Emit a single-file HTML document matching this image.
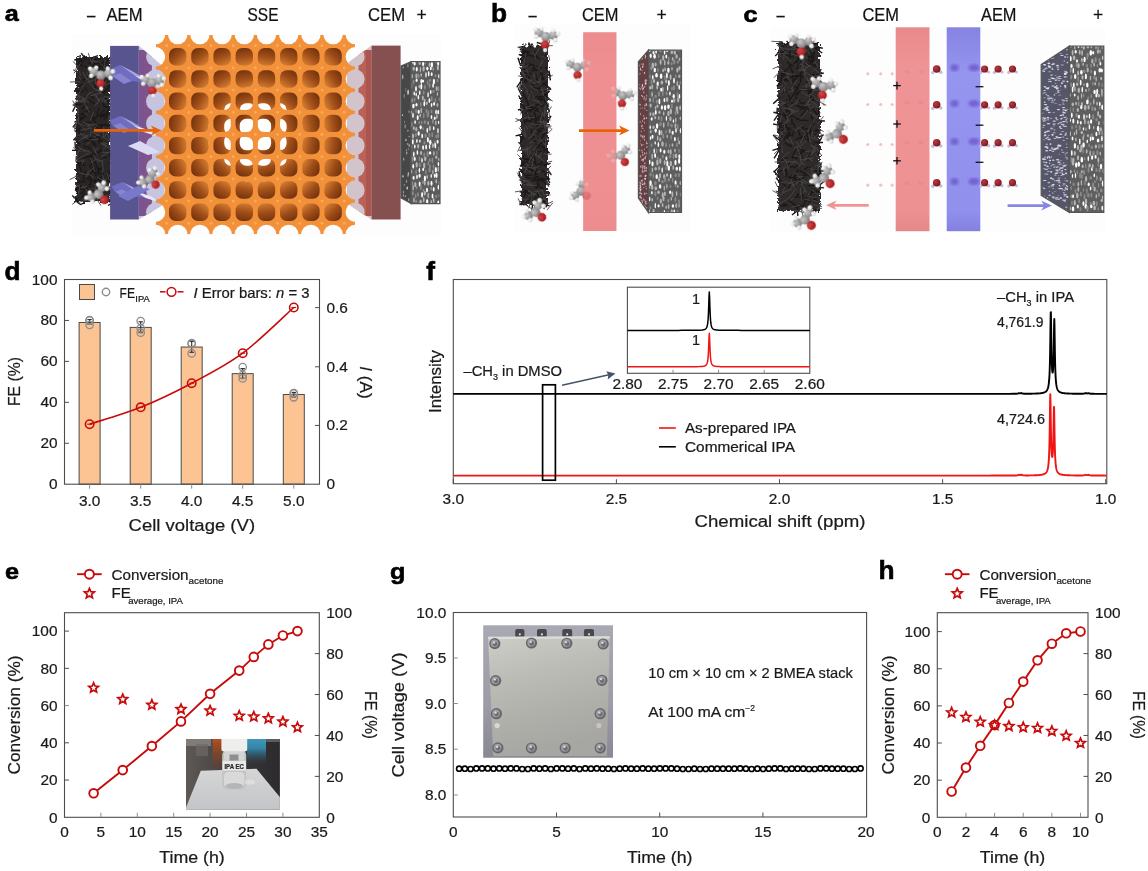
<!DOCTYPE html>
<html><head><meta charset="utf-8"><title>Figure</title>
<style>
html,body{margin:0;padding:0;background:#fff;}
body{width:1148px;height:871px;overflow:hidden;font-family:"Liberation Sans", sans-serif;}
svg{display:block;font-family:"Liberation Sans", sans-serif;will-change:transform;}
text:not(.pl){stroke:#1a1a1a;stroke-width:0.22px;}
</style></head><body>
<svg width="1148" height="871" viewBox="0 0 1148 871">
<rect width="1148" height="871" fill="#ffffff"/>
<g id="pd">
<text transform="translate(4.5,279.5) scale(1.03,1)" font-size="25.5" font-weight="bold" class="pl" fill="#000" stroke="#000" stroke-width="0.6">d</text>
<rect x="79.10" y="322.49" width="21" height="161.71" fill="#fcc493" stroke="#4a4a4a" stroke-width="1"/>
<rect x="130.20" y="327.40" width="21" height="156.80" fill="#fcc493" stroke="#4a4a4a" stroke-width="1"/>
<rect x="181.20" y="347.05" width="21" height="137.15" fill="#fcc493" stroke="#4a4a4a" stroke-width="1"/>
<rect x="232.20" y="373.66" width="21" height="110.54" fill="#fcc493" stroke="#4a4a4a" stroke-width="1"/>
<rect x="283.30" y="394.54" width="21" height="89.66" fill="#fcc493" stroke="#4a4a4a" stroke-width="1"/>
<rect x="64.5" y="279.5" width="255.0" height="204.7" fill="none" stroke="#4d4d4d" stroke-width="1.1"/>
<text x="57.5" y="489.2" font-size="15.4" text-anchor="end" fill="#1a1a1a" font-weight="normal" >0</text>
<line x1="64.5" y1="443.26" x2="69.0" y2="443.26" stroke="#4d4d4d" stroke-width="1" />
<text x="57.5" y="448.26" font-size="15.4" text-anchor="end" fill="#1a1a1a" font-weight="normal" >20</text>
<line x1="64.5" y1="402.32" x2="69.0" y2="402.32" stroke="#4d4d4d" stroke-width="1" />
<text x="57.5" y="407.32" font-size="15.4" text-anchor="end" fill="#1a1a1a" font-weight="normal" >40</text>
<line x1="64.5" y1="361.38" x2="69.0" y2="361.38" stroke="#4d4d4d" stroke-width="1" />
<text x="57.5" y="366.38" font-size="15.4" text-anchor="end" fill="#1a1a1a" font-weight="normal" >60</text>
<line x1="64.5" y1="320.44" x2="69.0" y2="320.44" stroke="#4d4d4d" stroke-width="1" />
<text x="57.5" y="325.44" font-size="15.4" text-anchor="end" fill="#1a1a1a" font-weight="normal" >80</text>
<text x="57.5" y="284.5" font-size="15.4" text-anchor="end" fill="#1a1a1a" font-weight="normal" >100</text>
<text x="326.5" y="489.2" font-size="15.4" text-anchor="start" fill="#1a1a1a" font-weight="normal" >0</text>
<line x1="315.0" y1="425.4" x2="319.5" y2="425.4" stroke="#4d4d4d" stroke-width="1" />
<text x="326.5" y="430.4" font-size="15.4" text-anchor="start" fill="#1a1a1a" font-weight="normal" >0.2</text>
<line x1="315.0" y1="366.8" x2="319.5" y2="366.8" stroke="#4d4d4d" stroke-width="1" />
<text x="326.5" y="371.8" font-size="15.4" text-anchor="start" fill="#1a1a1a" font-weight="normal" >0.4</text>
<line x1="315.0" y1="307.6" x2="319.5" y2="307.6" stroke="#4d4d4d" stroke-width="1" />
<text x="326.5" y="312.6" font-size="15.4" text-anchor="start" fill="#1a1a1a" font-weight="normal" >0.6</text>
<line x1="89.6" y1="484.2" x2="89.6" y2="488.7" stroke="#8c8c8c" stroke-width="1" />
<text x="89.6" y="505.5" font-size="15.4" text-anchor="middle" fill="#1a1a1a" font-weight="normal" >3.0</text>
<line x1="140.7" y1="484.2" x2="140.7" y2="488.7" stroke="#8c8c8c" stroke-width="1" />
<text x="140.7" y="505.5" font-size="15.4" text-anchor="middle" fill="#1a1a1a" font-weight="normal" >3.5</text>
<line x1="191.7" y1="484.2" x2="191.7" y2="488.7" stroke="#8c8c8c" stroke-width="1" />
<text x="191.7" y="505.5" font-size="15.4" text-anchor="middle" fill="#1a1a1a" font-weight="normal" >4.0</text>
<line x1="242.7" y1="484.2" x2="242.7" y2="488.7" stroke="#8c8c8c" stroke-width="1" />
<text x="242.7" y="505.5" font-size="15.4" text-anchor="middle" fill="#1a1a1a" font-weight="normal" >4.5</text>
<line x1="293.8" y1="484.2" x2="293.8" y2="488.7" stroke="#8c8c8c" stroke-width="1" />
<text x="293.8" y="505.5" font-size="15.4" text-anchor="middle" fill="#1a1a1a" font-weight="normal" >5.0</text>
<text x="191.8" y="530.5" font-size="17.1" text-anchor="middle" fill="#1a1a1a" font-weight="normal" textLength="126.5" lengthAdjust="spacingAndGlyphs" >Cell voltage (V)</text>
<text transform="translate(19.5,381.5) rotate(-90)" font-size="17.1" text-anchor="middle" fill="#1a1a1a" textLength="49" lengthAdjust="spacingAndGlyphs">FE (%)</text>
<text transform="translate(360,382.5) rotate(90)" font-size="17.1" text-anchor="middle" fill="#1a1a1a"><tspan font-style="italic">I</tspan> (A)</text>
<line x1="89.6" y1="319.6" x2="89.6" y2="324.4" stroke="#2a2a2a" stroke-width="1.1" />
<line x1="87.39999999999999" y1="319.6" x2="91.8" y2="319.6" stroke="#2a2a2a" stroke-width="1.1" />
<line x1="87.39999999999999" y1="324.4" x2="91.8" y2="324.4" stroke="#2a2a2a" stroke-width="1.1" />
<circle cx="89.6" cy="320.00" r="3.7" fill="none" stroke="#8c8c8c" stroke-width="1.3"/>
<circle cx="89.6" cy="320.60" r="3.7" fill="none" stroke="#8c8c8c" stroke-width="1.3"/>
<circle cx="89.6" cy="325.00" r="3.7" fill="none" stroke="#8c8c8c" stroke-width="1.3"/>
<line x1="140.7" y1="321.8" x2="140.7" y2="332.7" stroke="#2a2a2a" stroke-width="1.1" />
<line x1="138.5" y1="321.8" x2="142.89999999999998" y2="321.8" stroke="#2a2a2a" stroke-width="1.1" />
<line x1="138.5" y1="332.7" x2="142.89999999999998" y2="332.7" stroke="#2a2a2a" stroke-width="1.1" />
<circle cx="140.7" cy="321.10" r="3.7" fill="none" stroke="#8c8c8c" stroke-width="1.3"/>
<circle cx="140.7" cy="328.30" r="3.7" fill="none" stroke="#8c8c8c" stroke-width="1.3"/>
<circle cx="140.7" cy="332.70" r="3.7" fill="none" stroke="#8c8c8c" stroke-width="1.3"/>
<line x1="191.7" y1="341.4" x2="191.7" y2="352.3" stroke="#2a2a2a" stroke-width="1.1" />
<line x1="189.5" y1="341.4" x2="193.89999999999998" y2="341.4" stroke="#2a2a2a" stroke-width="1.1" />
<line x1="189.5" y1="352.3" x2="193.89999999999998" y2="352.3" stroke="#2a2a2a" stroke-width="1.1" />
<circle cx="191.7" cy="343.10" r="3.7" fill="none" stroke="#8c8c8c" stroke-width="1.3"/>
<circle cx="191.7" cy="343.80" r="3.7" fill="none" stroke="#8c8c8c" stroke-width="1.3"/>
<circle cx="191.7" cy="353.40" r="3.7" fill="none" stroke="#8c8c8c" stroke-width="1.3"/>
<line x1="242.7" y1="368.6" x2="242.7" y2="378.4" stroke="#2a2a2a" stroke-width="1.1" />
<line x1="240.5" y1="368.6" x2="244.89999999999998" y2="368.6" stroke="#2a2a2a" stroke-width="1.1" />
<line x1="240.5" y1="378.4" x2="244.89999999999998" y2="378.4" stroke="#2a2a2a" stroke-width="1.1" />
<circle cx="242.7" cy="367.10" r="3.7" fill="none" stroke="#8c8c8c" stroke-width="1.3"/>
<circle cx="242.7" cy="375.10" r="3.7" fill="none" stroke="#8c8c8c" stroke-width="1.3"/>
<circle cx="242.7" cy="378.40" r="3.7" fill="none" stroke="#8c8c8c" stroke-width="1.3"/>
<line x1="293.8" y1="392.4" x2="293.8" y2="397.2" stroke="#2a2a2a" stroke-width="1.1" />
<line x1="291.6" y1="392.4" x2="296.0" y2="392.4" stroke="#2a2a2a" stroke-width="1.1" />
<line x1="291.6" y1="397.2" x2="296.0" y2="397.2" stroke="#2a2a2a" stroke-width="1.1" />
<circle cx="293.8" cy="393.00" r="3.7" fill="none" stroke="#8c8c8c" stroke-width="1.3"/>
<circle cx="293.8" cy="393.60" r="3.7" fill="none" stroke="#8c8c8c" stroke-width="1.3"/>
<circle cx="293.8" cy="397.30" r="3.7" fill="none" stroke="#8c8c8c" stroke-width="1.3"/>
<path d="M89.60,424.20 C98.12,421.38 123.68,414.13 140.70,407.30 C157.72,400.47 174.70,392.22 191.70,383.20 C208.70,374.18 225.68,365.82 242.70,353.20 C259.72,340.58 285.28,315.12 293.80,307.50" fill="none" stroke="#c70a0a" stroke-width="1.6"/>
<circle cx="89.6" cy="424.2" r="4.2" fill="none" stroke="#c70a0a" stroke-width="1.6"/>
<line x1="87.19999999999999" y1="424.2" x2="92.0" y2="424.2" stroke="#c70a0a" stroke-width="1.1" />
<circle cx="140.7" cy="407.3" r="4.2" fill="none" stroke="#c70a0a" stroke-width="1.6"/>
<line x1="138.29999999999998" y1="407.3" x2="143.1" y2="407.3" stroke="#c70a0a" stroke-width="1.1" />
<circle cx="191.7" cy="383.2" r="4.2" fill="none" stroke="#c70a0a" stroke-width="1.6"/>
<line x1="189.29999999999998" y1="383.2" x2="194.1" y2="383.2" stroke="#c70a0a" stroke-width="1.1" />
<circle cx="242.7" cy="353.2" r="4.2" fill="none" stroke="#c70a0a" stroke-width="1.6"/>
<line x1="240.29999999999998" y1="353.2" x2="245.1" y2="353.2" stroke="#c70a0a" stroke-width="1.1" />
<circle cx="293.8" cy="307.5" r="4.2" fill="none" stroke="#c70a0a" stroke-width="1.6"/>
<line x1="291.40000000000003" y1="307.5" x2="296.2" y2="307.5" stroke="#c70a0a" stroke-width="1.1" />
<rect x="79.5" y="284.5" width="15" height="15" fill="#fcc493" stroke="#4a4a4a" stroke-width="1"/>
<circle cx="106" cy="292" r="3.7" fill="none" stroke="#8c8c8c" stroke-width="1.4"/>
<text x="119.5" y="297.5" font-size="15" fill="#1a1a1a"><tspan textLength="15.5" lengthAdjust="spacingAndGlyphs">FE</tspan><tspan font-size="9.4" dy="4.2" dx="0.3">IPA</tspan></text>
<line x1="160" y1="291.8" x2="165.5" y2="291.8" stroke="#c70a0a" stroke-width="1.5" />
<line x1="177.5" y1="291.8" x2="183.5" y2="291.8" stroke="#c70a0a" stroke-width="1.5" />
<circle cx="171.5" cy="291.8" r="4.4" fill="none" stroke="#c70a0a" stroke-width="1.5"/>
<text x="193.5" y="297.5" font-size="15" fill="#1a1a1a" textLength="116" lengthAdjust="spacingAndGlyphs"><tspan font-style="italic">I</tspan> Error bars: <tspan font-style="italic">n</tspan> = 3</text>
</g>
<g id="pf">
<text transform="translate(426.3,279.5) scale(1.03,1)" font-size="25.5" font-weight="bold" class="pl" fill="#000" stroke="#000" stroke-width="0.6">f</text>
<rect x="453.3" y="279.5" width="653.5" height="204.2" fill="none" stroke="#4d4d4d" stroke-width="1.1"/>
<line x1="453.3" y1="479.2" x2="453.3" y2="483.7" stroke="#4d4d4d" stroke-width="1" />
<text x="453.3" y="503.5" font-size="15.4" text-anchor="middle" fill="#1a1a1a" font-weight="normal" >3.0</text>
<line x1="616.4" y1="479.2" x2="616.4" y2="483.7" stroke="#4d4d4d" stroke-width="1" />
<text x="616.4" y="503.5" font-size="15.4" text-anchor="middle" fill="#1a1a1a" font-weight="normal" >2.5</text>
<line x1="779.5" y1="479.2" x2="779.5" y2="483.7" stroke="#4d4d4d" stroke-width="1" />
<text x="779.5" y="503.5" font-size="15.4" text-anchor="middle" fill="#1a1a1a" font-weight="normal" >2.0</text>
<line x1="942.6" y1="479.2" x2="942.6" y2="483.7" stroke="#4d4d4d" stroke-width="1" />
<text x="942.6" y="503.5" font-size="15.4" text-anchor="middle" fill="#1a1a1a" font-weight="normal" >1.5</text>
<line x1="1105.7" y1="479.2" x2="1105.7" y2="483.7" stroke="#4d4d4d" stroke-width="1" />
<text x="1105.7" y="503.5" font-size="15.4" text-anchor="middle" fill="#1a1a1a" font-weight="normal" >1.0</text>
<text x="780" y="526.5" font-size="17.1" text-anchor="middle" fill="#1a1a1a" font-weight="normal" textLength="171" lengthAdjust="spacingAndGlyphs" >Chemical shift (ppm)</text>
<text transform="translate(441,381.5) rotate(-90)" font-size="17.1" text-anchor="middle" fill="#1a1a1a" textLength="63" lengthAdjust="spacingAndGlyphs">Intensity</text>
<polyline points="453.30,393.90 457.30,393.90 461.30,393.90 465.30,393.90 469.30,393.90 473.30,393.90 477.30,393.90 481.30,393.90 485.30,393.90 489.30,393.90 493.30,393.90 497.30,393.90 501.30,393.90 505.30,393.90 509.30,393.90 513.30,393.90 517.30,393.90 521.30,393.90 525.30,393.90 529.30,393.90 533.30,393.90 537.30,393.90 541.30,393.90 545.30,393.90 549.30,393.90 553.30,393.90 557.30,393.90 561.30,393.90 565.30,393.90 569.30,393.90 573.30,393.90 577.30,393.90 581.30,393.90 585.30,393.90 589.30,393.90 593.30,393.90 597.30,393.90 601.30,393.90 605.30,393.90 609.30,393.90 613.30,393.90 617.30,393.90 621.30,393.90 625.30,393.90 629.30,393.90 633.30,393.90 637.30,393.90 641.30,393.90 645.30,393.90 649.30,393.90 653.30,393.90 657.30,393.90 661.30,393.90 665.30,393.90 669.30,393.90 673.30,393.90 677.30,393.90 681.30,393.90 685.30,393.90 689.30,393.90 693.30,393.90 697.30,393.90 701.30,393.90 705.30,393.90 709.30,393.90 713.30,393.90 717.30,393.90 721.30,393.90 725.30,393.90 729.30,393.90 733.30,393.90 737.30,393.90 741.30,393.90 745.30,393.90 749.30,393.90 753.30,393.90 757.30,393.90 761.30,393.90 765.30,393.90 769.30,393.90 773.30,393.90 777.30,393.90 781.30,393.90 785.30,393.90 789.30,393.90 793.30,393.90 797.30,393.90 801.30,393.90 805.30,393.90 809.30,393.90 813.30,393.90 817.30,393.90 821.30,393.90 825.30,393.90 829.30,393.90 833.30,393.90 837.30,393.90 841.30,393.90 845.30,393.90 849.30,393.90 853.30,393.90 857.30,393.90 861.30,393.90 865.30,393.90 869.30,393.90 873.30,393.90 877.30,393.90 881.30,393.90 885.30,393.90 889.30,393.90 893.30,393.90 897.30,393.90 901.30,393.90 905.30,393.90 909.30,393.90 913.30,393.90 917.30,393.90 921.30,393.89 925.30,393.89 929.30,393.89 933.30,393.89 937.30,393.89 941.30,393.89 945.30,393.89 949.30,393.89 953.30,393.89 957.30,393.89 961.30,393.89 965.30,393.89 969.30,393.89 973.30,393.89 977.30,393.88 981.30,393.88 985.30,393.88 989.30,393.88 993.30,393.87 997.30,393.87 1001.30,393.86 1005.30,393.86 1009.30,393.84 1013.30,393.82 1013.80,393.81 1014.30,393.80 1014.80,393.79 1015.30,393.78 1015.80,393.77 1016.30,393.74 1016.80,393.71 1017.30,393.64 1017.80,393.54 1018.30,393.34 1018.80,393.09 1019.30,393.09 1019.80,393.27 1020.30,393.34 1020.80,393.24 1021.30,393.05 1021.80,393.11 1022.30,393.36 1022.80,393.54 1023.30,393.63 1023.80,393.68 1024.30,393.70 1024.80,393.72 1025.30,393.73 1025.80,393.73 1026.30,393.74 1026.80,393.74 1027.30,393.74 1027.80,393.73 1028.30,393.73 1028.80,393.73 1029.30,393.72 1029.80,393.71 1030.30,393.71 1030.80,393.70 1031.30,393.69 1031.80,393.68 1032.30,393.67 1032.80,393.66 1033.30,393.65 1033.80,393.64 1034.30,393.62 1034.80,393.61 1035.30,393.59 1035.80,393.57 1036.30,393.55 1036.80,393.53 1037.30,393.50 1037.80,393.48 1038.30,393.44 1038.80,393.41 1039.30,393.37 1039.80,393.33 1040.30,393.28 1040.50,393.25 1040.70,393.23 1040.90,393.21 1041.10,393.18 1041.30,393.15 1041.50,393.13 1041.70,393.09 1041.90,393.06 1042.10,393.03 1042.30,392.99 1042.50,392.95 1042.70,392.91 1042.90,392.86 1043.10,392.82 1043.30,392.76 1043.50,392.71 1043.70,392.65 1043.90,392.58 1044.10,392.51 1044.30,392.44 1044.50,392.36 1044.70,392.27 1044.90,392.17 1045.10,392.06 1045.30,391.94 1045.50,391.81 1045.70,391.67 1045.90,391.51 1046.10,391.34 1046.30,391.14 1046.50,390.92 1046.70,390.67 1046.90,390.38 1047.10,390.06 1047.30,389.68 1047.50,389.25 1047.70,388.75 1047.90,388.16 1048.10,387.45 1048.30,386.61 1048.50,385.58 1048.70,384.32 1048.90,382.73 1049.10,380.71 1049.30,378.07 1049.50,374.55 1049.70,369.72 1049.90,362.96 1050.10,353.40 1050.30,340.34 1050.50,324.77 1050.70,312.49 1050.90,312.17 1051.10,323.81 1051.30,338.71 1051.50,351.04 1051.70,359.79 1051.90,365.63 1052.10,369.37 1052.30,371.59 1052.50,372.61 1052.70,372.58 1052.90,371.47 1053.10,369.11 1053.30,365.12 1053.50,358.89 1053.70,349.67 1053.90,337.35 1054.10,324.65 1054.30,318.96 1054.50,325.37 1054.70,338.80 1054.90,351.91 1055.10,361.98 1055.30,369.18 1055.50,374.29 1055.70,377.98 1055.90,380.72 1056.10,382.79 1056.30,384.40 1056.50,385.68 1056.70,386.71 1056.90,387.56 1057.10,388.26 1057.30,388.84 1057.50,389.34 1057.70,389.77 1057.90,390.13 1058.10,390.45 1058.30,390.73 1058.50,390.98 1058.70,391.20 1058.90,391.39 1059.10,391.56 1059.30,391.72 1059.50,391.86 1059.70,391.98 1059.90,392.10 1060.10,392.20 1060.30,392.30 1060.50,392.39 1060.70,392.47 1060.90,392.54 1061.10,392.61 1061.30,392.67 1061.50,392.73 1061.70,392.78 1061.90,392.84 1062.10,392.88 1062.30,392.93 1062.50,392.97 1062.70,393.01 1062.90,393.04 1063.10,393.08 1063.30,393.11 1063.50,393.14 1063.70,393.17 1063.90,393.19 1064.10,393.22 1064.30,393.24 1064.50,393.27 1064.70,393.29 1064.90,393.31 1065.10,393.33 1065.30,393.34 1065.50,393.36 1065.70,393.38 1065.90,393.39 1066.10,393.41 1066.60,393.44 1067.10,393.48 1067.60,393.50 1068.10,393.53 1068.60,393.55 1069.10,393.57 1069.60,393.59 1070.10,393.61 1070.60,393.62 1071.10,393.64 1071.60,393.65 1072.10,393.66 1072.60,393.68 1073.10,393.69 1073.60,393.70 1074.10,393.70 1074.60,393.71 1075.10,393.72 1075.60,393.73 1076.10,393.73 1076.60,393.74 1077.10,393.74 1077.60,393.75 1078.10,393.75 1078.60,393.75 1079.10,393.76 1079.60,393.76 1080.10,393.76 1080.60,393.76 1081.10,393.75 1081.60,393.75 1082.10,393.74 1082.60,393.73 1083.10,393.70 1083.60,393.66 1084.10,393.58 1084.60,393.43 1085.10,393.19 1085.60,393.07 1086.10,393.25 1086.60,393.42 1087.10,393.45 1087.60,393.37 1088.10,393.17 1088.60,393.09 1089.10,393.31 1089.60,393.52 1090.10,393.64 1090.60,393.71 1091.10,393.75 1091.60,393.77 1092.10,393.79 1092.60,393.80 1093.10,393.81 1093.60,393.82 1094.10,393.82 1094.60,393.83 1095.10,393.83 1099.10,393.85 1103.10,393.86 1106.8,393.9" fill="none" stroke="#000" stroke-width="1.9" stroke-linejoin="round"/>
<polyline points="453.30,475.60 457.30,475.60 461.30,475.60 465.30,475.60 469.30,475.60 473.30,475.60 477.30,475.60 481.30,475.60 485.30,475.60 489.30,475.60 493.30,475.60 497.30,475.60 501.30,475.60 505.30,475.60 509.30,475.60 513.30,475.60 517.30,475.60 521.30,475.60 525.30,475.60 529.30,475.60 533.30,475.60 537.30,475.60 541.30,475.60 545.30,475.60 549.30,475.60 553.30,475.60 557.30,475.60 561.30,475.60 565.30,475.60 569.30,475.60 573.30,475.60 577.30,475.60 581.30,475.60 585.30,475.60 589.30,475.60 593.30,475.60 597.30,475.60 601.30,475.60 605.30,475.60 609.30,475.60 613.30,475.60 617.30,475.60 621.30,475.60 625.30,475.60 629.30,475.60 633.30,475.60 637.30,475.60 641.30,475.60 645.30,475.60 649.30,475.60 653.30,475.60 657.30,475.60 661.30,475.60 665.30,475.60 669.30,475.60 673.30,475.60 677.30,475.60 681.30,475.60 685.30,475.60 689.30,475.60 693.30,475.60 697.30,475.60 701.30,475.60 705.30,475.60 709.30,475.60 713.30,475.60 717.30,475.60 721.30,475.60 725.30,475.60 729.30,475.60 733.30,475.60 737.30,475.60 741.30,475.60 745.30,475.60 749.30,475.60 753.30,475.60 757.30,475.60 761.30,475.60 765.30,475.60 769.30,475.60 773.30,475.60 777.30,475.60 781.30,475.60 785.30,475.60 789.30,475.60 793.30,475.60 797.30,475.60 801.30,475.60 805.30,475.60 809.30,475.60 813.30,475.60 817.30,475.60 821.30,475.60 825.30,475.60 829.30,475.60 833.30,475.60 837.30,475.60 841.30,475.60 845.30,475.60 849.30,475.60 853.30,475.60 857.30,475.60 861.30,475.60 865.30,475.60 869.30,475.60 873.30,475.60 877.30,475.60 881.30,475.60 885.30,475.60 889.30,475.60 893.30,475.60 897.30,475.60 901.30,475.60 905.30,475.60 909.30,475.60 913.30,475.60 917.30,475.60 921.30,475.59 925.30,475.59 929.30,475.59 933.30,475.59 937.30,475.59 941.30,475.59 945.30,475.59 949.30,475.59 953.30,475.59 957.30,475.59 961.30,475.59 965.30,475.59 969.30,475.59 973.30,475.59 977.30,475.58 981.30,475.58 985.30,475.58 989.30,475.58 993.30,475.57 997.30,475.57 1001.30,475.56 1005.30,475.56 1009.30,475.54 1013.30,475.52 1013.80,475.51 1014.30,475.51 1014.80,475.50 1015.30,475.48 1015.80,475.47 1016.30,475.44 1016.80,475.41 1017.30,475.35 1017.80,475.24 1018.30,475.04 1018.80,474.79 1019.30,474.79 1019.80,474.97 1020.30,475.04 1020.80,474.94 1021.30,474.75 1021.80,474.81 1022.30,475.06 1022.80,475.24 1023.30,475.33 1023.80,475.38 1024.30,475.40 1024.80,475.42 1025.30,475.43 1025.80,475.43 1026.30,475.44 1026.80,475.44 1027.30,475.44 1027.80,475.43 1028.30,475.43 1028.80,475.43 1029.30,475.42 1029.80,475.41 1030.30,475.41 1030.80,475.40 1031.30,475.39 1031.80,475.38 1032.30,475.37 1032.80,475.36 1033.30,475.35 1033.80,475.33 1034.30,475.32 1034.80,475.30 1035.30,475.29 1035.80,475.27 1036.30,475.24 1036.80,475.22 1037.30,475.19 1037.80,475.16 1038.30,475.13 1038.80,475.09 1039.30,475.05 1039.80,475.00 1040.30,474.95 1040.50,474.92 1040.70,474.90 1040.90,474.87 1041.10,474.84 1041.30,474.81 1041.50,474.78 1041.70,474.75 1041.90,474.71 1042.10,474.67 1042.30,474.63 1042.50,474.58 1042.70,474.54 1042.90,474.48 1043.10,474.43 1043.30,474.37 1043.50,474.30 1043.70,474.23 1043.90,474.16 1044.10,474.08 1044.30,473.99 1044.50,473.89 1044.70,473.78 1044.90,473.66 1045.10,473.53 1045.30,473.38 1045.50,473.22 1045.70,473.04 1045.90,472.84 1046.10,472.61 1046.30,472.35 1046.50,472.06 1046.70,471.72 1046.90,471.34 1047.10,470.88 1047.30,470.36 1047.50,469.73 1047.70,468.98 1047.90,468.08 1048.10,466.97 1048.30,465.60 1048.50,463.86 1048.70,461.61 1048.90,458.64 1049.10,454.63 1049.30,449.05 1049.50,441.18 1049.70,430.15 1049.90,415.79 1050.10,401.09 1050.30,394.14 1050.50,400.57 1050.70,414.75 1050.90,428.55 1051.10,438.98 1051.30,446.17 1051.50,450.97 1051.70,454.08 1051.90,455.96 1052.10,456.87 1052.30,456.92 1052.50,456.12 1052.70,454.32 1052.90,451.24 1053.10,446.42 1053.30,439.17 1053.50,428.91 1053.70,416.51 1053.90,406.83 1054.10,407.13 1054.30,417.42 1054.50,430.45 1054.70,441.39 1054.90,449.40 1055.10,455.07 1055.30,459.12 1055.50,462.09 1055.70,464.31 1055.90,466.01 1056.10,467.35 1056.30,468.42 1056.50,469.29 1056.70,470.01 1056.90,470.61 1057.10,471.11 1057.30,471.54 1057.50,471.91 1057.70,472.23 1057.90,472.51 1058.10,472.75 1058.30,472.97 1058.50,473.16 1058.70,473.33 1058.90,473.48 1059.10,473.62 1059.30,473.74 1059.50,473.86 1059.70,473.96 1059.90,474.05 1060.10,474.14 1060.30,474.22 1060.50,474.29 1060.70,474.35 1060.90,474.42 1061.10,474.47 1061.30,474.53 1061.50,474.57 1061.70,474.62 1061.90,474.66 1062.10,474.70 1062.30,474.74 1062.50,474.77 1062.70,474.81 1062.90,474.84 1063.10,474.87 1063.30,474.89 1063.50,474.92 1063.70,474.94 1063.90,474.97 1064.10,474.99 1064.30,475.01 1064.50,475.03 1064.70,475.05 1064.90,475.07 1065.10,475.08 1065.30,475.10 1065.50,475.11 1065.70,475.13 1065.90,475.14 1066.10,475.16 1066.60,475.19 1067.10,475.22 1067.60,475.24 1068.10,475.26 1068.60,475.28 1069.10,475.30 1069.60,475.32 1070.10,475.33 1070.60,475.35 1071.10,475.36 1071.60,475.37 1072.10,475.38 1072.60,475.39 1073.10,475.40 1073.60,475.41 1074.10,475.42 1074.60,475.43 1075.10,475.43 1075.60,475.44 1076.10,475.44 1076.60,475.45 1077.10,475.45 1077.60,475.46 1078.10,475.46 1078.60,475.46 1079.10,475.46 1079.60,475.47 1080.10,475.47 1080.60,475.46 1081.10,475.46 1081.60,475.46 1082.10,475.45 1082.60,475.43 1083.10,475.41 1083.60,475.36 1084.10,475.29 1084.60,475.13 1085.10,474.89 1085.60,474.77 1086.10,474.96 1086.60,475.12 1087.10,475.16 1087.60,475.07 1088.10,474.88 1088.60,474.79 1089.10,475.01 1089.60,475.23 1090.10,475.35 1090.60,475.41 1091.10,475.45 1091.60,475.48 1092.10,475.49 1092.60,475.51 1093.10,475.51 1093.60,475.52 1094.10,475.53 1094.60,475.53 1095.10,475.54 1099.10,475.55 1103.10,475.56 1106.8,475.6" fill="none" stroke="#f01414" stroke-width="1.9" stroke-linejoin="round"/>
<rect x="542.6" y="384.8" width="12.8" height="95.4" fill="none" stroke="#000" stroke-width="1.7"/>
<line x1="562" y1="385.2" x2="609" y2="374.7" stroke="#44546a" stroke-width="1.4"/>
<path d="M615.4,373.5 L606.3,371.2 L608.3,375 L607.7,379.4 Z" fill="#44546a"/>
<text x="463.5" y="376" font-size="14" fill="#1a1a1a" textLength="98.5" lengthAdjust="spacingAndGlyphs">–CH<tspan font-size="8.5" dy="4">3</tspan><tspan dy="-4"> in DMSO</tspan></text>
<rect x="627.4" y="287.2" width="182.39999999999998" height="86.10000000000002" fill="#fff" stroke="#4d4d4d" stroke-width="1.1"/>
<polyline points="627.4,330.40 630.4,330.40 633.4,330.40 636.4,330.40 639.4,330.40 642.4,330.40 645.4,330.39 648.4,330.39 651.4,330.39 654.4,330.39 657.4,330.39 660.4,330.39 663.4,330.39 666.4,330.39 669.4,330.39 672.4,330.38 675.4,330.38 678.4,330.38 681.4,330.37 684.4,330.37 687.4,330.35 690.4,330.34 693.4,330.31 696.4,330.27 699.4,330.18 702.4,329.95 702.7,329.91 703.0,329.86 703.3,329.81 703.6,329.74 703.9,329.67 704.2,329.59 704.5,329.48 704.8,329.36 705.1,329.21 705.4,329.03 705.7,328.80 706.0,328.51 706.3,328.14 706.6,327.64 706.9,326.97 707.2,326.04 707.5,324.70 707.8,322.70 708.1,319.59 708.4,314.62 708.7,306.92 709.0,297.21 709.3,291.90 709.6,297.21 709.9,306.92 710.2,314.62 710.5,319.59 710.8,322.70 711.1,324.70 711.4,326.04 711.7,326.97 712.0,327.64 712.3,328.14 712.6,328.51 712.9,328.80 713.2,329.03 713.5,329.21 713.8,329.36 714.1,329.48 714.4,329.59 714.7,329.67 715.0,329.74 715.3,329.81 715.6,329.86 715.9,329.91 716.2,329.95 716.5,329.99 716.8,330.02 717.1,330.05 717.4,330.07 717.7,330.10 718.0,330.12 718.3,330.13 718.6,330.15 718.9,330.17 719.2,330.18 719.5,330.19 719.8,330.20 720.1,330.22 723.1,330.29 726.1,330.32 729.1,330.34 732.1,330.36 735.1,330.37 738.1,330.37 741.1,330.38 744.1,330.38 747.1,330.38 750.1,330.39 753.1,330.39 756.1,330.39 759.1,330.39 762.1,330.39 765.1,330.39 768.1,330.39 771.1,330.39 774.1,330.39 777.1,330.40 780.1,330.40 783.1,330.40 786.1,330.40 789.1,330.40 792.1,330.40 795.1,330.40 798.1,330.40 801.1,330.40 804.1,330.40 807.1,330.40 809.8,330.4" fill="none" stroke="#000" stroke-width="1.5" stroke-linejoin="round"/>
<polyline points="627.4,366.80 630.4,366.80 633.4,366.80 636.4,366.80 639.4,366.80 642.4,366.80 645.4,366.80 648.4,366.79 651.4,366.79 654.4,366.79 657.4,366.79 660.4,366.79 663.4,366.79 666.4,366.79 669.4,366.79 672.4,366.79 675.4,366.78 678.4,366.78 681.4,366.78 684.4,366.77 687.4,366.76 690.4,366.75 693.4,366.73 696.4,366.69 699.4,366.61 702.4,366.41 702.7,366.37 703.0,366.33 703.3,366.28 703.6,366.23 703.9,366.17 704.2,366.09 704.5,366.00 704.8,365.89 705.1,365.76 705.4,365.61 705.7,365.41 706.0,365.15 706.3,364.83 706.6,364.40 706.9,363.82 707.2,363.01 707.5,361.84 707.8,360.10 708.1,357.39 708.4,353.07 708.7,346.37 709.0,337.92 709.3,333.30 709.6,337.92 709.9,346.37 710.2,353.07 710.5,357.39 710.8,360.10 711.1,361.84 711.4,363.01 711.7,363.82 712.0,364.40 712.3,364.83 712.6,365.15 712.9,365.41 713.2,365.61 713.5,365.76 713.8,365.89 714.1,366.00 714.4,366.09 714.7,366.17 715.0,366.23 715.3,366.28 715.6,366.33 715.9,366.37 716.2,366.41 716.5,366.44 716.8,366.47 717.1,366.49 717.4,366.52 717.7,366.54 718.0,366.55 718.3,366.57 718.6,366.58 718.9,366.60 719.2,366.61 719.5,366.62 719.8,366.63 720.1,366.64 723.1,366.70 726.1,366.73 729.1,366.75 732.1,366.76 735.1,366.77 738.1,366.78 741.1,366.78 744.1,366.78 747.1,366.79 750.1,366.79 753.1,366.79 756.1,366.79 759.1,366.79 762.1,366.79 765.1,366.79 768.1,366.79 771.1,366.80 774.1,366.80 777.1,366.80 780.1,366.80 783.1,366.80 786.1,366.80 789.1,366.80 792.1,366.80 795.1,366.80 798.1,366.80 801.1,366.80 804.1,366.80 807.1,366.80 809.8,366.8" fill="none" stroke="#f01414" stroke-width="1.5" stroke-linejoin="round"/>
<text x="700" y="303.8" font-size="14.5" text-anchor="end" fill="#1a1a1a" font-weight="normal" >1</text>
<text x="700" y="345.0" font-size="14.5" text-anchor="end" fill="#1a1a1a" font-weight="normal" >1</text>
<text x="627.4" y="388.8" font-size="15.4" text-anchor="middle" fill="#1a1a1a" font-weight="normal" >2.80</text>
<line x1="673" y1="369.8" x2="673" y2="373.3" stroke="#8c8c8c" stroke-width="1" />
<text x="673" y="388.8" font-size="15.4" text-anchor="middle" fill="#1a1a1a" font-weight="normal" >2.75</text>
<line x1="718.6" y1="369.8" x2="718.6" y2="373.3" stroke="#8c8c8c" stroke-width="1" />
<text x="718.6" y="388.8" font-size="15.4" text-anchor="middle" fill="#1a1a1a" font-weight="normal" >2.70</text>
<line x1="764.2" y1="369.8" x2="764.2" y2="373.3" stroke="#8c8c8c" stroke-width="1" />
<text x="764.2" y="388.8" font-size="15.4" text-anchor="middle" fill="#1a1a1a" font-weight="normal" >2.65</text>
<text x="809.8" y="388.8" font-size="15.4" text-anchor="middle" fill="#1a1a1a" font-weight="normal" >2.60</text>
<text x="997" y="301.5" font-size="14" fill="#1a1a1a" textLength="77" lengthAdjust="spacingAndGlyphs">–CH<tspan font-size="8.5" dy="4">3</tspan><tspan dy="-4"> in IPA</tspan></text>
<text x="997" y="327" font-size="14" text-anchor="start" fill="#1a1a1a" font-weight="normal" textLength="46.5" lengthAdjust="spacingAndGlyphs" >4,761.9</text>
<text x="997" y="424" font-size="14" text-anchor="start" fill="#1a1a1a" font-weight="normal" textLength="48" lengthAdjust="spacingAndGlyphs" >4,724.6</text>
<line x1="659" y1="428" x2="675.8" y2="428" stroke="#f01414" stroke-width="1.6" />
<line x1="659" y1="446.8" x2="675.8" y2="446.8" stroke="#000" stroke-width="1.6" />
<text x="685" y="433" font-size="14" text-anchor="start" fill="#1a1a1a" font-weight="normal" textLength="111" lengthAdjust="spacingAndGlyphs" >As-prepared IPA</text>
<text x="685" y="451.8" font-size="14" text-anchor="start" fill="#1a1a1a" font-weight="normal" textLength="110" lengthAdjust="spacingAndGlyphs" >Commerical IPA</text>
</g>
<g id="pe">
<text transform="translate(5.0,579) scale(1.12,1)" font-size="22.5" font-weight="bold" class="pl" fill="#000" stroke="#000" stroke-width="0.6">e</text>
<rect x="64.5" y="612.7" width="254.8" height="204.5999999999999" fill="none" stroke="#4d4d4d" stroke-width="1.1"/>
<text x="57.5" y="822.5" font-size="15.4" text-anchor="end" fill="#1a1a1a" font-weight="normal" >0</text>
<line x1="64.5" y1="780.06" x2="69.0" y2="780.06" stroke="#4d4d4d" stroke-width="1" />
<text x="57.5" y="785.26" font-size="15.4" text-anchor="end" fill="#1a1a1a" font-weight="normal" >20</text>
<line x1="64.5" y1="742.8199999999999" x2="69.0" y2="742.8199999999999" stroke="#4d4d4d" stroke-width="1" />
<text x="57.5" y="748.02" font-size="15.4" text-anchor="end" fill="#1a1a1a" font-weight="normal" >40</text>
<line x1="64.5" y1="705.58" x2="69.0" y2="705.58" stroke="#8c8c8c" stroke-width="1" />
<text x="57.5" y="710.7800000000001" font-size="15.4" text-anchor="end" fill="#1a1a1a" font-weight="normal" >60</text>
<line x1="64.5" y1="668.34" x2="69.0" y2="668.34" stroke="#4d4d4d" stroke-width="1" />
<text x="57.5" y="673.5400000000001" font-size="15.4" text-anchor="end" fill="#1a1a1a" font-weight="normal" >80</text>
<line x1="64.5" y1="631.1" x2="69.0" y2="631.1" stroke="#4d4d4d" stroke-width="1" />
<text x="57.5" y="636.3000000000001" font-size="15.4" text-anchor="end" fill="#1a1a1a" font-weight="normal" >100</text>
<text x="326.3" y="822.5" font-size="15.4" text-anchor="start" fill="#1a1a1a" font-weight="normal" >0</text>
<line x1="314.8" y1="776.38" x2="319.3" y2="776.38" stroke="#4d4d4d" stroke-width="1" />
<text x="326.3" y="781.58" font-size="15.4" text-anchor="start" fill="#1a1a1a" font-weight="normal" >20</text>
<line x1="314.8" y1="735.46" x2="319.3" y2="735.46" stroke="#4d4d4d" stroke-width="1" />
<text x="326.3" y="740.6600000000001" font-size="15.4" text-anchor="start" fill="#1a1a1a" font-weight="normal" >40</text>
<line x1="314.8" y1="694.54" x2="319.3" y2="694.54" stroke="#4d4d4d" stroke-width="1" />
<text x="326.3" y="699.74" font-size="15.4" text-anchor="start" fill="#1a1a1a" font-weight="normal" >60</text>
<line x1="314.8" y1="653.62" x2="319.3" y2="653.62" stroke="#4d4d4d" stroke-width="1" />
<text x="326.3" y="658.82" font-size="15.4" text-anchor="start" fill="#1a1a1a" font-weight="normal" >80</text>
<text x="326.3" y="617.9000000000001" font-size="15.4" text-anchor="start" fill="#1a1a1a" font-weight="normal" >100</text>
<text x="64.5" y="836.5" font-size="15.4" text-anchor="middle" fill="#1a1a1a" font-weight="normal" >0</text>
<line x1="100.9" y1="812.8" x2="100.9" y2="817.3" stroke="#8c8c8c" stroke-width="1" />
<text x="100.9" y="836.5" font-size="15.4" text-anchor="middle" fill="#1a1a1a" font-weight="normal" >5</text>
<line x1="137.3" y1="812.8" x2="137.3" y2="817.3" stroke="#8c8c8c" stroke-width="1" />
<text x="137.3" y="836.5" font-size="15.4" text-anchor="middle" fill="#1a1a1a" font-weight="normal" >10</text>
<line x1="173.7" y1="812.8" x2="173.7" y2="817.3" stroke="#8c8c8c" stroke-width="1" />
<text x="173.7" y="836.5" font-size="15.4" text-anchor="middle" fill="#1a1a1a" font-weight="normal" >15</text>
<line x1="210.1" y1="812.8" x2="210.1" y2="817.3" stroke="#8c8c8c" stroke-width="1" />
<text x="210.1" y="836.5" font-size="15.4" text-anchor="middle" fill="#1a1a1a" font-weight="normal" >20</text>
<line x1="246.5" y1="812.8" x2="246.5" y2="817.3" stroke="#8c8c8c" stroke-width="1" />
<text x="246.5" y="836.5" font-size="15.4" text-anchor="middle" fill="#1a1a1a" font-weight="normal" >25</text>
<line x1="282.9" y1="812.8" x2="282.9" y2="817.3" stroke="#8c8c8c" stroke-width="1" />
<text x="282.9" y="836.5" font-size="15.4" text-anchor="middle" fill="#1a1a1a" font-weight="normal" >30</text>
<text x="319.3" y="836.5" font-size="15.4" text-anchor="middle" fill="#1a1a1a" font-weight="normal" >35</text>
<text x="192" y="863.3" font-size="17.1" text-anchor="middle" fill="#1a1a1a" font-weight="normal" textLength="65.5" lengthAdjust="spacingAndGlyphs" >Time (h)</text>
<text transform="translate(19.5,715) rotate(-90)" font-size="17.1" text-anchor="middle" fill="#1a1a1a" textLength="119" lengthAdjust="spacingAndGlyphs">Conversion (%)</text>
<text transform="translate(364.5,715) rotate(90)" font-size="17.1" text-anchor="middle" fill="#1a1a1a" textLength="48" lengthAdjust="spacingAndGlyphs">FE (%)</text>
<polyline points="93.62,793.30 122.74,770.10 151.86,746.10 180.98,721.40 210.10,693.80 239.22,670.60 253.78,656.90 268.34,644.40 282.90,635.50 297.46,631.10" fill="none" stroke="#c70a0a" stroke-width="1.9"/>
<circle cx="93.62" cy="793.30" r="4.35" fill="#fff" stroke="#c70a0a" stroke-width="1.9"/>
<circle cx="122.74" cy="770.10" r="4.35" fill="#fff" stroke="#c70a0a" stroke-width="1.9"/>
<circle cx="151.86" cy="746.10" r="4.35" fill="#fff" stroke="#c70a0a" stroke-width="1.9"/>
<circle cx="180.98" cy="721.40" r="4.35" fill="#fff" stroke="#c70a0a" stroke-width="1.9"/>
<circle cx="210.10" cy="693.80" r="4.35" fill="#fff" stroke="#c70a0a" stroke-width="1.9"/>
<circle cx="239.22" cy="670.60" r="4.35" fill="#fff" stroke="#c70a0a" stroke-width="1.9"/>
<circle cx="253.78" cy="656.90" r="4.35" fill="#fff" stroke="#c70a0a" stroke-width="1.9"/>
<circle cx="268.34" cy="644.40" r="4.35" fill="#fff" stroke="#c70a0a" stroke-width="1.9"/>
<circle cx="282.90" cy="635.50" r="4.35" fill="#fff" stroke="#c70a0a" stroke-width="1.9"/>
<circle cx="297.46" cy="631.10" r="4.35" fill="#fff" stroke="#c70a0a" stroke-width="1.9"/>
<polygon points="93.62,682.80 94.97,686.04 98.47,686.32 95.81,688.61 96.62,692.03 93.62,690.20 90.62,692.03 91.43,688.61 88.77,686.32 92.27,686.04" fill="#fff" stroke="#c70a0a" stroke-width="1.7" stroke-linejoin="miter"/>
<polygon points="122.74,694.20 124.09,697.44 127.59,697.72 124.93,700.01 125.74,703.43 122.74,701.60 119.74,703.43 120.55,700.01 117.89,697.72 121.39,697.44" fill="#fff" stroke="#c70a0a" stroke-width="1.7" stroke-linejoin="miter"/>
<polygon points="151.86,699.80 153.21,703.04 156.71,703.32 154.05,705.61 154.86,709.03 151.86,707.20 148.86,709.03 149.67,705.61 147.01,703.32 150.51,703.04" fill="#fff" stroke="#c70a0a" stroke-width="1.7" stroke-linejoin="miter"/>
<polygon points="180.98,704.20 182.33,707.44 185.83,707.72 183.17,710.01 183.98,713.43 180.98,711.60 177.98,713.43 178.79,710.01 176.13,707.72 179.63,707.44" fill="#fff" stroke="#c70a0a" stroke-width="1.7" stroke-linejoin="miter"/>
<polygon points="210.10,705.70 211.45,708.94 214.95,709.22 212.29,711.51 213.10,714.93 210.10,713.10 207.10,714.93 207.91,711.51 205.25,709.22 208.75,708.94" fill="#fff" stroke="#c70a0a" stroke-width="1.7" stroke-linejoin="miter"/>
<polygon points="239.22,710.80 240.57,714.04 244.07,714.32 241.41,716.61 242.22,720.03 239.22,718.20 236.22,720.03 237.03,716.61 234.37,714.32 237.87,714.04" fill="#fff" stroke="#c70a0a" stroke-width="1.7" stroke-linejoin="miter"/>
<polygon points="253.78,711.60 255.13,714.84 258.63,715.12 255.97,717.41 256.78,720.83 253.78,719.00 250.78,720.83 251.59,717.41 248.93,715.12 252.43,714.84" fill="#fff" stroke="#c70a0a" stroke-width="1.7" stroke-linejoin="miter"/>
<polygon points="268.34,713.40 269.69,716.64 273.19,716.92 270.53,719.21 271.34,722.63 268.34,720.80 265.34,722.63 266.15,719.21 263.49,716.92 266.99,716.64" fill="#fff" stroke="#c70a0a" stroke-width="1.7" stroke-linejoin="miter"/>
<polygon points="282.90,716.70 284.25,719.94 287.75,720.22 285.09,722.51 285.90,725.93 282.90,724.10 279.90,725.93 280.71,722.51 278.05,720.22 281.55,719.94" fill="#fff" stroke="#c70a0a" stroke-width="1.7" stroke-linejoin="miter"/>
<polygon points="297.46,722.30 298.81,725.54 302.31,725.82 299.65,728.11 300.46,731.53 297.46,729.70 294.46,731.53 295.27,728.11 292.61,725.82 296.11,725.54" fill="#fff" stroke="#c70a0a" stroke-width="1.7" stroke-linejoin="miter"/>
<line x1="77.10000000000001" y1="574.2" x2="101.7" y2="574.2" stroke="#c70a0a" stroke-width="1.9" />
<circle cx="89.40" cy="574.20" r="4.5" fill="#fff" stroke="#c70a0a" stroke-width="1.9"/>
<polygon points="89.40,588.40 90.78,591.70 94.35,591.99 91.63,594.33 92.46,597.81 89.40,595.95 86.34,597.81 87.17,594.33 84.45,591.99 88.02,591.70" fill="#fff" stroke="#c70a0a" stroke-width="1.7" stroke-linejoin="miter"/>
<text x="111.60000000000001" y="580" font-size="15" fill="#1a1a1a"><tspan textLength="77" lengthAdjust="spacingAndGlyphs">Conversion</tspan><tspan font-size="9.8" dy="4.2">acetone</tspan></text>
<text x="111.60000000000001" y="597.8" font-size="15" fill="#1a1a1a">FE<tspan font-size="9.6" dy="6.2" dx="-2.6">average, IPA</tspan></text>
</g>
<g id="ph">
<text transform="translate(878.5,579) scale(1.03,1)" font-size="25.5" font-weight="bold" class="pl" fill="#000" stroke="#000" stroke-width="0.6">h</text>
<rect x="937.3" y="612.7" width="150.70000000000005" height="204.5999999999999" fill="none" stroke="#4d4d4d" stroke-width="1.1"/>
<text x="930.3" y="822.5" font-size="15.4" text-anchor="end" fill="#1a1a1a" font-weight="normal" >0</text>
<line x1="937.3" y1="780.16" x2="941.8" y2="780.16" stroke="#4d4d4d" stroke-width="1" />
<text x="930.3" y="785.36" font-size="15.4" text-anchor="end" fill="#1a1a1a" font-weight="normal" >20</text>
<line x1="937.3" y1="743.02" x2="941.8" y2="743.02" stroke="#4d4d4d" stroke-width="1" />
<text x="930.3" y="748.22" font-size="15.4" text-anchor="end" fill="#1a1a1a" font-weight="normal" >40</text>
<line x1="937.3" y1="705.88" x2="941.8" y2="705.88" stroke="#4d4d4d" stroke-width="1" />
<text x="930.3" y="711.08" font-size="15.4" text-anchor="end" fill="#1a1a1a" font-weight="normal" >60</text>
<line x1="937.3" y1="668.74" x2="941.8" y2="668.74" stroke="#4d4d4d" stroke-width="1" />
<text x="930.3" y="673.94" font-size="15.4" text-anchor="end" fill="#1a1a1a" font-weight="normal" >80</text>
<line x1="937.3" y1="631.6" x2="941.8" y2="631.6" stroke="#4d4d4d" stroke-width="1" />
<text x="930.3" y="636.8000000000001" font-size="15.4" text-anchor="end" fill="#1a1a1a" font-weight="normal" >100</text>
<text x="1095" y="822.5" font-size="15.4" text-anchor="start" fill="#1a1a1a" font-weight="normal" >0</text>
<line x1="1083.5" y1="776.38" x2="1088" y2="776.38" stroke="#4d4d4d" stroke-width="1" />
<text x="1095" y="781.58" font-size="15.4" text-anchor="start" fill="#1a1a1a" font-weight="normal" >20</text>
<line x1="1083.5" y1="735.46" x2="1088" y2="735.46" stroke="#4d4d4d" stroke-width="1" />
<text x="1095" y="740.6600000000001" font-size="15.4" text-anchor="start" fill="#1a1a1a" font-weight="normal" >40</text>
<line x1="1083.5" y1="694.54" x2="1088" y2="694.54" stroke="#4d4d4d" stroke-width="1" />
<text x="1095" y="699.74" font-size="15.4" text-anchor="start" fill="#1a1a1a" font-weight="normal" >60</text>
<line x1="1083.5" y1="653.62" x2="1088" y2="653.62" stroke="#4d4d4d" stroke-width="1" />
<text x="1095" y="658.82" font-size="15.4" text-anchor="start" fill="#1a1a1a" font-weight="normal" >80</text>
<text x="1095" y="617.9000000000001" font-size="15.4" text-anchor="start" fill="#1a1a1a" font-weight="normal" >100</text>
<text x="937.3" y="836.5" font-size="15.4" text-anchor="middle" fill="#1a1a1a" font-weight="normal" >0</text>
<line x1="965.9399999999999" y1="812.8" x2="965.9399999999999" y2="817.3" stroke="#8c8c8c" stroke-width="1" />
<text x="965.9399999999999" y="836.5" font-size="15.4" text-anchor="middle" fill="#1a1a1a" font-weight="normal" >2</text>
<line x1="994.5799999999999" y1="812.8" x2="994.5799999999999" y2="817.3" stroke="#8c8c8c" stroke-width="1" />
<text x="994.5799999999999" y="836.5" font-size="15.4" text-anchor="middle" fill="#1a1a1a" font-weight="normal" >4</text>
<line x1="1023.2199999999999" y1="812.8" x2="1023.2199999999999" y2="817.3" stroke="#8c8c8c" stroke-width="1" />
<text x="1023.2199999999999" y="836.5" font-size="15.4" text-anchor="middle" fill="#1a1a1a" font-weight="normal" >6</text>
<line x1="1051.86" y1="812.8" x2="1051.86" y2="817.3" stroke="#8c8c8c" stroke-width="1" />
<text x="1051.86" y="836.5" font-size="15.4" text-anchor="middle" fill="#1a1a1a" font-weight="normal" >8</text>
<line x1="1080.5" y1="812.8" x2="1080.5" y2="817.3" stroke="#8c8c8c" stroke-width="1" />
<text x="1080.5" y="836.5" font-size="15.4" text-anchor="middle" fill="#1a1a1a" font-weight="normal" >10</text>
<text x="1012.5" y="863.3" font-size="17.1" text-anchor="middle" fill="#1a1a1a" font-weight="normal" textLength="65.5" lengthAdjust="spacingAndGlyphs" >Time (h)</text>
<text transform="translate(894,715) rotate(-90)" font-size="17.1" text-anchor="middle" fill="#1a1a1a" textLength="119" lengthAdjust="spacingAndGlyphs">Conversion (%)</text>
<text transform="translate(1133,715) rotate(90)" font-size="17.1" text-anchor="middle" fill="#1a1a1a" textLength="48" lengthAdjust="spacingAndGlyphs">FE (%)</text>
<polyline points="951.62,791.50 965.94,767.60 980.26,745.80 994.58,725.10 1008.90,703.00 1023.22,681.60 1037.54,660.30 1051.86,643.70 1066.18,633.30 1080.50,631.50" fill="none" stroke="#c70a0a" stroke-width="1.9"/>
<circle cx="951.62" cy="791.50" r="4.35" fill="#fff" stroke="#c70a0a" stroke-width="1.9"/>
<circle cx="965.94" cy="767.60" r="4.35" fill="#fff" stroke="#c70a0a" stroke-width="1.9"/>
<circle cx="980.26" cy="745.80" r="4.35" fill="#fff" stroke="#c70a0a" stroke-width="1.9"/>
<circle cx="994.58" cy="725.10" r="4.35" fill="#fff" stroke="#c70a0a" stroke-width="1.9"/>
<circle cx="1008.90" cy="703.00" r="4.35" fill="#fff" stroke="#c70a0a" stroke-width="1.9"/>
<circle cx="1023.22" cy="681.60" r="4.35" fill="#fff" stroke="#c70a0a" stroke-width="1.9"/>
<circle cx="1037.54" cy="660.30" r="4.35" fill="#fff" stroke="#c70a0a" stroke-width="1.9"/>
<circle cx="1051.86" cy="643.70" r="4.35" fill="#fff" stroke="#c70a0a" stroke-width="1.9"/>
<circle cx="1066.18" cy="633.30" r="4.35" fill="#fff" stroke="#c70a0a" stroke-width="1.9"/>
<circle cx="1080.50" cy="631.50" r="4.35" fill="#fff" stroke="#c70a0a" stroke-width="1.9"/>
<polygon points="951.62,707.50 952.97,710.74 956.47,711.02 953.81,713.31 954.62,716.73 951.62,714.90 948.62,716.73 949.43,713.31 946.77,711.02 950.27,710.74" fill="#fff" stroke="#c70a0a" stroke-width="1.7" stroke-linejoin="miter"/>
<polygon points="965.94,712.00 967.29,715.24 970.79,715.52 968.13,717.81 968.94,721.23 965.94,719.40 962.94,721.23 963.75,717.81 961.09,715.52 964.59,715.24" fill="#fff" stroke="#c70a0a" stroke-width="1.7" stroke-linejoin="miter"/>
<polygon points="980.26,716.80 981.61,720.04 985.11,720.32 982.45,722.61 983.26,726.03 980.26,724.20 977.26,726.03 978.07,722.61 975.41,720.32 978.91,720.04" fill="#fff" stroke="#c70a0a" stroke-width="1.7" stroke-linejoin="miter"/>
<polygon points="994.58,720.10 995.93,723.34 999.43,723.62 996.77,725.91 997.58,729.33 994.58,727.50 991.58,729.33 992.39,725.91 989.73,723.62 993.23,723.34" fill="#fff" stroke="#c70a0a" stroke-width="1.7" stroke-linejoin="miter"/>
<polygon points="1008.90,721.20 1010.25,724.44 1013.75,724.72 1011.09,727.01 1011.90,730.43 1008.90,728.60 1005.90,730.43 1006.71,727.01 1004.05,724.72 1007.55,724.44" fill="#fff" stroke="#c70a0a" stroke-width="1.7" stroke-linejoin="miter"/>
<polygon points="1023.22,722.30 1024.57,725.54 1028.07,725.82 1025.41,728.11 1026.22,731.53 1023.22,729.70 1020.22,731.53 1021.03,728.11 1018.37,725.82 1021.87,725.54" fill="#fff" stroke="#c70a0a" stroke-width="1.7" stroke-linejoin="miter"/>
<polygon points="1037.54,723.00 1038.89,726.24 1042.39,726.52 1039.73,728.81 1040.54,732.23 1037.54,730.40 1034.54,732.23 1035.35,728.81 1032.69,726.52 1036.19,726.24" fill="#fff" stroke="#c70a0a" stroke-width="1.7" stroke-linejoin="miter"/>
<polygon points="1051.86,726.00 1053.21,729.24 1056.71,729.52 1054.05,731.81 1054.86,735.23 1051.86,733.40 1048.86,735.23 1049.67,731.81 1047.01,729.52 1050.51,729.24" fill="#fff" stroke="#c70a0a" stroke-width="1.7" stroke-linejoin="miter"/>
<polygon points="1066.18,730.80 1067.53,734.04 1071.03,734.32 1068.37,736.61 1069.18,740.03 1066.18,738.20 1063.18,740.03 1063.99,736.61 1061.33,734.32 1064.83,734.04" fill="#fff" stroke="#c70a0a" stroke-width="1.7" stroke-linejoin="miter"/>
<polygon points="1080.50,738.10 1081.85,741.34 1085.35,741.62 1082.69,743.91 1083.50,747.33 1080.50,745.50 1077.50,747.33 1078.31,743.91 1075.65,741.62 1079.15,741.34" fill="#fff" stroke="#c70a0a" stroke-width="1.7" stroke-linejoin="miter"/>
<line x1="944.9000000000001" y1="574.2" x2="969.5" y2="574.2" stroke="#c70a0a" stroke-width="1.9" />
<circle cx="957.20" cy="574.20" r="4.5" fill="#fff" stroke="#c70a0a" stroke-width="1.9"/>
<polygon points="957.20,588.40 958.58,591.70 962.15,591.99 959.43,594.33 960.26,597.81 957.20,595.95 954.14,597.81 954.97,594.33 952.25,591.99 955.82,591.70" fill="#fff" stroke="#c70a0a" stroke-width="1.7" stroke-linejoin="miter"/>
<text x="979.4000000000001" y="580" font-size="15" fill="#1a1a1a"><tspan textLength="77" lengthAdjust="spacingAndGlyphs">Conversion</tspan><tspan font-size="9.8" dy="4.2">acetone</tspan></text>
<text x="979.4000000000001" y="597.8" font-size="15" fill="#1a1a1a">FE<tspan font-size="9.6" dy="6.2" dx="-2.6">average, IPA</tspan></text>
</g>
<g id="pg">
<text transform="translate(390,579) scale(1.12,1)" font-size="22.5" font-weight="bold" class="pl" fill="#000" stroke="#000" stroke-width="0.6">g</text>
<rect x="453.3" y="612.5" width="413.3" height="204.5" fill="none" stroke="#4d4d4d" stroke-width="1.1"/>
<text x="446.3" y="617.7" font-size="15.4" text-anchor="end" fill="#1a1a1a" font-weight="normal" >10.0</text>
<line x1="453.3" y1="658.0" x2="457.8" y2="658.0" stroke="#8c8c8c" stroke-width="1" />
<text x="446.3" y="663.2" font-size="15.4" text-anchor="end" fill="#1a1a1a" font-weight="normal" >9.5</text>
<line x1="453.3" y1="703.5" x2="457.8" y2="703.5" stroke="#8c8c8c" stroke-width="1" />
<text x="446.3" y="708.7" font-size="15.4" text-anchor="end" fill="#1a1a1a" font-weight="normal" >9.0</text>
<line x1="453.3" y1="749.2" x2="457.8" y2="749.2" stroke="#8c8c8c" stroke-width="1" />
<text x="446.3" y="754.4000000000001" font-size="15.4" text-anchor="end" fill="#1a1a1a" font-weight="normal" >8.5</text>
<line x1="453.3" y1="795.0" x2="457.8" y2="795.0" stroke="#8c8c8c" stroke-width="1" />
<text x="446.3" y="800.2" font-size="15.4" text-anchor="end" fill="#1a1a1a" font-weight="normal" >8.0</text>
<text x="453.3" y="836.7" font-size="15.4" text-anchor="middle" fill="#1a1a1a" font-weight="normal" >0</text>
<line x1="556.5" y1="812.5" x2="556.5" y2="817.0" stroke="#4d4d4d" stroke-width="1" />
<text x="556.5" y="836.7" font-size="15.4" text-anchor="middle" fill="#1a1a1a" font-weight="normal" >5</text>
<line x1="659.7" y1="812.5" x2="659.7" y2="817.0" stroke="#4d4d4d" stroke-width="1" />
<text x="659.7" y="836.7" font-size="15.4" text-anchor="middle" fill="#1a1a1a" font-weight="normal" >10</text>
<line x1="762.9" y1="812.5" x2="762.9" y2="817.0" stroke="#4d4d4d" stroke-width="1" />
<text x="762.9" y="836.7" font-size="15.4" text-anchor="middle" fill="#1a1a1a" font-weight="normal" >15</text>
<text x="866.1" y="836.7" font-size="15.4" text-anchor="middle" fill="#1a1a1a" font-weight="normal" >20</text>
<text x="659.8" y="863.4" font-size="17.1" text-anchor="middle" fill="#1a1a1a" font-weight="normal" textLength="65.5" lengthAdjust="spacingAndGlyphs" >Time (h)</text>
<text transform="translate(403.6,715) rotate(-90)" font-size="17.1" text-anchor="middle" fill="#1a1a1a" textLength="125" lengthAdjust="spacingAndGlyphs">Cell voltage (V)</text>
<circle cx="459.10" cy="768.70" r="2.55" fill="#fff" stroke="#000" stroke-width="1.6"/>
<circle cx="464.84" cy="768.70" r="2.55" fill="#fff" stroke="#000" stroke-width="1.6"/>
<circle cx="470.57" cy="769.00" r="2.55" fill="#fff" stroke="#000" stroke-width="1.6"/>
<circle cx="476.31" cy="768.40" r="2.55" fill="#fff" stroke="#000" stroke-width="1.6"/>
<circle cx="482.04" cy="768.40" r="2.55" fill="#fff" stroke="#000" stroke-width="1.6"/>
<circle cx="487.78" cy="768.40" r="2.55" fill="#fff" stroke="#000" stroke-width="1.6"/>
<circle cx="493.51" cy="768.70" r="2.55" fill="#fff" stroke="#000" stroke-width="1.6"/>
<circle cx="499.25" cy="768.40" r="2.55" fill="#fff" stroke="#000" stroke-width="1.6"/>
<circle cx="504.99" cy="768.70" r="2.55" fill="#fff" stroke="#000" stroke-width="1.6"/>
<circle cx="510.72" cy="768.40" r="2.55" fill="#fff" stroke="#000" stroke-width="1.6"/>
<circle cx="516.46" cy="768.40" r="2.55" fill="#fff" stroke="#000" stroke-width="1.6"/>
<circle cx="522.19" cy="769.00" r="2.55" fill="#fff" stroke="#000" stroke-width="1.6"/>
<circle cx="527.93" cy="769.00" r="2.55" fill="#fff" stroke="#000" stroke-width="1.6"/>
<circle cx="533.66" cy="768.40" r="2.55" fill="#fff" stroke="#000" stroke-width="1.6"/>
<circle cx="539.40" cy="768.70" r="2.55" fill="#fff" stroke="#000" stroke-width="1.6"/>
<circle cx="545.14" cy="768.40" r="2.55" fill="#fff" stroke="#000" stroke-width="1.6"/>
<circle cx="550.87" cy="769.00" r="2.55" fill="#fff" stroke="#000" stroke-width="1.6"/>
<circle cx="556.61" cy="768.40" r="2.55" fill="#fff" stroke="#000" stroke-width="1.6"/>
<circle cx="562.34" cy="768.40" r="2.55" fill="#fff" stroke="#000" stroke-width="1.6"/>
<circle cx="568.08" cy="768.70" r="2.55" fill="#fff" stroke="#000" stroke-width="1.6"/>
<circle cx="573.81" cy="768.40" r="2.55" fill="#fff" stroke="#000" stroke-width="1.6"/>
<circle cx="579.55" cy="769.00" r="2.55" fill="#fff" stroke="#000" stroke-width="1.6"/>
<circle cx="585.29" cy="768.40" r="2.55" fill="#fff" stroke="#000" stroke-width="1.6"/>
<circle cx="591.02" cy="768.70" r="2.55" fill="#fff" stroke="#000" stroke-width="1.6"/>
<circle cx="596.76" cy="768.40" r="2.55" fill="#fff" stroke="#000" stroke-width="1.6"/>
<circle cx="602.49" cy="768.70" r="2.55" fill="#fff" stroke="#000" stroke-width="1.6"/>
<circle cx="608.23" cy="768.70" r="2.55" fill="#fff" stroke="#000" stroke-width="1.6"/>
<circle cx="613.96" cy="769.00" r="2.55" fill="#fff" stroke="#000" stroke-width="1.6"/>
<circle cx="619.70" cy="768.70" r="2.55" fill="#fff" stroke="#000" stroke-width="1.6"/>
<circle cx="625.44" cy="768.40" r="2.55" fill="#fff" stroke="#000" stroke-width="1.6"/>
<circle cx="631.17" cy="768.70" r="2.55" fill="#fff" stroke="#000" stroke-width="1.6"/>
<circle cx="636.91" cy="768.70" r="2.55" fill="#fff" stroke="#000" stroke-width="1.6"/>
<circle cx="642.64" cy="768.40" r="2.55" fill="#fff" stroke="#000" stroke-width="1.6"/>
<circle cx="648.38" cy="768.70" r="2.55" fill="#fff" stroke="#000" stroke-width="1.6"/>
<circle cx="654.11" cy="768.70" r="2.55" fill="#fff" stroke="#000" stroke-width="1.6"/>
<circle cx="659.85" cy="768.40" r="2.55" fill="#fff" stroke="#000" stroke-width="1.6"/>
<circle cx="665.59" cy="768.40" r="2.55" fill="#fff" stroke="#000" stroke-width="1.6"/>
<circle cx="671.32" cy="768.40" r="2.55" fill="#fff" stroke="#000" stroke-width="1.6"/>
<circle cx="677.06" cy="768.70" r="2.55" fill="#fff" stroke="#000" stroke-width="1.6"/>
<circle cx="682.79" cy="769.00" r="2.55" fill="#fff" stroke="#000" stroke-width="1.6"/>
<circle cx="688.53" cy="769.00" r="2.55" fill="#fff" stroke="#000" stroke-width="1.6"/>
<circle cx="694.26" cy="768.70" r="2.55" fill="#fff" stroke="#000" stroke-width="1.6"/>
<circle cx="700.00" cy="769.00" r="2.55" fill="#fff" stroke="#000" stroke-width="1.6"/>
<circle cx="705.74" cy="769.00" r="2.55" fill="#fff" stroke="#000" stroke-width="1.6"/>
<circle cx="711.47" cy="768.70" r="2.55" fill="#fff" stroke="#000" stroke-width="1.6"/>
<circle cx="717.21" cy="768.70" r="2.55" fill="#fff" stroke="#000" stroke-width="1.6"/>
<circle cx="722.94" cy="768.70" r="2.55" fill="#fff" stroke="#000" stroke-width="1.6"/>
<circle cx="728.68" cy="768.70" r="2.55" fill="#fff" stroke="#000" stroke-width="1.6"/>
<circle cx="734.41" cy="768.70" r="2.55" fill="#fff" stroke="#000" stroke-width="1.6"/>
<circle cx="740.15" cy="768.40" r="2.55" fill="#fff" stroke="#000" stroke-width="1.6"/>
<circle cx="745.89" cy="768.70" r="2.55" fill="#fff" stroke="#000" stroke-width="1.6"/>
<circle cx="751.62" cy="769.00" r="2.55" fill="#fff" stroke="#000" stroke-width="1.6"/>
<circle cx="757.36" cy="768.70" r="2.55" fill="#fff" stroke="#000" stroke-width="1.6"/>
<circle cx="763.09" cy="769.00" r="2.55" fill="#fff" stroke="#000" stroke-width="1.6"/>
<circle cx="768.83" cy="768.70" r="2.55" fill="#fff" stroke="#000" stroke-width="1.6"/>
<circle cx="774.56" cy="768.40" r="2.55" fill="#fff" stroke="#000" stroke-width="1.6"/>
<circle cx="780.30" cy="768.40" r="2.55" fill="#fff" stroke="#000" stroke-width="1.6"/>
<circle cx="786.04" cy="769.00" r="2.55" fill="#fff" stroke="#000" stroke-width="1.6"/>
<circle cx="791.77" cy="768.70" r="2.55" fill="#fff" stroke="#000" stroke-width="1.6"/>
<circle cx="797.51" cy="768.70" r="2.55" fill="#fff" stroke="#000" stroke-width="1.6"/>
<circle cx="803.24" cy="768.70" r="2.55" fill="#fff" stroke="#000" stroke-width="1.6"/>
<circle cx="808.98" cy="769.00" r="2.55" fill="#fff" stroke="#000" stroke-width="1.6"/>
<circle cx="814.71" cy="769.00" r="2.55" fill="#fff" stroke="#000" stroke-width="1.6"/>
<circle cx="820.45" cy="768.40" r="2.55" fill="#fff" stroke="#000" stroke-width="1.6"/>
<circle cx="826.19" cy="768.40" r="2.55" fill="#fff" stroke="#000" stroke-width="1.6"/>
<circle cx="831.92" cy="768.70" r="2.55" fill="#fff" stroke="#000" stroke-width="1.6"/>
<circle cx="837.66" cy="768.70" r="2.55" fill="#fff" stroke="#000" stroke-width="1.6"/>
<circle cx="843.39" cy="768.70" r="2.55" fill="#fff" stroke="#000" stroke-width="1.6"/>
<circle cx="849.13" cy="769.00" r="2.55" fill="#fff" stroke="#000" stroke-width="1.6"/>
<circle cx="854.86" cy="769.00" r="2.55" fill="#fff" stroke="#000" stroke-width="1.6"/>
<circle cx="860.60" cy="768.40" r="2.55" fill="#fff" stroke="#000" stroke-width="1.6"/>
<text x="648.3" y="677.8" font-size="15.4" text-anchor="start" fill="#1a1a1a" font-weight="normal" textLength="204.5" lengthAdjust="spacingAndGlyphs" >10 cm × 10 cm × 2 BMEA stack</text>
<text x="648.3" y="716.6" font-size="15.4" fill="#1a1a1a"><tspan textLength="97" lengthAdjust="spacingAndGlyphs">At 100 mA cm</tspan><tspan font-size="8.5" dy="-6">−2</tspan></text>
</g>
<defs>
<filter id="rough" x="-20%" y="-10%" width="140%" height="120%">
  <feTurbulence type="fractalNoise" baseFrequency="0.35" numOctaves="2" seed="3" result="n"/>
  <feDisplacementMap in="SourceGraphic" in2="n" scale="7" xChannelSelector="R" yChannelSelector="G"/>
</filter>
<filter id="blur1"><feGaussianBlur stdDeviation="0.75"/></filter>
<filter id="blur2"><feGaussianBlur stdDeviation="1.6"/></filter>
<filter id="soft"><feGaussianBlur stdDeviation="0.35"/></filter>
<radialGradient id="holeG" cx="50%" cy="50%" r="55%">
  <stop offset="0" stop-color="#9a4a14"/><stop offset="0.7" stop-color="#b55c1a"/><stop offset="1" stop-color="#d9782a"/>
</radialGradient>
<radialGradient id="gC" cx="35%" cy="35%" r="70%"><stop offset="0" stop-color="#c8c8c8"/><stop offset="1" stop-color="#7d7d7d"/></radialGradient>
<radialGradient id="gH" cx="35%" cy="35%" r="70%"><stop offset="0" stop-color="#ffffff"/><stop offset="1" stop-color="#d2d0d0"/></radialGradient>
<radialGradient id="gO" cx="35%" cy="35%" r="70%"><stop offset="0" stop-color="#d24646"/><stop offset="1" stop-color="#a4181c"/></radialGradient>
<radialGradient id="gW" cx="35%" cy="35%" r="70%"><stop offset="0" stop-color="#b83a40"/><stop offset="1" stop-color="#7a1820"/></radialGradient>
<linearGradient id="cemG" x1="0" y1="0" x2="0" y2="1"><stop offset="0" stop-color="#e8898b"/><stop offset="0.2" stop-color="#ef9496"/><stop offset="0.9" stop-color="#ee9193"/><stop offset="1" stop-color="#e6878a"/></linearGradient>
<linearGradient id="aemG" x1="0" y1="0" x2="0" y2="1"><stop offset="0" stop-color="#8683e2"/><stop offset="0.22" stop-color="#9594ef"/><stop offset="0.9" stop-color="#9190ed"/><stop offset="1" stop-color="#8480e0"/></linearGradient>
</defs>
<g id="pa">
<text transform="translate(4.8,21) scale(1.12,1)" font-size="22.5" font-weight="bold" class="pl" fill="#000" stroke="#000" stroke-width="0.6">a</text>
<text x="87" y="21" font-size="17.5" text-anchor="start" fill="#111" font-weight="normal" textLength="8.4" lengthAdjust="spacingAndGlyphs" >–</text>
<text x="106.5" y="21" font-size="17.5" text-anchor="start" fill="#111" font-weight="normal" textLength="36" lengthAdjust="spacingAndGlyphs" >AEM</text>
<text x="247.5" y="21" font-size="17.5" text-anchor="start" fill="#111" font-weight="normal" textLength="31" lengthAdjust="spacingAndGlyphs" >SSE</text>
<text x="368" y="21" font-size="17.5" text-anchor="start" fill="#111" font-weight="normal" textLength="37" lengthAdjust="spacingAndGlyphs" >CEM</text>
<text x="416.5" y="21" font-size="17.5" text-anchor="start" fill="#111" font-weight="normal" >+</text>
<rect x="72" y="34" width="369" height="202" fill="#fdfdfe"/>
<g filter="url(#soft)">
<rect x="76" y="57" width="34" height="145" fill="#2b2828" filter="url(#rough)"/>
<path d="M94.7,137.5L87.7,139.3M90.1,140.4L96.5,144.6M95.0,172.3L100.9,174.0M78.7,173.9L76.2,177.4M113.3,195.1L109.4,202.4M80.2,55.0L79.8,59.4M77.6,90.7L84.8,91.4M91.0,176.3L90.5,184.8M92.6,150.8L93.4,156.7M115.8,201.2L108.0,205.5M84.6,87.4L87.4,91.0M106.1,113.1L100.1,116.2M107.7,181.2L113.1,181.3M112.0,124.8L105.2,125.2M79.0,146.9L74.5,150.7M81.9,104.0L72.7,105.1M76.4,91.0L80.6,92.4M104.9,78.0L103.6,85.0M77.3,162.4L85.1,165.8M76.1,115.9L80.7,119.5M108.0,170.5L113.8,178.9M85.8,111.9L78.2,115.6M75.5,200.6L80.1,204.2M102.0,102.2L104.7,105.8M74.5,139.0L80.4,144.7M91.8,122.1L84.5,123.0M93.7,182.7L98.0,185.5M106.6,175.0L110.4,178.7M97.8,192.0L106.4,198.2M106.9,142.6L108.1,147.2M72.2,195.4L78.7,201.5M84.7,174.8L82.9,180.6M77.9,161.7L83.4,162.9M96.3,179.2L94.2,184.8M105.9,85.2L111.8,85.5M88.1,62.3L93.7,65.7M93.6,70.0L97.9,79.3M113.5,149.5L109.0,156.2M74.2,59.9L84.5,60.5M96.4,198.2L104.9,198.7M89.4,159.2L95.3,168.5M80.4,132.6L73.4,140.2M106.2,156.7L97.9,163.0M92.2,155.5L82.6,158.6M93.5,171.1L86.2,174.5M98.8,108.0L96.7,116.0M82.1,150.2L72.0,150.4M104.4,109.9L99.0,115.9M86.3,178.7L95.2,181.1M75.0,141.8L75.3,147.4M102.4,124.2L98.7,134.0M81.2,53.1L86.3,60.2M85.8,79.0L77.6,81.5M88.6,184.2L93.0,191.6M85.8,116.2L77.3,122.2M108.3,109.3L106.6,115.3M83.5,126.5L74.8,131.4M99.4,194.6L102.7,198.5M88.4,93.9L93.8,98.1M95.1,124.5L100.5,132.7M109.3,121.9L113.4,122.9M109.6,58.0L104.7,64.4M83.3,172.8L88.2,173.1M93.7,57.2L88.8,60.1M80.8,58.7L77.9,65.3M102.3,149.6L93.5,155.6M99.8,82.1L100.2,87.3M76.0,123.3L72.8,127.4M86.6,103.4L82.1,109.6M95.8,163.2L98.9,172.2M112.9,67.0L104.0,68.9M80.9,117.8L76.9,127.4M92.8,138.0L83.9,141.5M111.1,121.7L108.6,126.5M103.4,172.9L99.5,181.0M87.5,188.8L76.7,189.4M91.6,168.4L97.2,177.2M103.1,106.0L109.9,107.8M94.8,167.4L95.0,171.6M106.9,63.0L102.6,66.1M84.5,171.3L89.0,173.5M97.5,160.7L89.8,164.9M112.2,128.0L107.7,128.8M79.6,129.9L85.2,137.1M101.8,131.0L94.8,134.8M90.4,109.4L81.3,114.2M85.7,181.4L78.1,182.1M96.2,81.2L95.4,88.7M100.8,58.8L93.2,59.5M90.0,170.7L88.5,178.0M100.7,61.4L99.8,68.2M107.9,189.9L112.8,195.3M83.1,116.8L74.5,122.4M88.7,99.9L95.5,104.6M110.8,73.0L107.6,75.6M83.1,86.3L79.6,91.5M83.2,145.9L91.8,148.8M76.8,129.2L80.6,133.0M92.8,116.9L95.5,123.3M90.7,76.3L97.5,81.3M102.0,132.0L94.6,135.8M109.9,86.1L103.2,93.2M105.4,97.7L111.2,106.4M84.6,202.9L80.0,204.6M81.5,161.6L84.7,165.0M107.6,116.3L103.7,119.3M86.6,156.9L92.0,157.2M102.3,190.6L97.5,191.0M93.3,163.6L93.2,172.4M79.2,64.8L83.2,66.2M95.5,129.3L94.4,134.2M85.8,82.8L76.2,88.0M104.0,68.2L114.5,70.2M89.7,165.8L93.4,172.1M94.2,117.1L92.9,121.0M97.6,178.9L103.7,182.7M100.0,113.9L104.2,116.9M98.0,55.7L88.9,58.9M102.1,180.1L99.4,186.4M101.6,129.9L92.0,130.4M87.1,187.4L80.5,194.2M109.8,113.8L100.1,117.1M102.9,167.0L97.9,171.6M99.7,62.3L103.2,68.7M76.2,104.2L72.6,111.8M84.4,193.0L81.2,198.5M99.4,136.5L98.7,143.2M114.8,146.9L109.2,154.5M112.9,54.1L109.6,62.7M81.1,114.4L86.4,115.3M84.6,66.0L91.9,73.3M98.9,130.3L90.9,131.1M113.7,148.8L109.9,151.3M91.5,167.4L101.9,168.9M76.9,123.4L83.3,127.2M100.6,63.1L93.8,64.3M92.8,141.3L95.2,146.8M96.1,135.0L101.7,142.0M83.7,55.6L86.8,58.6M78.2,162.6L81.7,172.3M107.7,62.3L97.1,62.7M76.0,186.3L77.6,193.5M111.4,86.0L110.6,96.6M106.3,124.5L96.6,125.1M98.3,68.8L95.6,75.5M82.0,60.3L81.5,65.2M90.4,151.6L91.2,157.4M99.1,115.0L93.2,120.0M113.8,194.8L110.0,199.0M81.6,185.4L75.1,190.6" stroke="#1b1919" stroke-width="1.4" fill="none"/>
<path d="M89.8,92.1L85.5,98.8M98.4,147.5L94.6,151.2M88.4,199.7L78.6,202.3M73.2,61.4L77.8,66.7M98.0,68.0L97.4,72.5M78.0,151.6L76.6,159.9M85.7,124.3L90.7,128.3M99.9,179.4L104.7,180.5M106.8,146.1L102.7,149.8M92.8,91.6L87.4,95.3M96.8,199.0L100.9,205.7M101.6,189.0L103.1,195.4M75.5,184.8L79.9,186.0M97.1,124.7L93.8,129.8M100.1,63.7L106.9,69.0M80.0,96.9L74.2,103.6M82.8,72.2L86.7,80.4M90.4,69.3L85.5,75.7M112.3,194.1L105.5,196.0M102.7,97.6L106.4,103.3M107.2,186.0L111.8,190.6M86.8,106.0L89.0,112.3M84.5,136.7L78.3,141.3M101.8,136.4L109.7,141.3M103.7,96.7L111.3,97.2M98.9,139.1L90.4,140.0M105.3,59.8L103.9,69.3M80.7,63.4L73.7,71.0M73.1,147.5L81.4,151.5M95.1,88.6L102.3,94.6M92.8,165.9L94.9,172.0M110.7,151.3L110.9,159.1M104.7,159.6L98.1,161.4M109.7,152.2L101.1,156.5M109.9,186.8L101.5,188.0M96.7,158.8L91.1,162.8M93.7,72.8L86.2,80.8M85.5,77.9L91.1,82.1M82.1,198.9L88.1,200.1M80.4,149.8L76.4,153.2M77.7,118.4L75.0,128.4M73.1,69.7L77.7,72.7M83.8,159.2L82.1,164.5M77.0,94.5L85.0,99.3M88.9,134.7L82.8,138.7M87.0,186.4L80.8,188.1M94.6,194.8L95.0,200.4M78.6,194.2L73.2,198.1M90.5,127.7L97.6,136.0M95.3,90.3L102.6,90.5M90.7,170.5L85.6,176.9M78.4,75.9L81.5,80.8M109.3,126.9L104.7,136.9M79.9,132.5L88.3,136.8M78.4,175.1L69.7,179.7M78.6,93.4L75.7,97.0M96.3,124.3L88.2,125.4M109.3,98.1L103.9,102.4M111.2,67.1L106.5,70.0M90.3,131.0L99.0,135.7M82.9,100.6L88.8,102.0M89.9,157.6L93.6,165.5M77.4,108.4L78.7,119.1M102.2,152.3L108.8,152.6M101.7,86.9L100.3,93.9M76.6,201.1L72.2,204.4M95.9,94.7L98.9,101.9M83.9,101.2L86.8,109.4M85.8,82.4L81.6,87.1M112.0,136.4L107.9,141.3M103.3,67.8L107.5,69.7M96.9,158.7L102.6,162.4M103.1,142.5L108.5,144.1M79.3,71.3L80.6,75.7M109.1,114.4L108.8,122.9M102.0,174.4L104.2,180.3M88.3,53.1L91.0,61.5M113.3,169.0L109.3,176.3M72.7,100.6L76.7,108.1M78.2,106.5L77.9,116.0M101.2,143.9L109.5,148.3M106.6,133.3L110.0,140.0M83.2,161.1L75.6,161.5M96.9,176.4L105.5,182.6M95.1,83.7L100.6,85.2M93.2,154.4L98.6,163.4M82.7,121.9L92.7,126.0M79.7,185.8L78.6,193.6M100.5,92.9L90.0,95.9M100.5,142.8L109.6,146.5M82.1,185.9L87.9,191.4M105.9,80.4L105.2,84.9M80.5,81.6L69.9,82.0M101.4,96.9L96.7,104.8M90.2,142.0L86.8,144.4M78.6,123.3L84.6,126.2M95.8,78.0L95.5,83.8M96.5,102.6L94.7,106.4M103.6,76.0L95.4,77.1M93.5,112.2L90.2,120.4M102.6,161.5L103.0,172.5M104.9,179.0L106.8,185.8M95.8,186.1L95.2,193.7M89.3,187.9L91.6,191.6M104.3,186.1L98.8,192.2M103.2,98.3L101.9,102.6M78.8,118.2L78.7,125.0M76.2,155.7L75.7,161.4M84.0,112.4L87.3,115.4M111.1,194.6L106.1,203.4M86.5,172.0L93.6,177.9M91.0,188.2L100.1,191.1M80.7,134.8L76.7,135.4M82.1,97.7L84.4,101.5M107.0,173.4L109.0,179.6M91.1,61.3L101.4,62.3M91.0,128.1L80.4,130.4M88.8,81.6L95.1,90.0M110.9,82.6L105.2,85.7M97.1,78.6L86.9,82.6M77.5,146.4L85.9,152.1M77.9,68.5L73.9,73.2M109.7,182.6L106.7,186.5M100.1,192.5L100.8,197.0M84.1,98.6L80.8,102.9M83.2,85.9L78.5,94.2M92.0,152.2L84.4,155.1M86.9,98.9L78.5,100.8M79.3,148.8L89.7,151.9M90.9,131.6L90.5,135.9M93.4,94.0L100.2,100.8M79.4,95.5L75.3,99.5M80.3,133.8L88.9,139.5M111.0,55.4L112.1,64.6M88.6,190.8L88.6,196.1M93.3,147.2L97.0,155.0M103.8,127.0L103.7,137.0M102.6,132.2L97.4,133.0M104.6,76.9L102.7,82.3M94.5,167.2L87.0,173.1M79.9,125.3L86.1,130.5M94.3,56.0L91.6,64.6M93.6,183.7L97.9,186.4M74.0,125.4L75.4,132.4M79.0,172.8L89.0,175.1M97.9,134.2L93.4,137.7M76.5,100.9L82.6,101.8M94.9,130.3L100.3,136.3M74.9,175.8L79.8,178.7M84.2,155.5L76.0,160.3" stroke="#4a4646" stroke-width="0.9" fill="none"/>
</g>
<clipPath id="trL"><polygon points="138.7,45.6 164.5,68 164.5,204 138.7,219.5"/></clipPath>
<polygon points="138.7,45.6 164.5,68 164.5,204 138.7,219.5" fill="#c6c4df"/>
<g clip-path="url(#trL)"><rect x="138.7" y="50" width="13.2" height="166" fill="#7f548b"/>
<rect x="138.7" y="50" width="5" height="166" fill="#7a5290" opacity="0.8"/>
<ellipse cx="154.3" cy="56.8" rx="8.2" ry="9.2" fill="#c6c4df"/>
<ellipse cx="154.3" cy="79.0" rx="8.2" ry="9.2" fill="#c6c4df"/>
<ellipse cx="154.3" cy="101.2" rx="8.2" ry="9.2" fill="#c6c4df"/>
<ellipse cx="154.3" cy="123.4" rx="8.2" ry="9.2" fill="#c6c4df"/>
<ellipse cx="154.3" cy="145.6" rx="8.2" ry="9.2" fill="#c6c4df"/>
<ellipse cx="154.3" cy="167.8" rx="8.2" ry="9.2" fill="#c6c4df"/>
<ellipse cx="154.3" cy="190.0" rx="8.2" ry="9.2" fill="#c6c4df"/>
<ellipse cx="154.3" cy="212.2" rx="8.2" ry="9.2" fill="#c6c4df"/>
</g>
<rect x="110.1" y="45.9" width="28.7" height="173.6" fill="#58548f"/>
<g transform="translate(122,74) scale(1)" filter="url(#soft)"><polygon points="-14,-4 -2,-9 12,1 22,4 24,9 10,7 -2,-1 -10,2" fill="#6f6cc0"/><polygon points="-2,-9 12,1 22,4 10,-3" fill="#a7a5e2"/><polygon points="12,1 24,9 40,14 30,7" fill="#e9e8f8"/><polygon points="-10,2 -2,-1 10,7 2,10" fill="#8785d0"/></g>
<g transform="translate(122,124) scale(0.9)" filter="url(#soft)"><polygon points="-14,-4 -2,-9 12,1 22,4 24,9 10,7 -2,-1 -10,2" fill="#6f6cc0"/><polygon points="-2,-9 12,1 22,4 10,-3" fill="#a7a5e2"/><polygon points="12,1 24,9 40,14 30,7" fill="#e9e8f8"/><polygon points="-10,2 -2,-1 10,7 2,10" fill="#8785d0"/></g>
<g transform="translate(124,190) scale(0.9)" filter="url(#soft)"><polygon points="-14,-4 -2,-9 12,1 22,4 24,9 10,7 -2,-1 -10,2" fill="#6f6cc0"/><polygon points="-2,-9 12,1 22,4 10,-3" fill="#a7a5e2"/><polygon points="12,1 24,9 40,14 30,7" fill="#e9e8f8"/><polygon points="-10,2 -2,-1 10,7 2,10" fill="#8785d0"/></g>
<polygon points="128,146 140,141 160,152 148,155" fill="#dcdaf3" filter="url(#soft)"/>
<polygon points="118,196 138,186 150,189 128,201" fill="#7a78c8" filter="url(#soft)"/>
<clipPath id="trR"><polygon points="371.5,45.6 347,63.6 347,203.6 371.5,219.5"/></clipPath>
<polygon points="371.5,45.6 347,63.6 347,203.6 371.5,219.5" fill="#d3c3cb"/>
<g clip-path="url(#trR)"><rect x="358.5" y="50" width="13.2" height="166" fill="#bb6258"/>
<rect x="366" y="50" width="6" height="166" fill="#a8524c" opacity="0.8"/>
<ellipse cx="356.4" cy="56.8" rx="8.2" ry="9.2" fill="#d3c3cb"/>
<ellipse cx="356.4" cy="79.0" rx="8.2" ry="9.2" fill="#d3c3cb"/>
<ellipse cx="356.4" cy="101.2" rx="8.2" ry="9.2" fill="#d3c3cb"/>
<ellipse cx="356.4" cy="123.4" rx="8.2" ry="9.2" fill="#d3c3cb"/>
<ellipse cx="356.4" cy="145.6" rx="8.2" ry="9.2" fill="#d3c3cb"/>
<ellipse cx="356.4" cy="167.8" rx="8.2" ry="9.2" fill="#d3c3cb"/>
<ellipse cx="356.4" cy="190.0" rx="8.2" ry="9.2" fill="#d3c3cb"/>
<ellipse cx="356.4" cy="212.2" rx="8.2" ry="9.2" fill="#d3c3cb"/>
</g>
<mask id="latm" maskUnits="userSpaceOnUse" x="154.5" y="33.6" width="201.79999999999998" height="201.79999999999998"><rect x="155.8" y="34.9" width="199.2" height="199.2" fill="#fff"/>
<circle cx="155.5" cy="34.6" r="9.7" fill="#000"/>
<circle cx="155.5" cy="56.8" r="9.7" fill="#000"/>
<circle cx="155.5" cy="79.0" r="9.7" fill="#000"/>
<circle cx="155.5" cy="101.2" r="9.7" fill="#000"/>
<circle cx="155.5" cy="123.4" r="9.7" fill="#000"/>
<circle cx="155.5" cy="145.6" r="9.7" fill="#000"/>
<circle cx="155.5" cy="167.8" r="9.7" fill="#000"/>
<circle cx="155.5" cy="190.0" r="9.7" fill="#000"/>
<circle cx="155.5" cy="212.2" r="9.7" fill="#000"/>
<circle cx="155.5" cy="234.4" r="9.7" fill="#000"/>
<circle cx="177.7" cy="34.6" r="9.7" fill="#000"/>
<circle cx="177.7" cy="234.4" r="9.7" fill="#000"/>
<circle cx="199.9" cy="34.6" r="9.7" fill="#000"/>
<circle cx="199.9" cy="234.4" r="9.7" fill="#000"/>
<circle cx="222.1" cy="34.6" r="9.7" fill="#000"/>
<circle cx="222.1" cy="234.4" r="9.7" fill="#000"/>
<circle cx="244.3" cy="34.6" r="9.7" fill="#000"/>
<circle cx="244.3" cy="234.4" r="9.7" fill="#000"/>
<circle cx="266.5" cy="34.6" r="9.7" fill="#000"/>
<circle cx="266.5" cy="234.4" r="9.7" fill="#000"/>
<circle cx="288.7" cy="34.6" r="9.7" fill="#000"/>
<circle cx="288.7" cy="234.4" r="9.7" fill="#000"/>
<circle cx="310.9" cy="34.6" r="9.7" fill="#000"/>
<circle cx="310.9" cy="234.4" r="9.7" fill="#000"/>
<circle cx="333.1" cy="34.6" r="9.7" fill="#000"/>
<circle cx="333.1" cy="234.4" r="9.7" fill="#000"/>
<circle cx="355.3" cy="34.6" r="9.7" fill="#000"/>
<circle cx="355.3" cy="56.8" r="9.7" fill="#000"/>
<circle cx="355.3" cy="79.0" r="9.7" fill="#000"/>
<circle cx="355.3" cy="101.2" r="9.7" fill="#000"/>
<circle cx="355.3" cy="123.4" r="9.7" fill="#000"/>
<circle cx="355.3" cy="145.6" r="9.7" fill="#000"/>
<circle cx="355.3" cy="167.8" r="9.7" fill="#000"/>
<circle cx="355.3" cy="190.0" r="9.7" fill="#000"/>
<circle cx="355.3" cy="212.2" r="9.7" fill="#000"/>
<circle cx="355.3" cy="234.4" r="9.7" fill="#000"/>
</mask>
<g mask="url(#latm)"><rect x="155.5" y="34.6" width="199.79999999999998" height="199.79999999999998" fill="#f2913a"/>
<linearGradient id="gh11" gradientUnits="userSpaceOnUse" x1="171.3" y1="50.4" x2="184.1" y2="63.2"><stop offset="0" stop-color="#74340e"/><stop offset="0.5" stop-color="#a04e18"/><stop offset="1" stop-color="#d07a30"/></linearGradient>
<rect x="169.0" y="48.1" width="17.4" height="17.4" rx="6.6" fill="url(#gh11)"/>
<linearGradient id="gh12" gradientUnits="userSpaceOnUse" x1="170.4" y1="73.8" x2="185.0" y2="84.2"><stop offset="0" stop-color="#74340e"/><stop offset="0.5" stop-color="#a04e18"/><stop offset="1" stop-color="#d07a30"/></linearGradient>
<rect x="169.0" y="70.3" width="17.4" height="17.4" rx="6.6" fill="url(#gh12)"/>
<linearGradient id="gh13" gradientUnits="userSpaceOnUse" x1="169.4" y1="97.7" x2="186.0" y2="104.7"><stop offset="0" stop-color="#74340e"/><stop offset="0.5" stop-color="#a04e18"/><stop offset="1" stop-color="#d07a30"/></linearGradient>
<rect x="169.0" y="92.5" width="17.4" height="17.4" rx="6.6" fill="url(#gh13)"/>
<linearGradient id="gh14" gradientUnits="userSpaceOnUse" x1="168.8" y1="122.1" x2="186.6" y2="124.7"><stop offset="0" stop-color="#74340e"/><stop offset="0.5" stop-color="#a04e18"/><stop offset="1" stop-color="#d07a30"/></linearGradient>
<rect x="169.0" y="114.7" width="17.4" height="17.4" rx="6.6" fill="url(#gh14)"/>
<linearGradient id="gh15" gradientUnits="userSpaceOnUse" x1="168.8" y1="146.9" x2="186.6" y2="144.3"><stop offset="0" stop-color="#74340e"/><stop offset="0.5" stop-color="#a04e18"/><stop offset="1" stop-color="#d07a30"/></linearGradient>
<rect x="169.0" y="136.9" width="17.4" height="17.4" rx="6.6" fill="url(#gh15)"/>
<linearGradient id="gh16" gradientUnits="userSpaceOnUse" x1="169.4" y1="171.3" x2="186.0" y2="164.3"><stop offset="0" stop-color="#74340e"/><stop offset="0.5" stop-color="#a04e18"/><stop offset="1" stop-color="#d07a30"/></linearGradient>
<rect x="169.0" y="159.1" width="17.4" height="17.4" rx="6.6" fill="url(#gh16)"/>
<linearGradient id="gh17" gradientUnits="userSpaceOnUse" x1="170.4" y1="195.2" x2="185.0" y2="184.8"><stop offset="0" stop-color="#74340e"/><stop offset="0.5" stop-color="#a04e18"/><stop offset="1" stop-color="#d07a30"/></linearGradient>
<rect x="169.0" y="181.3" width="17.4" height="17.4" rx="6.6" fill="url(#gh17)"/>
<linearGradient id="gh18" gradientUnits="userSpaceOnUse" x1="171.3" y1="218.6" x2="184.1" y2="205.8"><stop offset="0" stop-color="#74340e"/><stop offset="0.5" stop-color="#a04e18"/><stop offset="1" stop-color="#d07a30"/></linearGradient>
<rect x="169.0" y="203.5" width="17.4" height="17.4" rx="6.6" fill="url(#gh18)"/>
<linearGradient id="gh21" gradientUnits="userSpaceOnUse" x1="194.7" y1="49.5" x2="205.1" y2="64.1"><stop offset="0" stop-color="#74340e"/><stop offset="0.5" stop-color="#a04e18"/><stop offset="1" stop-color="#d07a30"/></linearGradient>
<rect x="191.2" y="48.1" width="17.4" height="17.4" rx="6.6" fill="url(#gh21)"/>
<linearGradient id="gh22" gradientUnits="userSpaceOnUse" x1="193.5" y1="72.6" x2="206.3" y2="85.4"><stop offset="0" stop-color="#74340e"/><stop offset="0.5" stop-color="#a04e18"/><stop offset="1" stop-color="#d07a30"/></linearGradient>
<rect x="191.2" y="70.3" width="17.4" height="17.4" rx="6.6" fill="url(#gh22)"/>
<clipPath id="h22"><rect x="191.2" y="70.3" width="17.4" height="17.4" rx="6.6"/></clipPath>
<g clip-path="url(#h22)"><rect x="208.7" y="87.8" width="15.799999999999999" height="15.799999999999999" rx="6.6" fill="#ffffff"/></g>
<linearGradient id="gh23" gradientUnits="userSpaceOnUse" x1="192.2" y1="96.6" x2="207.6" y2="105.8"><stop offset="0" stop-color="#74340e"/><stop offset="0.5" stop-color="#a04e18"/><stop offset="1" stop-color="#d07a30"/></linearGradient>
<rect x="191.2" y="92.5" width="17.4" height="17.4" rx="6.6" fill="url(#gh23)"/>
<clipPath id="h23"><rect x="191.2" y="92.5" width="17.4" height="17.4" rx="6.6"/></clipPath>
<g clip-path="url(#h23)"><rect x="208.7" y="103.3" width="15.799999999999999" height="15.799999999999999" rx="6.6" fill="#ffffff"/></g>
<linearGradient id="gh24" gradientUnits="userSpaceOnUse" x1="191.1" y1="121.6" x2="208.7" y2="125.2"><stop offset="0" stop-color="#74340e"/><stop offset="0.5" stop-color="#a04e18"/><stop offset="1" stop-color="#d07a30"/></linearGradient>
<rect x="191.2" y="114.7" width="17.4" height="17.4" rx="6.6" fill="url(#gh24)"/>
<clipPath id="h24"><rect x="191.2" y="114.7" width="17.4" height="17.4" rx="6.6"/></clipPath>
<g clip-path="url(#h24)"><rect x="208.7" y="118.8" width="15.799999999999999" height="15.799999999999999" rx="6.6" fill="#ffffff"/></g>
<linearGradient id="gh25" gradientUnits="userSpaceOnUse" x1="191.1" y1="147.4" x2="208.7" y2="143.8"><stop offset="0" stop-color="#74340e"/><stop offset="0.5" stop-color="#a04e18"/><stop offset="1" stop-color="#d07a30"/></linearGradient>
<rect x="191.2" y="136.9" width="17.4" height="17.4" rx="6.6" fill="url(#gh25)"/>
<clipPath id="h25"><rect x="191.2" y="136.9" width="17.4" height="17.4" rx="6.6"/></clipPath>
<g clip-path="url(#h25)"><rect x="208.7" y="134.4" width="15.799999999999999" height="15.799999999999999" rx="6.6" fill="#ffffff"/></g>
<linearGradient id="gh26" gradientUnits="userSpaceOnUse" x1="192.2" y1="172.4" x2="207.6" y2="163.2"><stop offset="0" stop-color="#74340e"/><stop offset="0.5" stop-color="#a04e18"/><stop offset="1" stop-color="#d07a30"/></linearGradient>
<rect x="191.2" y="159.1" width="17.4" height="17.4" rx="6.6" fill="url(#gh26)"/>
<clipPath id="h26"><rect x="191.2" y="159.1" width="17.4" height="17.4" rx="6.6"/></clipPath>
<g clip-path="url(#h26)"><rect x="208.7" y="149.9" width="15.799999999999999" height="15.799999999999999" rx="6.6" fill="#ffffff"/></g>
<linearGradient id="gh27" gradientUnits="userSpaceOnUse" x1="193.5" y1="196.4" x2="206.3" y2="183.6"><stop offset="0" stop-color="#74340e"/><stop offset="0.5" stop-color="#a04e18"/><stop offset="1" stop-color="#d07a30"/></linearGradient>
<rect x="191.2" y="181.3" width="17.4" height="17.4" rx="6.6" fill="url(#gh27)"/>
<clipPath id="h27"><rect x="191.2" y="181.3" width="17.4" height="17.4" rx="6.6"/></clipPath>
<g clip-path="url(#h27)"><rect x="208.7" y="165.5" width="15.799999999999999" height="15.799999999999999" rx="6.6" fill="#ffffff"/></g>
<linearGradient id="gh28" gradientUnits="userSpaceOnUse" x1="194.7" y1="219.5" x2="205.1" y2="204.9"><stop offset="0" stop-color="#74340e"/><stop offset="0.5" stop-color="#a04e18"/><stop offset="1" stop-color="#d07a30"/></linearGradient>
<rect x="191.2" y="203.5" width="17.4" height="17.4" rx="6.6" fill="url(#gh28)"/>
<linearGradient id="gh31" gradientUnits="userSpaceOnUse" x1="218.6" y1="48.5" x2="225.6" y2="65.1"><stop offset="0" stop-color="#74340e"/><stop offset="0.5" stop-color="#a04e18"/><stop offset="1" stop-color="#d07a30"/></linearGradient>
<rect x="213.4" y="48.1" width="17.4" height="17.4" rx="6.6" fill="url(#gh31)"/>
<linearGradient id="gh32" gradientUnits="userSpaceOnUse" x1="217.5" y1="71.3" x2="226.7" y2="86.7"><stop offset="0" stop-color="#74340e"/><stop offset="0.5" stop-color="#a04e18"/><stop offset="1" stop-color="#d07a30"/></linearGradient>
<rect x="213.4" y="70.3" width="17.4" height="17.4" rx="6.6" fill="url(#gh32)"/>
<clipPath id="h32"><rect x="213.4" y="70.3" width="17.4" height="17.4" rx="6.6"/></clipPath>
<g clip-path="url(#h32)"><rect x="224.2" y="87.8" width="15.799999999999999" height="15.799999999999999" rx="6.6" fill="#ffffff"/></g>
<linearGradient id="gh33" gradientUnits="userSpaceOnUse" x1="215.7" y1="94.8" x2="228.5" y2="107.6"><stop offset="0" stop-color="#74340e"/><stop offset="0.5" stop-color="#a04e18"/><stop offset="1" stop-color="#d07a30"/></linearGradient>
<rect x="213.4" y="92.5" width="17.4" height="17.4" rx="6.6" fill="url(#gh33)"/>
<clipPath id="h33"><rect x="213.4" y="92.5" width="17.4" height="17.4" rx="6.6"/></clipPath>
<g clip-path="url(#h33)"><rect x="224.2" y="103.3" width="15.799999999999999" height="15.799999999999999" rx="6.6" fill="#ffffff"/></g>
<linearGradient id="gh34" gradientUnits="userSpaceOnUse" x1="213.6" y1="120.6" x2="230.6" y2="126.2"><stop offset="0" stop-color="#74340e"/><stop offset="0.5" stop-color="#a04e18"/><stop offset="1" stop-color="#d07a30"/></linearGradient>
<rect x="213.4" y="114.7" width="17.4" height="17.4" rx="6.6" fill="url(#gh34)"/>
<clipPath id="h34"><rect x="213.4" y="114.7" width="17.4" height="17.4" rx="6.6"/></clipPath>
<g clip-path="url(#h34)"><rect x="224.2" y="118.8" width="15.799999999999999" height="15.799999999999999" rx="6.6" fill="#ffffff"/></g>
<linearGradient id="gh35" gradientUnits="userSpaceOnUse" x1="213.6" y1="148.4" x2="230.6" y2="142.8"><stop offset="0" stop-color="#74340e"/><stop offset="0.5" stop-color="#a04e18"/><stop offset="1" stop-color="#d07a30"/></linearGradient>
<rect x="213.4" y="136.9" width="17.4" height="17.4" rx="6.6" fill="url(#gh35)"/>
<clipPath id="h35"><rect x="213.4" y="136.9" width="17.4" height="17.4" rx="6.6"/></clipPath>
<g clip-path="url(#h35)"><rect x="224.2" y="134.4" width="15.799999999999999" height="15.799999999999999" rx="6.6" fill="#ffffff"/></g>
<linearGradient id="gh36" gradientUnits="userSpaceOnUse" x1="215.7" y1="174.2" x2="228.5" y2="161.4"><stop offset="0" stop-color="#74340e"/><stop offset="0.5" stop-color="#a04e18"/><stop offset="1" stop-color="#d07a30"/></linearGradient>
<rect x="213.4" y="159.1" width="17.4" height="17.4" rx="6.6" fill="url(#gh36)"/>
<clipPath id="h36"><rect x="213.4" y="159.1" width="17.4" height="17.4" rx="6.6"/></clipPath>
<g clip-path="url(#h36)"><rect x="224.2" y="149.9" width="15.799999999999999" height="15.799999999999999" rx="6.6" fill="#ffffff"/></g>
<linearGradient id="gh37" gradientUnits="userSpaceOnUse" x1="217.5" y1="197.7" x2="226.7" y2="182.3"><stop offset="0" stop-color="#74340e"/><stop offset="0.5" stop-color="#a04e18"/><stop offset="1" stop-color="#d07a30"/></linearGradient>
<rect x="213.4" y="181.3" width="17.4" height="17.4" rx="6.6" fill="url(#gh37)"/>
<clipPath id="h37"><rect x="213.4" y="181.3" width="17.4" height="17.4" rx="6.6"/></clipPath>
<g clip-path="url(#h37)"><rect x="224.2" y="165.5" width="15.799999999999999" height="15.799999999999999" rx="6.6" fill="#ffffff"/></g>
<linearGradient id="gh38" gradientUnits="userSpaceOnUse" x1="218.6" y1="220.5" x2="225.6" y2="203.9"><stop offset="0" stop-color="#74340e"/><stop offset="0.5" stop-color="#a04e18"/><stop offset="1" stop-color="#d07a30"/></linearGradient>
<rect x="213.4" y="203.5" width="17.4" height="17.4" rx="6.6" fill="url(#gh38)"/>
<linearGradient id="gh41" gradientUnits="userSpaceOnUse" x1="243.0" y1="47.9" x2="245.6" y2="65.7"><stop offset="0" stop-color="#74340e"/><stop offset="0.5" stop-color="#a04e18"/><stop offset="1" stop-color="#d07a30"/></linearGradient>
<rect x="235.6" y="48.1" width="17.4" height="17.4" rx="6.6" fill="url(#gh41)"/>
<linearGradient id="gh42" gradientUnits="userSpaceOnUse" x1="242.5" y1="70.2" x2="246.1" y2="87.8"><stop offset="0" stop-color="#74340e"/><stop offset="0.5" stop-color="#a04e18"/><stop offset="1" stop-color="#d07a30"/></linearGradient>
<rect x="235.6" y="70.3" width="17.4" height="17.4" rx="6.6" fill="url(#gh42)"/>
<clipPath id="h42"><rect x="235.6" y="70.3" width="17.4" height="17.4" rx="6.6"/></clipPath>
<g clip-path="url(#h42)"><rect x="239.7" y="87.8" width="15.799999999999999" height="15.799999999999999" rx="6.6" fill="#ffffff"/></g>
<linearGradient id="gh43" gradientUnits="userSpaceOnUse" x1="241.5" y1="92.7" x2="247.1" y2="109.7"><stop offset="0" stop-color="#74340e"/><stop offset="0.5" stop-color="#a04e18"/><stop offset="1" stop-color="#d07a30"/></linearGradient>
<rect x="235.6" y="92.5" width="17.4" height="17.4" rx="6.6" fill="url(#gh43)"/>
<clipPath id="h43"><rect x="235.6" y="92.5" width="17.4" height="17.4" rx="6.6"/></clipPath>
<g clip-path="url(#h43)"><rect x="239.7" y="103.3" width="15.799999999999999" height="15.799999999999999" rx="6.6" fill="#ffffff"/></g>
<linearGradient id="gh44" gradientUnits="userSpaceOnUse" x1="237.9" y1="117.0" x2="250.7" y2="129.8"><stop offset="0" stop-color="#74340e"/><stop offset="0.5" stop-color="#a04e18"/><stop offset="1" stop-color="#d07a30"/></linearGradient>
<rect x="235.6" y="114.7" width="17.4" height="17.4" rx="6.6" fill="url(#gh44)"/>
<clipPath id="h44"><rect x="235.6" y="114.7" width="17.4" height="17.4" rx="6.6"/></clipPath>
<g clip-path="url(#h44)"><rect x="239.7" y="118.8" width="15.799999999999999" height="15.799999999999999" rx="6.6" fill="#ffffff"/></g>
<linearGradient id="gh45" gradientUnits="userSpaceOnUse" x1="237.9" y1="152.0" x2="250.7" y2="139.2"><stop offset="0" stop-color="#74340e"/><stop offset="0.5" stop-color="#a04e18"/><stop offset="1" stop-color="#d07a30"/></linearGradient>
<rect x="235.6" y="136.9" width="17.4" height="17.4" rx="6.6" fill="url(#gh45)"/>
<clipPath id="h45"><rect x="235.6" y="136.9" width="17.4" height="17.4" rx="6.6"/></clipPath>
<g clip-path="url(#h45)"><rect x="239.7" y="134.4" width="15.799999999999999" height="15.799999999999999" rx="6.6" fill="#ffffff"/></g>
<linearGradient id="gh46" gradientUnits="userSpaceOnUse" x1="241.5" y1="176.3" x2="247.1" y2="159.3"><stop offset="0" stop-color="#74340e"/><stop offset="0.5" stop-color="#a04e18"/><stop offset="1" stop-color="#d07a30"/></linearGradient>
<rect x="235.6" y="159.1" width="17.4" height="17.4" rx="6.6" fill="url(#gh46)"/>
<clipPath id="h46"><rect x="235.6" y="159.1" width="17.4" height="17.4" rx="6.6"/></clipPath>
<g clip-path="url(#h46)"><rect x="239.7" y="149.9" width="15.799999999999999" height="15.799999999999999" rx="6.6" fill="#ffffff"/></g>
<linearGradient id="gh47" gradientUnits="userSpaceOnUse" x1="242.5" y1="198.8" x2="246.1" y2="181.2"><stop offset="0" stop-color="#74340e"/><stop offset="0.5" stop-color="#a04e18"/><stop offset="1" stop-color="#d07a30"/></linearGradient>
<rect x="235.6" y="181.3" width="17.4" height="17.4" rx="6.6" fill="url(#gh47)"/>
<clipPath id="h47"><rect x="235.6" y="181.3" width="17.4" height="17.4" rx="6.6"/></clipPath>
<g clip-path="url(#h47)"><rect x="239.7" y="165.5" width="15.799999999999999" height="15.799999999999999" rx="6.6" fill="#ffffff"/></g>
<linearGradient id="gh48" gradientUnits="userSpaceOnUse" x1="243.0" y1="221.1" x2="245.6" y2="203.3"><stop offset="0" stop-color="#74340e"/><stop offset="0.5" stop-color="#a04e18"/><stop offset="1" stop-color="#d07a30"/></linearGradient>
<rect x="235.6" y="203.5" width="17.4" height="17.4" rx="6.6" fill="url(#gh48)"/>
<linearGradient id="gh51" gradientUnits="userSpaceOnUse" x1="267.8" y1="47.9" x2="265.2" y2="65.7"><stop offset="0" stop-color="#74340e"/><stop offset="0.5" stop-color="#a04e18"/><stop offset="1" stop-color="#d07a30"/></linearGradient>
<rect x="257.8" y="48.1" width="17.4" height="17.4" rx="6.6" fill="url(#gh51)"/>
<linearGradient id="gh52" gradientUnits="userSpaceOnUse" x1="268.3" y1="70.2" x2="264.7" y2="87.8"><stop offset="0" stop-color="#74340e"/><stop offset="0.5" stop-color="#a04e18"/><stop offset="1" stop-color="#d07a30"/></linearGradient>
<rect x="257.8" y="70.3" width="17.4" height="17.4" rx="6.6" fill="url(#gh52)"/>
<clipPath id="h52"><rect x="257.8" y="70.3" width="17.4" height="17.4" rx="6.6"/></clipPath>
<g clip-path="url(#h52)"><rect x="255.3" y="87.8" width="15.799999999999999" height="15.799999999999999" rx="6.6" fill="#ffffff"/></g>
<linearGradient id="gh53" gradientUnits="userSpaceOnUse" x1="269.3" y1="92.7" x2="263.7" y2="109.7"><stop offset="0" stop-color="#74340e"/><stop offset="0.5" stop-color="#a04e18"/><stop offset="1" stop-color="#d07a30"/></linearGradient>
<rect x="257.8" y="92.5" width="17.4" height="17.4" rx="6.6" fill="url(#gh53)"/>
<clipPath id="h53"><rect x="257.8" y="92.5" width="17.4" height="17.4" rx="6.6"/></clipPath>
<g clip-path="url(#h53)"><rect x="255.3" y="103.3" width="15.799999999999999" height="15.799999999999999" rx="6.6" fill="#ffffff"/></g>
<linearGradient id="gh54" gradientUnits="userSpaceOnUse" x1="272.9" y1="117.0" x2="260.1" y2="129.8"><stop offset="0" stop-color="#74340e"/><stop offset="0.5" stop-color="#a04e18"/><stop offset="1" stop-color="#d07a30"/></linearGradient>
<rect x="257.8" y="114.7" width="17.4" height="17.4" rx="6.6" fill="url(#gh54)"/>
<clipPath id="h54"><rect x="257.8" y="114.7" width="17.4" height="17.4" rx="6.6"/></clipPath>
<g clip-path="url(#h54)"><rect x="255.3" y="118.8" width="15.799999999999999" height="15.799999999999999" rx="6.6" fill="#ffffff"/></g>
<linearGradient id="gh55" gradientUnits="userSpaceOnUse" x1="272.9" y1="152.0" x2="260.1" y2="139.2"><stop offset="0" stop-color="#74340e"/><stop offset="0.5" stop-color="#a04e18"/><stop offset="1" stop-color="#d07a30"/></linearGradient>
<rect x="257.8" y="136.9" width="17.4" height="17.4" rx="6.6" fill="url(#gh55)"/>
<clipPath id="h55"><rect x="257.8" y="136.9" width="17.4" height="17.4" rx="6.6"/></clipPath>
<g clip-path="url(#h55)"><rect x="255.3" y="134.4" width="15.799999999999999" height="15.799999999999999" rx="6.6" fill="#ffffff"/></g>
<linearGradient id="gh56" gradientUnits="userSpaceOnUse" x1="269.3" y1="176.3" x2="263.7" y2="159.3"><stop offset="0" stop-color="#74340e"/><stop offset="0.5" stop-color="#a04e18"/><stop offset="1" stop-color="#d07a30"/></linearGradient>
<rect x="257.8" y="159.1" width="17.4" height="17.4" rx="6.6" fill="url(#gh56)"/>
<clipPath id="h56"><rect x="257.8" y="159.1" width="17.4" height="17.4" rx="6.6"/></clipPath>
<g clip-path="url(#h56)"><rect x="255.3" y="149.9" width="15.799999999999999" height="15.799999999999999" rx="6.6" fill="#ffffff"/></g>
<linearGradient id="gh57" gradientUnits="userSpaceOnUse" x1="268.3" y1="198.8" x2="264.7" y2="181.2"><stop offset="0" stop-color="#74340e"/><stop offset="0.5" stop-color="#a04e18"/><stop offset="1" stop-color="#d07a30"/></linearGradient>
<rect x="257.8" y="181.3" width="17.4" height="17.4" rx="6.6" fill="url(#gh57)"/>
<clipPath id="h57"><rect x="257.8" y="181.3" width="17.4" height="17.4" rx="6.6"/></clipPath>
<g clip-path="url(#h57)"><rect x="255.3" y="165.5" width="15.799999999999999" height="15.799999999999999" rx="6.6" fill="#ffffff"/></g>
<linearGradient id="gh58" gradientUnits="userSpaceOnUse" x1="267.8" y1="221.1" x2="265.2" y2="203.3"><stop offset="0" stop-color="#74340e"/><stop offset="0.5" stop-color="#a04e18"/><stop offset="1" stop-color="#d07a30"/></linearGradient>
<rect x="257.8" y="203.5" width="17.4" height="17.4" rx="6.6" fill="url(#gh58)"/>
<linearGradient id="gh61" gradientUnits="userSpaceOnUse" x1="292.2" y1="48.5" x2="285.2" y2="65.1"><stop offset="0" stop-color="#74340e"/><stop offset="0.5" stop-color="#a04e18"/><stop offset="1" stop-color="#d07a30"/></linearGradient>
<rect x="280.0" y="48.1" width="17.4" height="17.4" rx="6.6" fill="url(#gh61)"/>
<linearGradient id="gh62" gradientUnits="userSpaceOnUse" x1="293.3" y1="71.3" x2="284.1" y2="86.7"><stop offset="0" stop-color="#74340e"/><stop offset="0.5" stop-color="#a04e18"/><stop offset="1" stop-color="#d07a30"/></linearGradient>
<rect x="280.0" y="70.3" width="17.4" height="17.4" rx="6.6" fill="url(#gh62)"/>
<clipPath id="h62"><rect x="280.0" y="70.3" width="17.4" height="17.4" rx="6.6"/></clipPath>
<g clip-path="url(#h62)"><rect x="270.8" y="87.8" width="15.799999999999999" height="15.799999999999999" rx="6.6" fill="#ffffff"/></g>
<linearGradient id="gh63" gradientUnits="userSpaceOnUse" x1="295.1" y1="94.8" x2="282.3" y2="107.6"><stop offset="0" stop-color="#74340e"/><stop offset="0.5" stop-color="#a04e18"/><stop offset="1" stop-color="#d07a30"/></linearGradient>
<rect x="280.0" y="92.5" width="17.4" height="17.4" rx="6.6" fill="url(#gh63)"/>
<clipPath id="h63"><rect x="280.0" y="92.5" width="17.4" height="17.4" rx="6.6"/></clipPath>
<g clip-path="url(#h63)"><rect x="270.8" y="103.3" width="15.799999999999999" height="15.799999999999999" rx="6.6" fill="#ffffff"/></g>
<linearGradient id="gh64" gradientUnits="userSpaceOnUse" x1="297.2" y1="120.6" x2="280.2" y2="126.2"><stop offset="0" stop-color="#74340e"/><stop offset="0.5" stop-color="#a04e18"/><stop offset="1" stop-color="#d07a30"/></linearGradient>
<rect x="280.0" y="114.7" width="17.4" height="17.4" rx="6.6" fill="url(#gh64)"/>
<clipPath id="h64"><rect x="280.0" y="114.7" width="17.4" height="17.4" rx="6.6"/></clipPath>
<g clip-path="url(#h64)"><rect x="270.8" y="118.8" width="15.799999999999999" height="15.799999999999999" rx="6.6" fill="#ffffff"/></g>
<linearGradient id="gh65" gradientUnits="userSpaceOnUse" x1="297.2" y1="148.4" x2="280.2" y2="142.8"><stop offset="0" stop-color="#74340e"/><stop offset="0.5" stop-color="#a04e18"/><stop offset="1" stop-color="#d07a30"/></linearGradient>
<rect x="280.0" y="136.9" width="17.4" height="17.4" rx="6.6" fill="url(#gh65)"/>
<clipPath id="h65"><rect x="280.0" y="136.9" width="17.4" height="17.4" rx="6.6"/></clipPath>
<g clip-path="url(#h65)"><rect x="270.8" y="134.4" width="15.799999999999999" height="15.799999999999999" rx="6.6" fill="#ffffff"/></g>
<linearGradient id="gh66" gradientUnits="userSpaceOnUse" x1="295.1" y1="174.2" x2="282.3" y2="161.4"><stop offset="0" stop-color="#74340e"/><stop offset="0.5" stop-color="#a04e18"/><stop offset="1" stop-color="#d07a30"/></linearGradient>
<rect x="280.0" y="159.1" width="17.4" height="17.4" rx="6.6" fill="url(#gh66)"/>
<clipPath id="h66"><rect x="280.0" y="159.1" width="17.4" height="17.4" rx="6.6"/></clipPath>
<g clip-path="url(#h66)"><rect x="270.8" y="149.9" width="15.799999999999999" height="15.799999999999999" rx="6.6" fill="#ffffff"/></g>
<linearGradient id="gh67" gradientUnits="userSpaceOnUse" x1="293.3" y1="197.7" x2="284.1" y2="182.3"><stop offset="0" stop-color="#74340e"/><stop offset="0.5" stop-color="#a04e18"/><stop offset="1" stop-color="#d07a30"/></linearGradient>
<rect x="280.0" y="181.3" width="17.4" height="17.4" rx="6.6" fill="url(#gh67)"/>
<clipPath id="h67"><rect x="280.0" y="181.3" width="17.4" height="17.4" rx="6.6"/></clipPath>
<g clip-path="url(#h67)"><rect x="270.8" y="165.5" width="15.799999999999999" height="15.799999999999999" rx="6.6" fill="#ffffff"/></g>
<linearGradient id="gh68" gradientUnits="userSpaceOnUse" x1="292.2" y1="220.5" x2="285.2" y2="203.9"><stop offset="0" stop-color="#74340e"/><stop offset="0.5" stop-color="#a04e18"/><stop offset="1" stop-color="#d07a30"/></linearGradient>
<rect x="280.0" y="203.5" width="17.4" height="17.4" rx="6.6" fill="url(#gh68)"/>
<linearGradient id="gh71" gradientUnits="userSpaceOnUse" x1="316.1" y1="49.5" x2="305.7" y2="64.1"><stop offset="0" stop-color="#74340e"/><stop offset="0.5" stop-color="#a04e18"/><stop offset="1" stop-color="#d07a30"/></linearGradient>
<rect x="302.2" y="48.1" width="17.4" height="17.4" rx="6.6" fill="url(#gh71)"/>
<linearGradient id="gh72" gradientUnits="userSpaceOnUse" x1="317.3" y1="72.6" x2="304.5" y2="85.4"><stop offset="0" stop-color="#74340e"/><stop offset="0.5" stop-color="#a04e18"/><stop offset="1" stop-color="#d07a30"/></linearGradient>
<rect x="302.2" y="70.3" width="17.4" height="17.4" rx="6.6" fill="url(#gh72)"/>
<clipPath id="h72"><rect x="302.2" y="70.3" width="17.4" height="17.4" rx="6.6"/></clipPath>
<g clip-path="url(#h72)"><rect x="286.4" y="87.8" width="15.799999999999999" height="15.799999999999999" rx="6.6" fill="#ffffff"/></g>
<linearGradient id="gh73" gradientUnits="userSpaceOnUse" x1="318.6" y1="96.6" x2="303.2" y2="105.8"><stop offset="0" stop-color="#74340e"/><stop offset="0.5" stop-color="#a04e18"/><stop offset="1" stop-color="#d07a30"/></linearGradient>
<rect x="302.2" y="92.5" width="17.4" height="17.4" rx="6.6" fill="url(#gh73)"/>
<clipPath id="h73"><rect x="302.2" y="92.5" width="17.4" height="17.4" rx="6.6"/></clipPath>
<g clip-path="url(#h73)"><rect x="286.4" y="103.3" width="15.799999999999999" height="15.799999999999999" rx="6.6" fill="#ffffff"/></g>
<linearGradient id="gh74" gradientUnits="userSpaceOnUse" x1="319.7" y1="121.6" x2="302.1" y2="125.2"><stop offset="0" stop-color="#74340e"/><stop offset="0.5" stop-color="#a04e18"/><stop offset="1" stop-color="#d07a30"/></linearGradient>
<rect x="302.2" y="114.7" width="17.4" height="17.4" rx="6.6" fill="url(#gh74)"/>
<clipPath id="h74"><rect x="302.2" y="114.7" width="17.4" height="17.4" rx="6.6"/></clipPath>
<g clip-path="url(#h74)"><rect x="286.4" y="118.8" width="15.799999999999999" height="15.799999999999999" rx="6.6" fill="#ffffff"/></g>
<linearGradient id="gh75" gradientUnits="userSpaceOnUse" x1="319.7" y1="147.4" x2="302.1" y2="143.8"><stop offset="0" stop-color="#74340e"/><stop offset="0.5" stop-color="#a04e18"/><stop offset="1" stop-color="#d07a30"/></linearGradient>
<rect x="302.2" y="136.9" width="17.4" height="17.4" rx="6.6" fill="url(#gh75)"/>
<clipPath id="h75"><rect x="302.2" y="136.9" width="17.4" height="17.4" rx="6.6"/></clipPath>
<g clip-path="url(#h75)"><rect x="286.4" y="134.4" width="15.799999999999999" height="15.799999999999999" rx="6.6" fill="#ffffff"/></g>
<linearGradient id="gh76" gradientUnits="userSpaceOnUse" x1="318.6" y1="172.4" x2="303.2" y2="163.2"><stop offset="0" stop-color="#74340e"/><stop offset="0.5" stop-color="#a04e18"/><stop offset="1" stop-color="#d07a30"/></linearGradient>
<rect x="302.2" y="159.1" width="17.4" height="17.4" rx="6.6" fill="url(#gh76)"/>
<clipPath id="h76"><rect x="302.2" y="159.1" width="17.4" height="17.4" rx="6.6"/></clipPath>
<g clip-path="url(#h76)"><rect x="286.4" y="149.9" width="15.799999999999999" height="15.799999999999999" rx="6.6" fill="#ffffff"/></g>
<linearGradient id="gh77" gradientUnits="userSpaceOnUse" x1="317.3" y1="196.4" x2="304.5" y2="183.6"><stop offset="0" stop-color="#74340e"/><stop offset="0.5" stop-color="#a04e18"/><stop offset="1" stop-color="#d07a30"/></linearGradient>
<rect x="302.2" y="181.3" width="17.4" height="17.4" rx="6.6" fill="url(#gh77)"/>
<clipPath id="h77"><rect x="302.2" y="181.3" width="17.4" height="17.4" rx="6.6"/></clipPath>
<g clip-path="url(#h77)"><rect x="286.4" y="165.5" width="15.799999999999999" height="15.799999999999999" rx="6.6" fill="#ffffff"/></g>
<linearGradient id="gh78" gradientUnits="userSpaceOnUse" x1="316.1" y1="219.5" x2="305.7" y2="204.9"><stop offset="0" stop-color="#74340e"/><stop offset="0.5" stop-color="#a04e18"/><stop offset="1" stop-color="#d07a30"/></linearGradient>
<rect x="302.2" y="203.5" width="17.4" height="17.4" rx="6.6" fill="url(#gh78)"/>
<linearGradient id="gh81" gradientUnits="userSpaceOnUse" x1="339.5" y1="50.4" x2="326.7" y2="63.2"><stop offset="0" stop-color="#74340e"/><stop offset="0.5" stop-color="#a04e18"/><stop offset="1" stop-color="#d07a30"/></linearGradient>
<rect x="324.4" y="48.1" width="17.4" height="17.4" rx="6.6" fill="url(#gh81)"/>
<linearGradient id="gh82" gradientUnits="userSpaceOnUse" x1="340.4" y1="73.8" x2="325.8" y2="84.2"><stop offset="0" stop-color="#74340e"/><stop offset="0.5" stop-color="#a04e18"/><stop offset="1" stop-color="#d07a30"/></linearGradient>
<rect x="324.4" y="70.3" width="17.4" height="17.4" rx="6.6" fill="url(#gh82)"/>
<linearGradient id="gh83" gradientUnits="userSpaceOnUse" x1="341.4" y1="97.7" x2="324.8" y2="104.7"><stop offset="0" stop-color="#74340e"/><stop offset="0.5" stop-color="#a04e18"/><stop offset="1" stop-color="#d07a30"/></linearGradient>
<rect x="324.4" y="92.5" width="17.4" height="17.4" rx="6.6" fill="url(#gh83)"/>
<linearGradient id="gh84" gradientUnits="userSpaceOnUse" x1="342.0" y1="122.1" x2="324.2" y2="124.7"><stop offset="0" stop-color="#74340e"/><stop offset="0.5" stop-color="#a04e18"/><stop offset="1" stop-color="#d07a30"/></linearGradient>
<rect x="324.4" y="114.7" width="17.4" height="17.4" rx="6.6" fill="url(#gh84)"/>
<linearGradient id="gh85" gradientUnits="userSpaceOnUse" x1="342.0" y1="146.9" x2="324.2" y2="144.3"><stop offset="0" stop-color="#74340e"/><stop offset="0.5" stop-color="#a04e18"/><stop offset="1" stop-color="#d07a30"/></linearGradient>
<rect x="324.4" y="136.9" width="17.4" height="17.4" rx="6.6" fill="url(#gh85)"/>
<linearGradient id="gh86" gradientUnits="userSpaceOnUse" x1="341.4" y1="171.3" x2="324.8" y2="164.3"><stop offset="0" stop-color="#74340e"/><stop offset="0.5" stop-color="#a04e18"/><stop offset="1" stop-color="#d07a30"/></linearGradient>
<rect x="324.4" y="159.1" width="17.4" height="17.4" rx="6.6" fill="url(#gh86)"/>
<linearGradient id="gh87" gradientUnits="userSpaceOnUse" x1="340.4" y1="195.2" x2="325.8" y2="184.8"><stop offset="0" stop-color="#74340e"/><stop offset="0.5" stop-color="#a04e18"/><stop offset="1" stop-color="#d07a30"/></linearGradient>
<rect x="324.4" y="181.3" width="17.4" height="17.4" rx="6.6" fill="url(#gh87)"/>
<linearGradient id="gh88" gradientUnits="userSpaceOnUse" x1="339.5" y1="218.6" x2="326.7" y2="205.8"><stop offset="0" stop-color="#74340e"/><stop offset="0.5" stop-color="#a04e18"/><stop offset="1" stop-color="#d07a30"/></linearGradient>
<rect x="324.4" y="203.5" width="17.4" height="17.4" rx="6.6" fill="url(#gh88)"/>
<circle cx="166.6" cy="45.7" r="1.4" fill="#f9ad58"/>
<circle cx="166.6" cy="67.9" r="1.4" fill="#f9ad58"/>
<circle cx="166.6" cy="90.1" r="1.4" fill="#f9ad58"/>
<circle cx="166.6" cy="112.3" r="1.4" fill="#f9ad58"/>
<circle cx="166.6" cy="134.5" r="1.4" fill="#f9ad58"/>
<circle cx="166.6" cy="156.7" r="1.4" fill="#f9ad58"/>
<circle cx="166.6" cy="178.9" r="1.4" fill="#f9ad58"/>
<circle cx="166.6" cy="201.1" r="1.4" fill="#f9ad58"/>
<circle cx="166.6" cy="223.3" r="1.4" fill="#f9ad58"/>
<circle cx="188.8" cy="45.7" r="1.4" fill="#f9ad58"/>
<circle cx="188.8" cy="67.9" r="1.4" fill="#f9ad58"/>
<circle cx="188.8" cy="90.1" r="1.4" fill="#f9ad58"/>
<circle cx="188.8" cy="112.3" r="1.4" fill="#f9ad58"/>
<circle cx="188.8" cy="134.5" r="1.4" fill="#f9ad58"/>
<circle cx="188.8" cy="156.7" r="1.4" fill="#f9ad58"/>
<circle cx="188.8" cy="178.9" r="1.4" fill="#f9ad58"/>
<circle cx="188.8" cy="201.1" r="1.4" fill="#f9ad58"/>
<circle cx="188.8" cy="223.3" r="1.4" fill="#f9ad58"/>
<circle cx="211.0" cy="45.7" r="1.4" fill="#f9ad58"/>
<circle cx="211.0" cy="67.9" r="1.4" fill="#f9ad58"/>
<circle cx="211.0" cy="90.1" r="1.4" fill="#f9ad58"/>
<circle cx="211.0" cy="112.3" r="1.4" fill="#f9ad58"/>
<circle cx="211.0" cy="134.5" r="1.4" fill="#f9ad58"/>
<circle cx="211.0" cy="156.7" r="1.4" fill="#f9ad58"/>
<circle cx="211.0" cy="178.9" r="1.4" fill="#f9ad58"/>
<circle cx="211.0" cy="201.1" r="1.4" fill="#f9ad58"/>
<circle cx="211.0" cy="223.3" r="1.4" fill="#f9ad58"/>
<circle cx="233.2" cy="45.7" r="1.4" fill="#f9ad58"/>
<circle cx="233.2" cy="67.9" r="1.4" fill="#f9ad58"/>
<circle cx="233.2" cy="90.1" r="1.4" fill="#f9ad58"/>
<circle cx="233.2" cy="112.3" r="1.4" fill="#f9ad58"/>
<circle cx="233.2" cy="134.5" r="1.4" fill="#f9ad58"/>
<circle cx="233.2" cy="156.7" r="1.4" fill="#f9ad58"/>
<circle cx="233.2" cy="178.9" r="1.4" fill="#f9ad58"/>
<circle cx="233.2" cy="201.1" r="1.4" fill="#f9ad58"/>
<circle cx="233.2" cy="223.3" r="1.4" fill="#f9ad58"/>
<circle cx="255.4" cy="45.7" r="1.4" fill="#f9ad58"/>
<circle cx="255.4" cy="67.9" r="1.4" fill="#f9ad58"/>
<circle cx="255.4" cy="90.1" r="1.4" fill="#f9ad58"/>
<circle cx="255.4" cy="112.3" r="1.4" fill="#f9ad58"/>
<circle cx="255.4" cy="134.5" r="1.4" fill="#f9ad58"/>
<circle cx="255.4" cy="156.7" r="1.4" fill="#f9ad58"/>
<circle cx="255.4" cy="178.9" r="1.4" fill="#f9ad58"/>
<circle cx="255.4" cy="201.1" r="1.4" fill="#f9ad58"/>
<circle cx="255.4" cy="223.3" r="1.4" fill="#f9ad58"/>
<circle cx="277.6" cy="45.7" r="1.4" fill="#f9ad58"/>
<circle cx="277.6" cy="67.9" r="1.4" fill="#f9ad58"/>
<circle cx="277.6" cy="90.1" r="1.4" fill="#f9ad58"/>
<circle cx="277.6" cy="112.3" r="1.4" fill="#f9ad58"/>
<circle cx="277.6" cy="134.5" r="1.4" fill="#f9ad58"/>
<circle cx="277.6" cy="156.7" r="1.4" fill="#f9ad58"/>
<circle cx="277.6" cy="178.9" r="1.4" fill="#f9ad58"/>
<circle cx="277.6" cy="201.1" r="1.4" fill="#f9ad58"/>
<circle cx="277.6" cy="223.3" r="1.4" fill="#f9ad58"/>
<circle cx="299.8" cy="45.7" r="1.4" fill="#f9ad58"/>
<circle cx="299.8" cy="67.9" r="1.4" fill="#f9ad58"/>
<circle cx="299.8" cy="90.1" r="1.4" fill="#f9ad58"/>
<circle cx="299.8" cy="112.3" r="1.4" fill="#f9ad58"/>
<circle cx="299.8" cy="134.5" r="1.4" fill="#f9ad58"/>
<circle cx="299.8" cy="156.7" r="1.4" fill="#f9ad58"/>
<circle cx="299.8" cy="178.9" r="1.4" fill="#f9ad58"/>
<circle cx="299.8" cy="201.1" r="1.4" fill="#f9ad58"/>
<circle cx="299.8" cy="223.3" r="1.4" fill="#f9ad58"/>
<circle cx="322.0" cy="45.7" r="1.4" fill="#f9ad58"/>
<circle cx="322.0" cy="67.9" r="1.4" fill="#f9ad58"/>
<circle cx="322.0" cy="90.1" r="1.4" fill="#f9ad58"/>
<circle cx="322.0" cy="112.3" r="1.4" fill="#f9ad58"/>
<circle cx="322.0" cy="134.5" r="1.4" fill="#f9ad58"/>
<circle cx="322.0" cy="156.7" r="1.4" fill="#f9ad58"/>
<circle cx="322.0" cy="178.9" r="1.4" fill="#f9ad58"/>
<circle cx="322.0" cy="201.1" r="1.4" fill="#f9ad58"/>
<circle cx="322.0" cy="223.3" r="1.4" fill="#f9ad58"/>
<circle cx="344.2" cy="45.7" r="1.4" fill="#f9ad58"/>
<circle cx="344.2" cy="67.9" r="1.4" fill="#f9ad58"/>
<circle cx="344.2" cy="90.1" r="1.4" fill="#f9ad58"/>
<circle cx="344.2" cy="112.3" r="1.4" fill="#f9ad58"/>
<circle cx="344.2" cy="134.5" r="1.4" fill="#f9ad58"/>
<circle cx="344.2" cy="156.7" r="1.4" fill="#f9ad58"/>
<circle cx="344.2" cy="178.9" r="1.4" fill="#f9ad58"/>
<circle cx="344.2" cy="201.1" r="1.4" fill="#f9ad58"/>
<circle cx="344.2" cy="223.3" r="1.4" fill="#f9ad58"/>
</g>
<rect x="371.5" y="45.6" width="29.1" height="173.9" fill="#85504f"/>
<clipPath id="mc21"><polygon points="401,66 411,61.7 411,203.6 401,198"/></clipPath>
<polygon points="401,66 411,61.7 411,203.6 401,198" fill="#474747"/>
<g clip-path="url(#mc21)" filter="url(#soft)">
<ellipse cx="403.7" cy="159.2" rx="0.6" ry="1.6" fill="#cfcfcf" opacity="0.65"/>
<ellipse cx="408.0" cy="175.5" rx="0.6" ry="1.6" fill="#cfcfcf" opacity="0.66"/>
<ellipse cx="402.5" cy="115.2" rx="0.6" ry="0.9" fill="#cfcfcf" opacity="0.91"/>
<ellipse cx="404.1" cy="96.1" rx="0.3" ry="2.4" fill="#cfcfcf" opacity="0.88"/>
<ellipse cx="408.6" cy="149.0" rx="0.3" ry="1.3" fill="#cfcfcf" opacity="0.77"/>
<ellipse cx="403.3" cy="195.4" rx="0.5" ry="1.0" fill="#cfcfcf" opacity="0.92"/>
<ellipse cx="403.4" cy="192.1" rx="0.5" ry="1.7" fill="#cfcfcf" opacity="0.70"/>
<ellipse cx="405.9" cy="89.8" rx="0.3" ry="2.2" fill="#cfcfcf" opacity="0.66"/>
<ellipse cx="408.0" cy="92.8" rx="0.8" ry="2.2" fill="#cfcfcf" opacity="0.89"/>
<ellipse cx="407.8" cy="144.1" rx="0.7" ry="1.0" fill="#cfcfcf" opacity="0.76"/>
<ellipse cx="408.3" cy="91.7" rx="0.8" ry="2.2" fill="#cfcfcf" opacity="0.73"/>
<ellipse cx="405.1" cy="126.3" rx="0.5" ry="2.4" fill="#cfcfcf" opacity="0.72"/>
<ellipse cx="402.7" cy="76.9" rx="0.7" ry="2.4" fill="#cfcfcf" opacity="0.77"/>
<ellipse cx="405.9" cy="140.0" rx="0.7" ry="1.2" fill="#cfcfcf" opacity="0.82"/>
<ellipse cx="406.4" cy="149.9" rx="0.4" ry="1.1" fill="#cfcfcf" opacity="0.71"/>
<ellipse cx="409.0" cy="111.8" rx="0.6" ry="1.3" fill="#cfcfcf" opacity="0.60"/>
<ellipse cx="403.0" cy="176.3" rx="0.7" ry="1.4" fill="#cfcfcf" opacity="0.86"/>
<ellipse cx="407.2" cy="188.0" rx="0.8" ry="1.5" fill="#cfcfcf" opacity="1.00"/>
<ellipse cx="409.2" cy="145.5" rx="0.7" ry="1.6" fill="#cfcfcf" opacity="0.72"/>
<ellipse cx="404.2" cy="184.9" rx="0.4" ry="0.9" fill="#cfcfcf" opacity="0.91"/>
<ellipse cx="407.9" cy="130.7" rx="0.7" ry="0.9" fill="#cfcfcf" opacity="0.67"/>
<ellipse cx="404.5" cy="121.9" rx="0.4" ry="0.9" fill="#cfcfcf" opacity="0.70"/>
<ellipse cx="408.8" cy="199.7" rx="0.7" ry="1.6" fill="#cfcfcf" opacity="0.66"/>
<ellipse cx="409.2" cy="136.5" rx="0.7" ry="0.8" fill="#cfcfcf" opacity="0.65"/>
<ellipse cx="408.4" cy="173.7" rx="0.7" ry="1.8" fill="#cfcfcf" opacity="0.74"/>
<ellipse cx="406.6" cy="181.2" rx="0.5" ry="1.7" fill="#cfcfcf" opacity="0.67"/>
<ellipse cx="407.9" cy="65.4" rx="0.6" ry="2.3" fill="#cfcfcf" opacity="0.56"/>
<ellipse cx="406.7" cy="152.9" rx="0.7" ry="1.7" fill="#cfcfcf" opacity="0.67"/>
<ellipse cx="405.3" cy="196.3" rx="0.8" ry="1.0" fill="#cfcfcf" opacity="0.59"/>
<ellipse cx="403.2" cy="67.5" rx="0.5" ry="1.0" fill="#cfcfcf" opacity="0.94"/>
</g>
<polygon points="401,66 411,61.7 411,203.6 401,198" fill="none" stroke="#555" stroke-width="1.2"/>
<clipPath id="mc22"><polygon points="411,61.7 440,61.7 440,203.6 411,203.6"/></clipPath>
<polygon points="411,61.7 440,61.7 440,203.6 411,203.6" fill="#5c5c5c"/>
<g clip-path="url(#mc22)" filter="url(#soft)">
<ellipse cx="412.9" cy="61.7" rx="1.2" ry="1.8" fill="#ffffff"/>
<ellipse cx="414.6" cy="63.5" rx="1.1" ry="1.9" fill="#ffffff"/>
<ellipse cx="419.7" cy="62.4" rx="1.2" ry="2.5" fill="#b4b4b4"/>
<ellipse cx="423.1" cy="63.7" rx="1.1" ry="2.4" fill="#ffffff"/>
<ellipse cx="425.2" cy="61.9" rx="1.0" ry="2.8" fill="#8a8a8a"/>
<ellipse cx="429.6" cy="64.7" rx="1.0" ry="2.4" fill="#b4b4b4"/>
<ellipse cx="431.9" cy="64.6" rx="1.1" ry="2.8" fill="#ffffff"/>
<ellipse cx="436.1" cy="61.7" rx="1.0" ry="1.8" fill="#8a8a8a"/>
<ellipse cx="438.3" cy="63.1" rx="1.2" ry="2.3" fill="#ffffff"/>
<ellipse cx="413.7" cy="68.7" rx="1.2" ry="2.0" fill="#b4b4b4"/>
<ellipse cx="416.8" cy="69.3" rx="1.0" ry="2.3" fill="#ffffff"/>
<ellipse cx="420.4" cy="69.6" rx="0.7" ry="2.9" fill="#b4b4b4"/>
<ellipse cx="423.6" cy="68.8" rx="1.2" ry="2.8" fill="#b4b4b4"/>
<ellipse cx="427.3" cy="68.6" rx="1.1" ry="1.8" fill="#ffffff"/>
<ellipse cx="430.8" cy="68.5" rx="0.9" ry="1.8" fill="#ffffff"/>
<ellipse cx="433.2" cy="69.1" rx="1.0" ry="1.9" fill="#8a8a8a"/>
<ellipse cx="437.9" cy="67.4" rx="1.1" ry="2.8" fill="#b4b4b4"/>
<ellipse cx="411.9" cy="76.2" rx="1.0" ry="2.4" fill="#b4b4b4"/>
<ellipse cx="416.4" cy="75.9" rx="1.1" ry="2.4" fill="#b4b4b4"/>
<ellipse cx="418.5" cy="76.0" rx="1.0" ry="2.8" fill="#8a8a8a"/>
<ellipse cx="421.2" cy="75.0" rx="0.9" ry="1.8" fill="#b4b4b4"/>
<ellipse cx="426.0" cy="74.8" rx="0.7" ry="2.9" fill="#ffffff"/>
<ellipse cx="428.7" cy="73.6" rx="0.8" ry="2.7" fill="#ffffff"/>
<ellipse cx="431.7" cy="74.2" rx="0.9" ry="1.9" fill="#ffffff"/>
<ellipse cx="435.5" cy="75.8" rx="1.1" ry="1.6" fill="#8a8a8a"/>
<ellipse cx="439.0" cy="76.3" rx="0.8" ry="2.2" fill="#ffffff"/>
<ellipse cx="413.5" cy="81.9" rx="0.9" ry="1.9" fill="#8a8a8a"/>
<ellipse cx="416.6" cy="80.2" rx="1.0" ry="1.8" fill="#ffffff"/>
<ellipse cx="421.3" cy="81.5" rx="0.9" ry="2.4" fill="#ffffff"/>
<ellipse cx="423.0" cy="81.0" rx="1.1" ry="1.6" fill="#ffffff"/>
<ellipse cx="427.6" cy="82.7" rx="0.8" ry="2.3" fill="#8a8a8a"/>
<ellipse cx="430.0" cy="80.4" rx="1.1" ry="1.6" fill="#8a8a8a"/>
<ellipse cx="433.9" cy="81.5" rx="1.1" ry="2.8" fill="#ffffff"/>
<ellipse cx="437.6" cy="80.5" rx="1.0" ry="1.8" fill="#8a8a8a"/>
<ellipse cx="411.5" cy="85.8" rx="1.0" ry="2.5" fill="#8a8a8a"/>
<ellipse cx="416.0" cy="88.7" rx="0.9" ry="2.7" fill="#ffffff"/>
<ellipse cx="419.3" cy="86.6" rx="0.8" ry="1.8" fill="#b4b4b4"/>
<ellipse cx="421.3" cy="86.6" rx="1.0" ry="2.9" fill="#ffffff"/>
<ellipse cx="424.9" cy="87.2" rx="1.0" ry="2.3" fill="#8a8a8a"/>
<ellipse cx="429.5" cy="85.3" rx="1.0" ry="2.6" fill="#8a8a8a"/>
<ellipse cx="433.1" cy="85.6" rx="0.8" ry="2.3" fill="#ffffff"/>
<ellipse cx="436.7" cy="88.5" rx="1.0" ry="2.6" fill="#b4b4b4"/>
<ellipse cx="438.9" cy="88.7" rx="1.1" ry="2.8" fill="#8a8a8a"/>
<ellipse cx="414.3" cy="93.5" rx="0.8" ry="1.9" fill="#ffffff"/>
<ellipse cx="416.2" cy="94.5" rx="0.7" ry="2.0" fill="#ffffff"/>
<ellipse cx="419.7" cy="92.8" rx="0.8" ry="2.2" fill="#ffffff"/>
<ellipse cx="423.7" cy="92.5" rx="0.9" ry="2.3" fill="#8a8a8a"/>
<ellipse cx="428.1" cy="94.7" rx="0.7" ry="2.8" fill="#ffffff"/>
<ellipse cx="430.7" cy="92.0" rx="0.8" ry="2.0" fill="#ffffff"/>
<ellipse cx="433.4" cy="91.4" rx="1.1" ry="1.7" fill="#8a8a8a"/>
<ellipse cx="437.5" cy="94.1" rx="0.7" ry="2.0" fill="#b4b4b4"/>
<ellipse cx="411.8" cy="100.5" rx="0.9" ry="2.4" fill="#b4b4b4"/>
<ellipse cx="414.5" cy="99.7" rx="1.0" ry="2.1" fill="#8a8a8a"/>
<ellipse cx="418.4" cy="97.2" rx="0.8" ry="2.2" fill="#ffffff"/>
<ellipse cx="422.8" cy="98.0" rx="1.0" ry="2.4" fill="#b4b4b4"/>
<ellipse cx="424.6" cy="100.5" rx="0.9" ry="1.9" fill="#b4b4b4"/>
<ellipse cx="429.4" cy="100.6" rx="0.9" ry="2.3" fill="#ffffff"/>
<ellipse cx="431.7" cy="98.7" rx="1.0" ry="2.7" fill="#8a8a8a"/>
<ellipse cx="435.3" cy="100.3" rx="0.8" ry="2.3" fill="#8a8a8a"/>
<ellipse cx="439.6" cy="99.3" rx="0.8" ry="2.3" fill="#b4b4b4"/>
<ellipse cx="413.4" cy="106.1" rx="1.2" ry="2.4" fill="#ffffff"/>
<ellipse cx="416.5" cy="104.7" rx="1.1" ry="1.7" fill="#ffffff"/>
<ellipse cx="420.7" cy="104.3" rx="0.8" ry="2.5" fill="#8a8a8a"/>
<ellipse cx="424.3" cy="104.0" rx="0.9" ry="2.4" fill="#ffffff"/>
<ellipse cx="426.8" cy="103.2" rx="1.1" ry="1.8" fill="#b4b4b4"/>
<ellipse cx="431.6" cy="105.0" rx="0.8" ry="2.1" fill="#ffffff"/>
<ellipse cx="434.1" cy="103.8" rx="1.0" ry="1.9" fill="#ffffff"/>
<ellipse cx="437.4" cy="104.8" rx="1.0" ry="1.9" fill="#b4b4b4"/>
<ellipse cx="411.3" cy="112.3" rx="0.8" ry="1.7" fill="#ffffff"/>
<ellipse cx="416.1" cy="111.1" rx="1.0" ry="2.0" fill="#8a8a8a"/>
<ellipse cx="418.7" cy="111.8" rx="1.1" ry="2.1" fill="#ffffff"/>
<ellipse cx="421.3" cy="110.4" rx="0.8" ry="2.8" fill="#b4b4b4"/>
<ellipse cx="426.5" cy="111.0" rx="1.0" ry="2.3" fill="#8a8a8a"/>
<ellipse cx="428.3" cy="112.6" rx="0.9" ry="2.1" fill="#8a8a8a"/>
<ellipse cx="431.5" cy="111.4" rx="0.9" ry="2.0" fill="#8a8a8a"/>
<ellipse cx="436.0" cy="112.1" rx="0.8" ry="2.4" fill="#ffffff"/>
<ellipse cx="438.3" cy="112.1" rx="1.1" ry="2.2" fill="#ffffff"/>
<ellipse cx="413.0" cy="115.3" rx="0.8" ry="2.6" fill="#ffffff"/>
<ellipse cx="417.7" cy="117.5" rx="1.0" ry="2.6" fill="#ffffff"/>
<ellipse cx="420.2" cy="115.5" rx="0.8" ry="1.8" fill="#b4b4b4"/>
<ellipse cx="423.7" cy="115.5" rx="0.8" ry="2.8" fill="#8a8a8a"/>
<ellipse cx="427.8" cy="115.2" rx="1.1" ry="2.3" fill="#8a8a8a"/>
<ellipse cx="431.5" cy="116.9" rx="0.8" ry="2.0" fill="#ffffff"/>
<ellipse cx="434.8" cy="118.2" rx="0.9" ry="1.7" fill="#ffffff"/>
<ellipse cx="436.9" cy="116.5" rx="0.8" ry="2.5" fill="#b4b4b4"/>
<ellipse cx="411.5" cy="124.4" rx="0.9" ry="2.6" fill="#b4b4b4"/>
<ellipse cx="415.1" cy="122.1" rx="0.8" ry="1.9" fill="#ffffff"/>
<ellipse cx="419.3" cy="122.5" rx="0.8" ry="1.7" fill="#8a8a8a"/>
<ellipse cx="421.8" cy="122.6" rx="0.8" ry="1.9" fill="#8a8a8a"/>
<ellipse cx="424.9" cy="122.1" rx="1.2" ry="1.9" fill="#8a8a8a"/>
<ellipse cx="428.1" cy="123.0" rx="0.8" ry="2.1" fill="#b4b4b4"/>
<ellipse cx="432.9" cy="121.2" rx="1.0" ry="2.6" fill="#8a8a8a"/>
<ellipse cx="435.8" cy="122.9" rx="0.8" ry="2.3" fill="#b4b4b4"/>
<ellipse cx="438.7" cy="122.4" rx="0.8" ry="1.7" fill="#ffffff"/>
<ellipse cx="413.8" cy="128.1" rx="1.0" ry="1.9" fill="#b4b4b4"/>
<ellipse cx="416.3" cy="129.3" rx="1.0" ry="2.3" fill="#b4b4b4"/>
<ellipse cx="420.7" cy="127.3" rx="1.1" ry="2.1" fill="#ffffff"/>
<ellipse cx="423.1" cy="128.7" rx="0.7" ry="1.7" fill="#8a8a8a"/>
<ellipse cx="427.3" cy="130.3" rx="0.8" ry="2.6" fill="#ffffff"/>
<ellipse cx="429.9" cy="128.3" rx="1.1" ry="2.7" fill="#b4b4b4"/>
<ellipse cx="433.7" cy="128.2" rx="0.8" ry="2.0" fill="#ffffff"/>
<ellipse cx="438.0" cy="130.7" rx="0.7" ry="2.6" fill="#ffffff"/>
<ellipse cx="413.0" cy="136.1" rx="1.1" ry="2.6" fill="#b4b4b4"/>
<ellipse cx="415.9" cy="135.0" rx="1.1" ry="1.9" fill="#8a8a8a"/>
<ellipse cx="418.7" cy="133.5" rx="1.1" ry="2.2" fill="#ffffff"/>
<ellipse cx="422.2" cy="136.0" rx="0.9" ry="2.2" fill="#ffffff"/>
<ellipse cx="425.6" cy="135.7" rx="1.1" ry="2.3" fill="#8a8a8a"/>
<ellipse cx="429.4" cy="135.1" rx="1.0" ry="2.4" fill="#8a8a8a"/>
<ellipse cx="432.2" cy="134.7" rx="0.9" ry="2.8" fill="#8a8a8a"/>
<ellipse cx="436.3" cy="136.6" rx="1.0" ry="2.1" fill="#8a8a8a"/>
<ellipse cx="438.2" cy="135.6" rx="1.1" ry="2.6" fill="#8a8a8a"/>
<ellipse cx="412.8" cy="141.7" rx="0.9" ry="2.7" fill="#ffffff"/>
<ellipse cx="416.9" cy="140.9" rx="0.8" ry="1.9" fill="#ffffff"/>
<ellipse cx="419.9" cy="141.1" rx="0.7" ry="1.7" fill="#ffffff"/>
<ellipse cx="424.4" cy="142.7" rx="1.0" ry="1.8" fill="#8a8a8a"/>
<ellipse cx="427.9" cy="139.7" rx="1.0" ry="2.7" fill="#ffffff"/>
<ellipse cx="430.3" cy="142.3" rx="1.2" ry="2.6" fill="#ffffff"/>
<ellipse cx="434.8" cy="142.7" rx="0.8" ry="2.3" fill="#8a8a8a"/>
<ellipse cx="437.6" cy="141.8" rx="1.0" ry="2.0" fill="#ffffff"/>
<ellipse cx="411.4" cy="146.8" rx="1.0" ry="2.1" fill="#8a8a8a"/>
<ellipse cx="414.8" cy="146.5" rx="0.8" ry="2.0" fill="#ffffff"/>
<ellipse cx="418.2" cy="146.3" rx="1.0" ry="2.4" fill="#b4b4b4"/>
<ellipse cx="423.1" cy="147.6" rx="0.9" ry="2.3" fill="#ffffff"/>
<ellipse cx="426.1" cy="147.1" rx="0.9" ry="2.5" fill="#ffffff"/>
<ellipse cx="429.6" cy="146.8" rx="0.7" ry="2.3" fill="#ffffff"/>
<ellipse cx="432.9" cy="145.6" rx="1.0" ry="2.3" fill="#b4b4b4"/>
<ellipse cx="435.3" cy="145.5" rx="0.9" ry="2.8" fill="#ffffff"/>
<ellipse cx="439.0" cy="148.8" rx="1.0" ry="2.2" fill="#8a8a8a"/>
<ellipse cx="413.8" cy="154.2" rx="0.8" ry="2.8" fill="#ffffff"/>
<ellipse cx="417.4" cy="152.6" rx="0.8" ry="2.3" fill="#ffffff"/>
<ellipse cx="421.1" cy="153.0" rx="1.1" ry="2.0" fill="#b4b4b4"/>
<ellipse cx="424.2" cy="154.7" rx="0.8" ry="2.5" fill="#8a8a8a"/>
<ellipse cx="427.6" cy="154.0" rx="1.2" ry="2.9" fill="#8a8a8a"/>
<ellipse cx="430.1" cy="152.9" rx="1.2" ry="1.7" fill="#ffffff"/>
<ellipse cx="433.9" cy="153.4" rx="0.8" ry="2.3" fill="#b4b4b4"/>
<ellipse cx="436.9" cy="153.0" rx="0.8" ry="2.2" fill="#8a8a8a"/>
<ellipse cx="412.3" cy="159.1" rx="1.1" ry="2.9" fill="#8a8a8a"/>
<ellipse cx="414.7" cy="158.9" rx="1.0" ry="2.1" fill="#ffffff"/>
<ellipse cx="419.5" cy="158.9" rx="0.7" ry="2.4" fill="#8a8a8a"/>
<ellipse cx="422.0" cy="160.2" rx="0.7" ry="2.5" fill="#ffffff"/>
<ellipse cx="425.2" cy="158.8" rx="1.2" ry="2.4" fill="#b4b4b4"/>
<ellipse cx="429.7" cy="160.2" rx="0.9" ry="2.0" fill="#8a8a8a"/>
<ellipse cx="432.4" cy="160.4" rx="0.9" ry="2.8" fill="#8a8a8a"/>
<ellipse cx="436.3" cy="157.3" rx="1.1" ry="1.7" fill="#b4b4b4"/>
<ellipse cx="439.0" cy="159.5" rx="1.0" ry="1.7" fill="#b4b4b4"/>
<ellipse cx="413.2" cy="166.3" rx="0.9" ry="2.4" fill="#ffffff"/>
<ellipse cx="416.7" cy="164.7" rx="1.1" ry="2.7" fill="#b4b4b4"/>
<ellipse cx="419.8" cy="165.0" rx="1.1" ry="2.3" fill="#8a8a8a"/>
<ellipse cx="424.2" cy="165.5" rx="1.1" ry="2.9" fill="#b4b4b4"/>
<ellipse cx="428.3" cy="163.6" rx="0.9" ry="2.0" fill="#8a8a8a"/>
<ellipse cx="429.9" cy="166.5" rx="1.0" ry="2.2" fill="#8a8a8a"/>
<ellipse cx="433.5" cy="166.5" rx="0.8" ry="2.3" fill="#8a8a8a"/>
<ellipse cx="438.5" cy="164.1" rx="0.9" ry="2.1" fill="#ffffff"/>
<ellipse cx="411.2" cy="171.5" rx="1.0" ry="2.2" fill="#ffffff"/>
<ellipse cx="416.1" cy="171.9" rx="0.8" ry="2.6" fill="#8a8a8a"/>
<ellipse cx="419.4" cy="170.3" rx="0.7" ry="2.6" fill="#ffffff"/>
<ellipse cx="423.2" cy="169.4" rx="0.9" ry="1.7" fill="#ffffff"/>
<ellipse cx="425.9" cy="172.3" rx="0.8" ry="2.8" fill="#8a8a8a"/>
<ellipse cx="429.6" cy="169.8" rx="1.2" ry="2.7" fill="#8a8a8a"/>
<ellipse cx="432.9" cy="172.1" rx="0.7" ry="2.5" fill="#b4b4b4"/>
<ellipse cx="435.8" cy="169.7" rx="1.1" ry="2.8" fill="#ffffff"/>
<ellipse cx="438.3" cy="169.3" rx="0.8" ry="2.7" fill="#b4b4b4"/>
<ellipse cx="413.6" cy="177.8" rx="1.1" ry="1.9" fill="#ffffff"/>
<ellipse cx="417.0" cy="176.9" rx="0.8" ry="2.2" fill="#ffffff"/>
<ellipse cx="419.6" cy="175.8" rx="1.1" ry="2.0" fill="#ffffff"/>
<ellipse cx="424.9" cy="178.4" rx="1.1" ry="2.9" fill="#ffffff"/>
<ellipse cx="427.2" cy="176.9" rx="0.9" ry="1.9" fill="#b4b4b4"/>
<ellipse cx="431.2" cy="176.0" rx="0.7" ry="2.0" fill="#ffffff"/>
<ellipse cx="434.7" cy="175.7" rx="0.9" ry="2.0" fill="#ffffff"/>
<ellipse cx="436.5" cy="175.4" rx="1.1" ry="2.6" fill="#ffffff"/>
<ellipse cx="412.6" cy="183.7" rx="0.8" ry="2.5" fill="#8a8a8a"/>
<ellipse cx="415.3" cy="184.7" rx="1.1" ry="2.6" fill="#b4b4b4"/>
<ellipse cx="419.7" cy="184.0" rx="1.0" ry="2.6" fill="#ffffff"/>
<ellipse cx="423.1" cy="182.1" rx="1.1" ry="1.8" fill="#8a8a8a"/>
<ellipse cx="424.8" cy="183.2" rx="0.9" ry="2.4" fill="#b4b4b4"/>
<ellipse cx="428.3" cy="183.3" rx="1.1" ry="2.5" fill="#b4b4b4"/>
<ellipse cx="431.5" cy="183.2" rx="1.0" ry="2.5" fill="#ffffff"/>
<ellipse cx="436.2" cy="181.2" rx="0.8" ry="2.3" fill="#b4b4b4"/>
<ellipse cx="439.2" cy="183.0" rx="0.8" ry="2.2" fill="#8a8a8a"/>
<ellipse cx="413.2" cy="187.9" rx="0.8" ry="2.6" fill="#b4b4b4"/>
<ellipse cx="416.8" cy="187.6" rx="0.7" ry="2.0" fill="#8a8a8a"/>
<ellipse cx="420.8" cy="187.3" rx="1.0" ry="2.9" fill="#8a8a8a"/>
<ellipse cx="423.5" cy="190.2" rx="0.9" ry="1.7" fill="#8a8a8a"/>
<ellipse cx="427.0" cy="190.1" rx="1.0" ry="2.3" fill="#ffffff"/>
<ellipse cx="431.2" cy="188.5" rx="0.8" ry="2.1" fill="#8a8a8a"/>
<ellipse cx="433.7" cy="189.2" rx="0.9" ry="2.2" fill="#ffffff"/>
<ellipse cx="438.4" cy="187.3" rx="0.8" ry="2.5" fill="#ffffff"/>
<ellipse cx="412.6" cy="193.3" rx="1.1" ry="2.2" fill="#8a8a8a"/>
<ellipse cx="415.6" cy="196.1" rx="0.8" ry="2.5" fill="#8a8a8a"/>
<ellipse cx="417.9" cy="194.5" rx="1.0" ry="2.3" fill="#8a8a8a"/>
<ellipse cx="422.1" cy="194.8" rx="1.0" ry="2.8" fill="#ffffff"/>
<ellipse cx="424.8" cy="193.3" rx="1.1" ry="2.2" fill="#b4b4b4"/>
<ellipse cx="428.2" cy="195.5" rx="0.8" ry="2.7" fill="#b4b4b4"/>
<ellipse cx="432.5" cy="196.0" rx="0.9" ry="2.5" fill="#ffffff"/>
<ellipse cx="436.1" cy="196.3" rx="1.1" ry="1.6" fill="#8a8a8a"/>
<ellipse cx="439.1" cy="195.6" rx="0.9" ry="1.7" fill="#8a8a8a"/>
<ellipse cx="413.9" cy="199.9" rx="0.8" ry="2.7" fill="#b4b4b4"/>
<ellipse cx="416.1" cy="201.2" rx="1.0" ry="1.8" fill="#8a8a8a"/>
<ellipse cx="420.6" cy="202.2" rx="1.2" ry="2.7" fill="#b4b4b4"/>
<ellipse cx="423.7" cy="199.6" rx="0.9" ry="2.7" fill="#b4b4b4"/>
<ellipse cx="427.2" cy="201.8" rx="1.1" ry="2.7" fill="#ffffff"/>
<ellipse cx="431.3" cy="202.0" rx="0.8" ry="2.0" fill="#b4b4b4"/>
<ellipse cx="433.7" cy="200.3" rx="0.9" ry="2.5" fill="#b4b4b4"/>
<ellipse cx="438.3" cy="202.8" rx="1.0" ry="2.4" fill="#ffffff"/>
</g>
<polygon points="411,61.7 440,61.7 440,203.6 411,203.6" fill="none" stroke="#555" stroke-width="1.2"/>
<g transform="translate(101,74.5) rotate(8) scale(1.35,1.35)" filter="url(#soft)">
<circle cx="-5.5" cy="-1.2" r="3.3" fill="url(#gC)"/>
<circle cx="0" cy="0.6" r="3.5" fill="url(#gC)"/>
<circle cx="5.3" cy="-1.6" r="3.3" fill="url(#gC)"/>
<circle cx="-8.6" cy="-3.2" r="1.7" fill="url(#gH)"/>
<circle cx="-7.0" cy="2.0" r="1.7" fill="url(#gH)"/>
<circle cx="8.4" cy="-3.4" r="1.7" fill="url(#gH)"/>
<circle cx="7.4" cy="1.6" r="1.7" fill="url(#gH)"/>
<circle cx="-4.2" cy="-4.6" r="1.6" fill="url(#gH)"/>
<circle cx="4.4" cy="-5.0" r="1.6" fill="url(#gH)"/>
<circle cx="0.6" cy="6.6" r="3.2" fill="url(#gO)"/>
<circle cx="1.6" cy="10.4" r="1.6" fill="url(#gH)"/>
</g>
<g transform="translate(152.5,82) rotate(5) scale(1.3,1.3)" filter="url(#soft)">
<circle cx="-5.5" cy="-1.2" r="3.3" fill="url(#gC)"/>
<circle cx="0" cy="0.6" r="3.5" fill="url(#gC)"/>
<circle cx="5.3" cy="-1.6" r="3.3" fill="url(#gC)"/>
<circle cx="-8.6" cy="-3.2" r="1.7" fill="url(#gH)"/>
<circle cx="-7.0" cy="2.0" r="1.7" fill="url(#gH)"/>
<circle cx="8.4" cy="-3.4" r="1.7" fill="url(#gH)"/>
<circle cx="7.4" cy="1.6" r="1.7" fill="url(#gH)"/>
<circle cx="-4.2" cy="-4.6" r="1.6" fill="url(#gH)"/>
<circle cx="4.4" cy="-5.0" r="1.6" fill="url(#gH)"/>
<circle cx="0.6" cy="6.6" r="3.2" fill="url(#gO)"/>
<circle cx="1.6" cy="10.4" r="1.6" fill="url(#gH)"/>
</g>
<g transform="translate(149.5,178.5) rotate(-40) scale(1.3,1.3)" filter="url(#soft)">
<circle cx="-5.5" cy="-1.2" r="3.3" fill="url(#gC)"/>
<circle cx="0" cy="0.6" r="3.5" fill="url(#gC)"/>
<circle cx="5.3" cy="-1.6" r="3.3" fill="url(#gC)"/>
<circle cx="-8.6" cy="-3.2" r="1.7" fill="url(#gH)"/>
<circle cx="-7.0" cy="2.0" r="1.7" fill="url(#gH)"/>
<circle cx="8.4" cy="-3.4" r="1.7" fill="url(#gH)"/>
<circle cx="7.4" cy="1.6" r="1.7" fill="url(#gH)"/>
<circle cx="-4.2" cy="-4.6" r="1.6" fill="url(#gH)"/>
<circle cx="4.4" cy="-5.0" r="1.6" fill="url(#gH)"/>
<circle cx="0.6" cy="6.6" r="3.2" fill="url(#gO)"/>
</g>
<g transform="translate(98,193.5) rotate(-40) scale(1.35,1.35)" filter="url(#soft)">
<circle cx="-5.5" cy="-1.2" r="3.3" fill="url(#gC)"/>
<circle cx="0" cy="0.6" r="3.5" fill="url(#gC)"/>
<circle cx="5.3" cy="-1.6" r="3.3" fill="url(#gC)"/>
<circle cx="-8.6" cy="-3.2" r="1.7" fill="url(#gH)"/>
<circle cx="-7.0" cy="2.0" r="1.7" fill="url(#gH)"/>
<circle cx="8.4" cy="-3.4" r="1.7" fill="url(#gH)"/>
<circle cx="7.4" cy="1.6" r="1.7" fill="url(#gH)"/>
<circle cx="-4.2" cy="-4.6" r="1.6" fill="url(#gH)"/>
<circle cx="4.4" cy="-5.0" r="1.6" fill="url(#gH)"/>
<circle cx="0.6" cy="6.6" r="3.2" fill="url(#gO)"/>
</g>
<line x1="94" y1="130.4" x2="155.2" y2="130.4" stroke="#e8620a" stroke-width="2.8" />
<path d="M161.5,130.4 L151.0,125.4 L153.94,130.4 L151.0,135.4 Z" fill="#e8620a"/>
</g>
<g id="pb">
<text transform="translate(491,21.5) scale(1.03,1)" font-size="25.5" font-weight="bold" class="pl" fill="#000" stroke="#000" stroke-width="0.6">b</text>
<text x="528.6" y="21" font-size="17.5" text-anchor="start" fill="#111" font-weight="normal" textLength="8.2" lengthAdjust="spacingAndGlyphs" >–</text>
<text x="582" y="21" font-size="17.5" text-anchor="start" fill="#111" font-weight="normal" textLength="36.5" lengthAdjust="spacingAndGlyphs" >CEM</text>
<text x="656.5" y="21" font-size="17.5" text-anchor="start" fill="#111" font-weight="normal" >+</text>
<rect x="515" y="23" width="176" height="210" fill="#fdfdfe"/>
<g filter="url(#soft)">
<rect x="521" y="45.5" width="27" height="159.5" fill="#2d2929" filter="url(#rough)"/>
<path d="M517.9,57.7L520.8,66.0M519.8,58.8L526.8,65.0M524.8,162.4L522.4,166.8M534.1,111.4L537.1,122.0M525.2,46.2L518.5,47.5M523.0,92.6L527.4,102.4M526.6,75.2L524.5,82.7M547.4,178.2L549.8,183.1M540.4,204.8L549.5,205.6M542.2,146.9L549.6,153.0M542.8,72.7L540.4,77.7M518.6,95.5L522.0,101.4M544.4,179.6L533.7,180.9M548.3,170.5L551.3,174.8M539.5,130.8L537.1,134.7M526.4,189.9L523.6,198.3M526.1,107.6L517.9,110.0M549.1,70.9L550.4,80.4M533.2,170.1L532.3,174.9M519.6,203.2L524.6,205.2M532.7,158.5L526.1,161.8M532.3,169.9L536.6,174.9M535.6,147.2L540.4,147.8M526.4,157.6L520.2,166.5M546.8,81.5L538.8,88.8M528.7,42.6L531.0,48.1M519.8,49.0L529.1,52.8M518.4,142.3L522.7,145.5M541.4,90.4L547.5,94.3M543.6,127.8L537.5,130.7M534.7,156.3L535.8,165.2M529.1,63.6L537.9,67.1M544.4,194.3L539.8,201.0M520.9,181.7L527.4,184.3M521.4,102.9L525.3,108.6M537.6,128.8L544.5,135.3M537.7,178.3L545.9,179.2M542.9,82.9L550.7,88.7M533.1,107.3L527.5,110.9M523.1,74.6L527.2,82.5M527.6,169.0L533.2,170.2M538.4,116.6L538.4,127.2M523.9,72.8L531.3,73.6M526.2,120.9L530.2,121.0M527.7,163.2L533.8,171.6M539.1,107.6L534.8,111.3M538.2,178.8L537.4,185.0M519.2,135.5L524.7,139.2M537.8,194.1L533.8,200.6M544.1,89.9L547.1,98.1M534.8,75.0L537.5,84.4M521.2,158.1L531.8,159.7M545.0,96.2L535.4,96.7M520.8,78.6L521.1,89.6M522.2,49.5L524.6,53.1M531.2,129.1L532.1,134.0M519.0,171.2L520.4,178.4M538.5,154.1L529.2,157.1M539.5,97.7L543.5,100.1M546.7,47.7L544.5,57.9M527.6,102.0L530.3,112.3M535.7,180.1L544.7,181.2M536.8,106.6L529.1,111.6M550.6,163.3L543.9,165.2M535.9,169.4L536.6,174.3M539.4,185.0L534.9,186.9M528.2,76.2L533.4,85.6M529.7,92.0L534.4,97.4M537.4,98.0L542.1,101.0M523.1,189.3L531.1,194.0M519.2,168.5L525.5,175.5M527.8,54.9L537.0,57.7M533.8,119.0L537.8,126.9M534.9,50.7L533.0,56.6M547.1,131.7L543.4,134.8M545.5,141.0L536.4,145.6M538.3,138.4L533.9,142.3M537.0,168.4L534.8,175.9M544.0,201.3L547.1,204.6M541.7,67.4L534.4,68.1M537.8,176.1L533.3,178.1M532.7,70.6L533.4,75.4M544.4,96.8L547.9,106.5M544.5,94.1L544.5,102.8M527.1,64.7L522.5,66.9M541.9,161.1L540.0,167.2M540.6,171.0L550.6,173.2M536.7,89.6L540.8,92.0M542.9,179.8L545.4,184.5M520.0,109.4L522.6,112.9M524.9,177.1L531.6,178.5M532.7,69.7L537.2,70.2M527.5,200.9L519.4,204.7M543.3,93.1L550.5,100.3M536.3,191.4L539.3,197.6M538.7,186.3L543.8,189.2M523.3,134.0L515.6,135.9M524.7,154.4L522.5,158.6M547.2,148.2L547.4,154.6M522.8,117.4L525.1,122.5M544.4,150.9L533.7,152.5M532.1,157.3L534.8,163.8M533.0,203.5L540.2,204.4M533.0,174.5L525.8,175.7M522.7,136.5L520.3,144.9M543.8,114.6L542.4,123.9M522.9,78.2L516.8,87.3M551.2,89.3L545.3,89.8M534.1,66.3L532.0,72.7M536.3,198.3L544.2,201.7M532.4,87.8L542.9,88.9M535.7,144.1L545.4,147.3M532.0,116.1L530.7,123.1M551.1,115.9L546.1,123.9M545.3,66.7L550.5,76.0M540.0,103.5L535.5,105.3M528.7,51.6L525.0,58.0M525.3,112.2L531.6,118.6M544.5,105.0L540.6,106.8M532.8,67.2L540.2,70.0M518.7,54.3L524.7,57.0M540.4,89.0L549.1,92.5M541.8,206.0L546.9,206.8M533.1,200.5L531.8,210.6M527.5,118.1L524.4,122.8M538.9,176.0L531.5,180.8M545.6,203.6L543.8,209.1M529.8,51.7L522.0,53.8M539.6,183.4L535.8,189.0M534.9,54.6L539.4,59.2M544.7,148.4L542.5,154.8M526.7,105.9L533.1,106.9M544.5,174.1L549.8,179.4M540.3,72.6L543.9,79.9M519.7,191.9L529.9,192.5M536.6,104.5L542.9,112.4M539.8,76.0L542.3,79.9M536.1,109.0L540.9,116.5M531.0,63.6L522.8,69.7M547.2,130.9L540.9,138.7M518.2,88.3L522.2,96.5M525.7,164.6L533.1,172.2M534.4,135.6L530.6,144.5M535.7,74.2L537.2,82.0M518.3,174.8L524.2,183.3M532.7,196.4L528.4,201.6M536.8,42.5L544.6,44.6M530.7,107.1L526.3,112.9M540.0,163.6L535.9,166.0M543.0,163.5L546.4,166.5" stroke="#1b1919" stroke-width="1.4" fill="none"/>
<path d="M526.2,52.8L523.8,63.5M529.4,85.9L538.7,91.4M539.3,81.5L532.6,83.4M547.7,125.2L551.4,128.9M517.2,172.7L521.9,180.5M545.2,104.8L544.9,113.8M536.5,101.1L541.4,104.6M521.7,143.1L517.6,151.6M533.5,158.2L531.7,168.0M536.9,150.9L535.2,156.1M523.5,174.4L519.2,180.7M549.8,70.5L544.8,76.1M519.6,64.4L524.9,64.8M539.4,121.1L546.8,122.3M547.0,169.2L551.3,175.2M531.4,79.5L529.4,83.1M536.8,192.2L530.6,198.1M541.3,195.2L548.3,203.1M543.2,122.7L550.2,125.9M531.2,203.2L537.6,209.5M539.3,137.8L545.8,145.8M530.5,182.5L523.3,185.1M518.0,87.5L523.2,88.6M531.8,136.1L528.3,138.6M543.3,59.9L540.8,63.1M532.1,194.3L528.0,196.0M528.0,191.1L534.1,194.9M527.0,89.4L527.2,94.4M526.8,200.2L520.8,205.7M524.8,61.3L521.7,69.1M518.2,198.4L520.4,203.8M537.0,189.6L540.4,196.3M525.5,118.2L515.5,121.5M532.9,184.2L526.8,184.3M550.6,88.8L540.4,90.0M551.6,106.5L546.6,113.9M539.5,47.8L534.7,56.1M543.1,190.6L534.7,191.6M527.7,124.9L532.4,127.9M548.8,110.6L549.9,120.8M542.7,47.1L544.8,54.5M528.2,163.9L524.5,173.2M521.0,71.0L525.4,77.3M525.9,125.6L527.9,129.5M548.2,130.9L541.0,133.2M545.6,137.9L545.7,148.4M531.7,198.2L528.7,208.4M519.2,127.6L524.6,135.8M546.5,182.0L548.0,186.2M552.7,75.2L545.7,79.4M539.2,156.8L544.1,161.4M533.8,153.9L528.0,163.1M532.4,99.4L539.0,102.0M534.8,155.8L540.1,156.2M541.2,171.5L536.3,172.3M542.8,112.6L540.3,121.1M533.7,142.5L529.5,142.9M538.7,205.9L533.4,208.1M542.2,189.1L544.4,196.7M524.4,204.1L531.9,209.0M552.8,201.3L546.5,204.5M547.3,180.5L548.9,186.9M529.9,93.1L528.4,99.9M549.8,40.3L547.6,47.0M552.8,202.7L547.1,209.9M527.3,154.3L534.3,161.0M534.2,79.2L539.5,83.4M529.5,150.1L530.0,154.3M534.3,117.4L523.9,117.8M535.7,199.9L540.5,202.4M521.2,82.4L526.2,88.4M544.6,98.1L548.4,104.3M551.5,126.1L545.3,126.5M539.3,142.6L533.0,150.2M518.2,75.7L527.1,78.7M529.5,123.7L539.1,124.7M552.8,45.6L545.4,45.9M525.5,44.4L519.8,52.2M526.7,185.5L536.8,185.6M522.4,71.2L525.5,76.7M545.8,121.3L547.9,130.7M530.5,90.8L534.3,98.0M543.9,194.6L550.5,195.0M544.2,120.7L537.1,128.5M517.3,154.4L523.5,160.3M528.7,64.5L521.1,68.4M537.3,112.2L540.4,115.3M550.0,171.6L546.8,174.7M515.4,118.6L523.3,121.1M525.3,168.8L531.8,172.5M530.4,79.3L533.1,83.9M526.9,111.7L529.8,119.9M543.2,123.8L549.3,128.3M520.7,180.9L526.7,181.2M546.7,136.7L548.7,140.5M520.3,179.3L528.9,181.4M521.7,166.5L526.3,168.2M521.4,198.8L528.7,199.2M542.8,153.8L551.5,154.2M526.4,78.7L530.8,80.7M540.5,165.7L532.4,168.4M528.1,190.2L537.1,195.5M552.3,128.9L546.5,134.8M543.1,151.1L538.2,158.3M532.4,71.6L535.6,77.1M542.4,62.4L538.2,68.4M549.4,110.8L545.8,114.3M525.9,181.3L521.0,184.3M527.8,167.1L536.3,169.4M545.3,198.9L535.8,199.0M520.0,175.7L525.2,178.6M543.1,119.4L545.5,129.3M550.0,89.6L540.5,94.9M540.6,75.7L539.8,83.5M525.4,164.1L530.2,166.0M544.2,96.7L552.7,101.0M543.8,113.5L543.9,117.6M523.9,190.5L515.0,191.9M537.7,105.9L542.9,113.3M541.4,56.2L545.6,57.8M537.2,121.5L544.5,123.3M550.9,165.9L545.2,172.3M524.2,127.4L526.0,137.8M517.5,47.2L522.0,47.6M532.2,144.7L525.4,151.4M522.4,108.4L520.7,114.5M526.3,69.6L528.5,73.8M552.1,161.3L547.8,162.1M525.9,150.0L519.1,150.5M526.0,108.4L531.4,108.5M527.9,66.8L519.3,67.5M545.1,109.7L544.4,116.2M534.7,170.5L532.0,174.8M527.3,146.5L527.1,154.3M519.5,85.3L521.4,95.4M548.6,55.2L549.8,60.4M534.6,138.4L529.1,144.4M536.0,138.7L540.5,141.6M532.8,51.5L535.9,59.3M546.7,200.4L545.5,205.3M532.9,151.6L540.5,157.8M529.9,148.4L520.0,150.0M541.1,86.4L543.8,96.2M533.1,74.8L535.3,78.8M548.5,103.2L548.8,107.6M534.6,66.2L542.1,71.8M532.5,133.0L535.5,136.4M533.6,104.7L525.1,107.7M536.0,129.9L530.5,137.3M541.5,87.3L543.5,93.0" stroke="#4a4646" stroke-width="0.9" fill="none"/>
</g>
<rect x="583.3" y="32.4" width="33" height="198.6" fill="url(#cemG)"/>
<clipPath id="mc41"><polygon points="638.4,61.7 648.5,50.2 648.5,212.5 638.4,198"/></clipPath>
<polygon points="638.4,61.7 648.5,50.2 648.5,212.5 638.4,198" fill="#643f44"/>
<g clip-path="url(#mc41)" filter="url(#soft)">
<ellipse cx="642.4" cy="89.2" rx="0.4" ry="1.2" fill="#e2cfd0" opacity="0.81"/>
<ellipse cx="644.7" cy="139.8" rx="0.5" ry="1.1" fill="#e2cfd0" opacity="0.81"/>
<ellipse cx="645.4" cy="156.9" rx="0.7" ry="0.9" fill="#e2cfd0" opacity="0.62"/>
<ellipse cx="640.6" cy="166.5" rx="0.4" ry="1.0" fill="#e2cfd0" opacity="0.83"/>
<ellipse cx="639.9" cy="176.1" rx="0.3" ry="1.2" fill="#e2cfd0" opacity="0.93"/>
<ellipse cx="641.1" cy="167.0" rx="0.7" ry="0.6" fill="#e2cfd0" opacity="0.85"/>
<ellipse cx="640.4" cy="196.4" rx="0.6" ry="1.3" fill="#e2cfd0" opacity="0.57"/>
<ellipse cx="641.9" cy="150.3" rx="0.6" ry="0.6" fill="#e2cfd0" opacity="0.95"/>
<ellipse cx="645.8" cy="100.3" rx="0.4" ry="1.0" fill="#e2cfd0" opacity="0.73"/>
<ellipse cx="644.5" cy="130.4" rx="0.5" ry="0.5" fill="#e2cfd0" opacity="0.61"/>
<ellipse cx="642.9" cy="167.3" rx="0.5" ry="1.1" fill="#e2cfd0" opacity="0.79"/>
<ellipse cx="646.1" cy="155.9" rx="0.5" ry="0.6" fill="#e2cfd0" opacity="0.58"/>
<ellipse cx="639.8" cy="188.4" rx="0.7" ry="1.1" fill="#e2cfd0" opacity="0.60"/>
<ellipse cx="644.5" cy="73.0" rx="0.7" ry="1.0" fill="#e2cfd0" opacity="0.89"/>
<ellipse cx="644.1" cy="118.7" rx="0.7" ry="1.3" fill="#e2cfd0" opacity="0.66"/>
<ellipse cx="642.8" cy="168.1" rx="0.6" ry="0.8" fill="#e2cfd0" opacity="0.75"/>
<ellipse cx="646.8" cy="96.3" rx="0.4" ry="1.0" fill="#e2cfd0" opacity="0.67"/>
<ellipse cx="646.2" cy="104.1" rx="0.8" ry="0.8" fill="#e2cfd0" opacity="0.95"/>
<ellipse cx="645.1" cy="167.9" rx="0.4" ry="0.6" fill="#e2cfd0" opacity="0.56"/>
<ellipse cx="640.9" cy="157.6" rx="0.3" ry="0.7" fill="#e2cfd0" opacity="0.81"/>
<ellipse cx="640.7" cy="104.7" rx="0.4" ry="1.0" fill="#e2cfd0" opacity="0.60"/>
<ellipse cx="647.0" cy="147.0" rx="0.7" ry="0.9" fill="#e2cfd0" opacity="0.77"/>
<ellipse cx="646.8" cy="193.3" rx="0.7" ry="0.5" fill="#e2cfd0" opacity="0.82"/>
<ellipse cx="646.6" cy="153.2" rx="0.6" ry="1.0" fill="#e2cfd0" opacity="0.63"/>
<ellipse cx="645.0" cy="176.0" rx="0.3" ry="0.9" fill="#e2cfd0" opacity="0.82"/>
<ellipse cx="642.1" cy="160.0" rx="0.8" ry="1.2" fill="#e2cfd0" opacity="0.69"/>
<ellipse cx="640.6" cy="187.1" rx="0.6" ry="1.2" fill="#e2cfd0" opacity="0.94"/>
<ellipse cx="641.6" cy="145.2" rx="0.5" ry="1.1" fill="#e2cfd0" opacity="0.86"/>
<ellipse cx="641.3" cy="131.5" rx="0.6" ry="0.7" fill="#e2cfd0" opacity="0.63"/>
<ellipse cx="643.1" cy="64.3" rx="0.5" ry="1.3" fill="#e2cfd0" opacity="0.92"/>
<ellipse cx="639.9" cy="182.6" rx="0.7" ry="1.1" fill="#e2cfd0" opacity="0.56"/>
<ellipse cx="645.2" cy="83.7" rx="0.7" ry="0.8" fill="#e2cfd0" opacity="0.71"/>
<ellipse cx="640.8" cy="189.2" rx="0.4" ry="1.2" fill="#e2cfd0" opacity="0.78"/>
<ellipse cx="640.6" cy="155.9" rx="0.6" ry="0.5" fill="#e2cfd0" opacity="0.92"/>
<ellipse cx="641.5" cy="56.7" rx="0.7" ry="1.1" fill="#e2cfd0" opacity="0.72"/>
<ellipse cx="640.9" cy="135.7" rx="0.6" ry="1.1" fill="#e2cfd0" opacity="0.77"/>
<ellipse cx="643.8" cy="166.2" rx="0.4" ry="0.6" fill="#e2cfd0" opacity="0.77"/>
<ellipse cx="645.2" cy="179.0" rx="0.7" ry="0.9" fill="#e2cfd0" opacity="0.87"/>
<ellipse cx="640.3" cy="114.0" rx="0.3" ry="1.2" fill="#e2cfd0" opacity="1.00"/>
<ellipse cx="644.5" cy="171.1" rx="0.5" ry="1.1" fill="#e2cfd0" opacity="0.59"/>
<ellipse cx="642.3" cy="108.1" rx="0.7" ry="0.6" fill="#e2cfd0" opacity="0.62"/>
<ellipse cx="640.2" cy="185.3" rx="0.5" ry="1.2" fill="#e2cfd0" opacity="0.69"/>
<ellipse cx="645.8" cy="83.6" rx="0.8" ry="1.3" fill="#e2cfd0" opacity="0.95"/>
<ellipse cx="644.7" cy="193.7" rx="0.8" ry="1.3" fill="#e2cfd0" opacity="0.67"/>
<ellipse cx="645.9" cy="175.4" rx="0.5" ry="0.6" fill="#e2cfd0" opacity="0.95"/>
<ellipse cx="643.0" cy="136.2" rx="0.7" ry="0.9" fill="#e2cfd0" opacity="0.66"/>
<ellipse cx="644.6" cy="136.6" rx="0.4" ry="1.1" fill="#e2cfd0" opacity="0.96"/>
<ellipse cx="641.3" cy="180.6" rx="0.7" ry="0.9" fill="#e2cfd0" opacity="0.64"/>
<ellipse cx="644.5" cy="97.2" rx="0.4" ry="1.2" fill="#e2cfd0" opacity="0.67"/>
<ellipse cx="640.2" cy="185.7" rx="0.8" ry="0.7" fill="#e2cfd0" opacity="0.73"/>
<ellipse cx="643.6" cy="171.2" rx="0.3" ry="1.0" fill="#e2cfd0" opacity="0.66"/>
<ellipse cx="646.5" cy="118.1" rx="0.8" ry="0.9" fill="#e2cfd0" opacity="0.84"/>
<ellipse cx="639.8" cy="84.8" rx="0.4" ry="0.8" fill="#e2cfd0" opacity="0.63"/>
<ellipse cx="642.7" cy="66.8" rx="0.6" ry="1.3" fill="#e2cfd0" opacity="0.94"/>
<ellipse cx="644.2" cy="207.1" rx="0.7" ry="1.0" fill="#e2cfd0" opacity="0.76"/>
<ellipse cx="640.1" cy="193.2" rx="0.7" ry="1.1" fill="#e2cfd0" opacity="0.86"/>
<ellipse cx="645.6" cy="203.5" rx="0.8" ry="1.1" fill="#e2cfd0" opacity="0.56"/>
<ellipse cx="646.6" cy="142.1" rx="0.5" ry="0.8" fill="#e2cfd0" opacity="0.67"/>
<ellipse cx="639.8" cy="150.1" rx="0.6" ry="0.6" fill="#e2cfd0" opacity="0.97"/>
<ellipse cx="646.3" cy="188.8" rx="0.6" ry="0.8" fill="#e2cfd0" opacity="0.76"/>
<ellipse cx="642.3" cy="203.0" rx="0.8" ry="1.2" fill="#e2cfd0" opacity="0.78"/>
<ellipse cx="643.3" cy="160.9" rx="0.4" ry="0.6" fill="#e2cfd0" opacity="0.99"/>
<ellipse cx="641.5" cy="95.4" rx="0.5" ry="0.6" fill="#e2cfd0" opacity="0.79"/>
<ellipse cx="640.7" cy="183.2" rx="0.3" ry="1.1" fill="#e2cfd0" opacity="0.67"/>
<ellipse cx="645.4" cy="178.7" rx="0.8" ry="0.6" fill="#e2cfd0" opacity="0.99"/>
<ellipse cx="640.6" cy="108.1" rx="0.3" ry="0.9" fill="#e2cfd0" opacity="0.59"/>
<ellipse cx="643.7" cy="199.5" rx="0.7" ry="1.0" fill="#e2cfd0" opacity="0.59"/>
<ellipse cx="646.9" cy="110.3" rx="0.8" ry="0.6" fill="#e2cfd0" opacity="0.68"/>
<ellipse cx="646.6" cy="170.3" rx="0.4" ry="0.9" fill="#e2cfd0" opacity="0.79"/>
<ellipse cx="641.4" cy="87.3" rx="0.3" ry="0.9" fill="#e2cfd0" opacity="0.74"/>
<ellipse cx="642.1" cy="128.3" rx="0.5" ry="0.8" fill="#e2cfd0" opacity="0.89"/>
<ellipse cx="640.6" cy="68.0" rx="0.5" ry="0.7" fill="#e2cfd0" opacity="0.76"/>
<ellipse cx="645.9" cy="201.6" rx="0.7" ry="1.2" fill="#e2cfd0" opacity="0.65"/>
<ellipse cx="642.1" cy="70.5" rx="0.4" ry="0.7" fill="#e2cfd0" opacity="0.66"/>
<ellipse cx="642.0" cy="200.7" rx="0.6" ry="1.2" fill="#e2cfd0" opacity="0.79"/>
<ellipse cx="645.1" cy="158.2" rx="0.6" ry="1.2" fill="#e2cfd0" opacity="0.82"/>
<ellipse cx="643.3" cy="89.0" rx="0.3" ry="0.8" fill="#e2cfd0" opacity="0.73"/>
<ellipse cx="640.5" cy="202.5" rx="0.3" ry="0.9" fill="#e2cfd0" opacity="0.66"/>
<ellipse cx="642.6" cy="184.4" rx="0.8" ry="0.8" fill="#e2cfd0" opacity="0.87"/>
<ellipse cx="646.2" cy="98.6" rx="0.5" ry="0.8" fill="#e2cfd0" opacity="0.93"/>
<ellipse cx="641.8" cy="193.8" rx="0.4" ry="1.0" fill="#e2cfd0" opacity="0.83"/>
<ellipse cx="639.8" cy="104.4" rx="0.7" ry="0.8" fill="#e2cfd0" opacity="0.58"/>
<ellipse cx="643.0" cy="137.9" rx="0.5" ry="0.8" fill="#e2cfd0" opacity="0.97"/>
<ellipse cx="644.5" cy="122.7" rx="0.5" ry="1.1" fill="#e2cfd0" opacity="0.66"/>
<ellipse cx="643.1" cy="172.4" rx="0.3" ry="0.6" fill="#e2cfd0" opacity="0.57"/>
<ellipse cx="644.5" cy="178.6" rx="0.6" ry="1.0" fill="#e2cfd0" opacity="0.56"/>
<ellipse cx="642.2" cy="125.6" rx="0.5" ry="0.7" fill="#e2cfd0" opacity="0.72"/>
<ellipse cx="641.2" cy="64.0" rx="0.6" ry="0.5" fill="#e2cfd0" opacity="0.75"/>
<ellipse cx="642.5" cy="180.2" rx="0.7" ry="0.9" fill="#e2cfd0" opacity="0.55"/>
<ellipse cx="644.8" cy="166.6" rx="0.6" ry="1.3" fill="#e2cfd0" opacity="0.77"/>
<ellipse cx="642.5" cy="136.9" rx="0.4" ry="1.0" fill="#e2cfd0" opacity="0.61"/>
<ellipse cx="644.5" cy="149.1" rx="0.6" ry="0.6" fill="#e2cfd0" opacity="0.87"/>
<ellipse cx="646.6" cy="207.8" rx="0.7" ry="0.6" fill="#e2cfd0" opacity="0.90"/>
<ellipse cx="640.8" cy="206.8" rx="0.3" ry="0.5" fill="#e2cfd0" opacity="0.73"/>
<ellipse cx="640.1" cy="202.5" rx="0.8" ry="0.7" fill="#e2cfd0" opacity="0.94"/>
<ellipse cx="642.1" cy="181.4" rx="0.4" ry="1.3" fill="#e2cfd0" opacity="0.75"/>
<ellipse cx="641.3" cy="122.9" rx="0.3" ry="0.5" fill="#e2cfd0" opacity="0.76"/>
<ellipse cx="644.0" cy="209.5" rx="0.6" ry="0.8" fill="#e2cfd0" opacity="0.67"/>
<ellipse cx="639.7" cy="196.9" rx="0.6" ry="0.7" fill="#e2cfd0" opacity="0.89"/>
<ellipse cx="644.7" cy="153.4" rx="0.5" ry="1.2" fill="#e2cfd0" opacity="0.97"/>
<ellipse cx="645.2" cy="82.1" rx="0.5" ry="1.0" fill="#e2cfd0" opacity="0.98"/>
<ellipse cx="643.3" cy="128.7" rx="0.3" ry="0.6" fill="#e2cfd0" opacity="0.67"/>
<ellipse cx="644.6" cy="86.7" rx="0.7" ry="1.0" fill="#e2cfd0" opacity="0.68"/>
<ellipse cx="643.4" cy="184.0" rx="0.3" ry="1.0" fill="#e2cfd0" opacity="0.89"/>
<ellipse cx="646.7" cy="105.2" rx="0.6" ry="1.1" fill="#e2cfd0" opacity="0.69"/>
<ellipse cx="645.3" cy="170.7" rx="0.8" ry="0.8" fill="#e2cfd0" opacity="0.60"/>
<ellipse cx="643.4" cy="159.4" rx="0.8" ry="1.1" fill="#e2cfd0" opacity="0.80"/>
<ellipse cx="645.9" cy="186.5" rx="0.6" ry="0.7" fill="#e2cfd0" opacity="0.55"/>
<ellipse cx="643.9" cy="55.1" rx="0.5" ry="1.3" fill="#e2cfd0" opacity="0.67"/>
<ellipse cx="644.7" cy="168.4" rx="0.5" ry="1.0" fill="#e2cfd0" opacity="0.95"/>
<ellipse cx="644.9" cy="105.6" rx="0.8" ry="1.0" fill="#e2cfd0" opacity="0.66"/>
<ellipse cx="645.6" cy="176.0" rx="0.7" ry="1.2" fill="#e2cfd0" opacity="0.91"/>
<ellipse cx="642.4" cy="171.7" rx="0.7" ry="1.2" fill="#e2cfd0" opacity="0.65"/>
<ellipse cx="646.9" cy="143.4" rx="0.8" ry="0.9" fill="#e2cfd0" opacity="0.90"/>
<ellipse cx="644.0" cy="98.7" rx="0.5" ry="1.2" fill="#e2cfd0" opacity="0.68"/>
<ellipse cx="646.4" cy="167.9" rx="0.7" ry="0.9" fill="#e2cfd0" opacity="0.87"/>
<ellipse cx="644.3" cy="118.2" rx="0.3" ry="0.9" fill="#e2cfd0" opacity="0.86"/>
<ellipse cx="643.7" cy="115.9" rx="0.6" ry="0.6" fill="#e2cfd0" opacity="0.84"/>
<ellipse cx="640.0" cy="73.7" rx="0.3" ry="1.3" fill="#e2cfd0" opacity="0.96"/>
<ellipse cx="644.2" cy="200.2" rx="0.4" ry="1.0" fill="#e2cfd0" opacity="0.76"/>
<ellipse cx="640.3" cy="143.6" rx="0.4" ry="0.7" fill="#e2cfd0" opacity="0.61"/>
<ellipse cx="641.3" cy="193.8" rx="0.5" ry="0.9" fill="#e2cfd0" opacity="0.61"/>
<ellipse cx="640.6" cy="69.5" rx="0.7" ry="1.0" fill="#e2cfd0" opacity="0.88"/>
<ellipse cx="643.9" cy="92.4" rx="0.5" ry="0.8" fill="#e2cfd0" opacity="0.97"/>
<ellipse cx="644.8" cy="183.7" rx="0.6" ry="1.3" fill="#e2cfd0" opacity="0.89"/>
<ellipse cx="639.5" cy="65.6" rx="0.3" ry="1.2" fill="#e2cfd0" opacity="0.64"/>
<ellipse cx="643.0" cy="144.8" rx="0.4" ry="0.7" fill="#e2cfd0" opacity="0.95"/>
<ellipse cx="640.9" cy="183.6" rx="0.5" ry="1.1" fill="#e2cfd0" opacity="0.73"/>
<ellipse cx="644.6" cy="163.6" rx="0.5" ry="0.7" fill="#e2cfd0" opacity="0.74"/>
<ellipse cx="645.1" cy="54.7" rx="0.4" ry="0.8" fill="#e2cfd0" opacity="0.86"/>
<ellipse cx="643.3" cy="88.3" rx="0.7" ry="1.0" fill="#e2cfd0" opacity="0.95"/>
<ellipse cx="642.3" cy="202.2" rx="0.6" ry="0.8" fill="#e2cfd0" opacity="0.62"/>
<ellipse cx="645.5" cy="80.4" rx="0.7" ry="1.1" fill="#e2cfd0" opacity="0.61"/>
<ellipse cx="645.0" cy="163.1" rx="0.3" ry="1.1" fill="#e2cfd0" opacity="0.98"/>
<ellipse cx="642.0" cy="136.2" rx="0.5" ry="0.7" fill="#e2cfd0" opacity="0.62"/>
<ellipse cx="644.5" cy="204.9" rx="0.4" ry="0.5" fill="#e2cfd0" opacity="0.79"/>
<ellipse cx="641.5" cy="189.3" rx="0.4" ry="0.5" fill="#e2cfd0" opacity="0.69"/>
<ellipse cx="642.6" cy="121.0" rx="0.5" ry="0.7" fill="#e2cfd0" opacity="0.98"/>
<ellipse cx="639.6" cy="88.1" rx="0.7" ry="0.7" fill="#e2cfd0" opacity="0.64"/>
<ellipse cx="642.4" cy="152.3" rx="0.7" ry="1.1" fill="#e2cfd0" opacity="0.63"/>
<ellipse cx="646.5" cy="80.5" rx="0.7" ry="1.2" fill="#e2cfd0" opacity="0.60"/>
<ellipse cx="642.3" cy="86.4" rx="0.5" ry="1.1" fill="#e2cfd0" opacity="0.91"/>
<ellipse cx="645.2" cy="57.7" rx="0.4" ry="1.2" fill="#e2cfd0" opacity="0.88"/>
<ellipse cx="645.2" cy="80.3" rx="0.4" ry="0.9" fill="#e2cfd0" opacity="0.82"/>
<ellipse cx="640.4" cy="190.3" rx="0.6" ry="1.2" fill="#e2cfd0" opacity="0.96"/>
<ellipse cx="642.5" cy="96.3" rx="0.7" ry="0.9" fill="#e2cfd0" opacity="0.82"/>
<ellipse cx="644.9" cy="206.5" rx="0.6" ry="0.9" fill="#e2cfd0" opacity="0.94"/>
<ellipse cx="640.1" cy="121.8" rx="0.4" ry="1.0" fill="#e2cfd0" opacity="0.92"/>
<ellipse cx="642.7" cy="85.6" rx="0.4" ry="1.2" fill="#e2cfd0" opacity="0.81"/>
<ellipse cx="646.5" cy="95.2" rx="0.4" ry="0.6" fill="#e2cfd0" opacity="0.84"/>
<ellipse cx="643.7" cy="187.5" rx="0.6" ry="0.8" fill="#e2cfd0" opacity="0.60"/>
<ellipse cx="645.4" cy="201.9" rx="0.5" ry="0.7" fill="#e2cfd0" opacity="0.79"/>
<ellipse cx="642.3" cy="169.9" rx="0.5" ry="0.9" fill="#e2cfd0" opacity="0.72"/>
<ellipse cx="641.4" cy="197.9" rx="0.8" ry="0.7" fill="#e2cfd0" opacity="0.72"/>
<ellipse cx="644.9" cy="108.5" rx="0.5" ry="1.0" fill="#e2cfd0" opacity="0.67"/>
<ellipse cx="642.4" cy="165.8" rx="0.8" ry="0.6" fill="#e2cfd0" opacity="0.94"/>
<ellipse cx="640.2" cy="156.3" rx="0.3" ry="0.9" fill="#e2cfd0" opacity="0.65"/>
<ellipse cx="645.6" cy="56.2" rx="0.6" ry="1.3" fill="#e2cfd0" opacity="0.79"/>
<ellipse cx="642.8" cy="154.9" rx="0.7" ry="1.0" fill="#e2cfd0" opacity="0.74"/>
<ellipse cx="641.0" cy="175.9" rx="0.6" ry="1.3" fill="#e2cfd0" opacity="0.70"/>
<ellipse cx="641.8" cy="126.2" rx="0.8" ry="1.1" fill="#e2cfd0" opacity="0.68"/>
<ellipse cx="644.7" cy="182.2" rx="0.3" ry="1.1" fill="#e2cfd0" opacity="0.76"/>
<ellipse cx="646.1" cy="170.9" rx="0.5" ry="0.6" fill="#e2cfd0" opacity="0.73"/>
<ellipse cx="642.4" cy="85.0" rx="0.6" ry="1.2" fill="#e2cfd0" opacity="0.75"/>
<ellipse cx="640.4" cy="140.8" rx="0.5" ry="0.5" fill="#e2cfd0" opacity="0.59"/>
<ellipse cx="642.4" cy="58.4" rx="0.4" ry="1.3" fill="#e2cfd0" opacity="0.79"/>
<ellipse cx="640.9" cy="59.5" rx="0.4" ry="0.8" fill="#e2cfd0" opacity="0.97"/>
<ellipse cx="640.9" cy="197.5" rx="0.6" ry="1.1" fill="#e2cfd0" opacity="0.80"/>
<ellipse cx="646.7" cy="203.7" rx="0.6" ry="0.8" fill="#e2cfd0" opacity="0.68"/>
<ellipse cx="640.7" cy="89.0" rx="0.6" ry="0.8" fill="#e2cfd0" opacity="0.79"/>
</g>
<polygon points="638.4,61.7 648.5,50.2 648.5,212.5 638.4,198" fill="none" stroke="#555" stroke-width="1.2"/>
<clipPath id="mc42"><polygon points="648.5,50.2 681.5,50.2 681.5,212.5 648.5,212.5"/></clipPath>
<polygon points="648.5,50.2 681.5,50.2 681.5,212.5 648.5,212.5" fill="#5e5e5e"/>
<g clip-path="url(#mc42)" filter="url(#soft)">
<ellipse cx="649.8" cy="49.4" rx="0.8" ry="2.6" fill="#ffffff"/>
<ellipse cx="653.5" cy="52.7" rx="1.0" ry="1.6" fill="#ffffff"/>
<ellipse cx="656.1" cy="51.2" rx="0.8" ry="2.5" fill="#ffffff"/>
<ellipse cx="660.4" cy="50.2" rx="1.2" ry="1.6" fill="#b4b4b4"/>
<ellipse cx="664.6" cy="51.9" rx="0.8" ry="2.9" fill="#ffffff"/>
<ellipse cx="667.1" cy="49.7" rx="1.2" ry="2.4" fill="#ffffff"/>
<ellipse cx="671.8" cy="52.1" rx="1.3" ry="2.1" fill="#b4b4b4"/>
<ellipse cx="674.8" cy="52.4" rx="1.2" ry="2.4" fill="#b4b4b4"/>
<ellipse cx="678.7" cy="49.5" rx="0.9" ry="1.7" fill="#ffffff"/>
<ellipse cx="650.7" cy="55.9" rx="1.1" ry="2.1" fill="#ffffff"/>
<ellipse cx="654.6" cy="56.3" rx="1.3" ry="2.5" fill="#ffffff"/>
<ellipse cx="658.7" cy="56.2" rx="0.8" ry="2.1" fill="#8a8a8a"/>
<ellipse cx="663.2" cy="57.9" rx="1.1" ry="2.8" fill="#b4b4b4"/>
<ellipse cx="666.3" cy="56.4" rx="0.9" ry="2.0" fill="#ffffff"/>
<ellipse cx="668.7" cy="59.0" rx="0.9" ry="2.5" fill="#8a8a8a"/>
<ellipse cx="672.7" cy="58.9" rx="0.9" ry="1.9" fill="#b4b4b4"/>
<ellipse cx="676.6" cy="56.5" rx="1.2" ry="2.2" fill="#b4b4b4"/>
<ellipse cx="679.5" cy="59.3" rx="0.8" ry="1.7" fill="#b4b4b4"/>
<ellipse cx="648.7" cy="64.1" rx="1.0" ry="1.7" fill="#8a8a8a"/>
<ellipse cx="652.8" cy="65.4" rx="1.3" ry="2.8" fill="#b4b4b4"/>
<ellipse cx="655.6" cy="64.4" rx="1.0" ry="2.0" fill="#b4b4b4"/>
<ellipse cx="660.6" cy="62.2" rx="1.0" ry="2.9" fill="#b4b4b4"/>
<ellipse cx="664.7" cy="62.7" rx="0.8" ry="2.9" fill="#b4b4b4"/>
<ellipse cx="668.3" cy="62.9" rx="1.1" ry="1.8" fill="#b4b4b4"/>
<ellipse cx="671.7" cy="63.7" rx="1.0" ry="1.6" fill="#8a8a8a"/>
<ellipse cx="674.3" cy="61.8" rx="1.2" ry="2.8" fill="#8a8a8a"/>
<ellipse cx="677.9" cy="62.0" rx="1.3" ry="1.7" fill="#8a8a8a"/>
<ellipse cx="651.3" cy="68.2" rx="1.2" ry="1.8" fill="#8a8a8a"/>
<ellipse cx="654.8" cy="70.0" rx="1.2" ry="2.2" fill="#ffffff"/>
<ellipse cx="657.9" cy="69.9" rx="0.8" ry="2.0" fill="#8a8a8a"/>
<ellipse cx="663.2" cy="70.4" rx="1.0" ry="1.8" fill="#b4b4b4"/>
<ellipse cx="665.1" cy="69.2" rx="0.8" ry="1.9" fill="#b4b4b4"/>
<ellipse cx="668.4" cy="70.3" rx="1.2" ry="2.8" fill="#ffffff"/>
<ellipse cx="672.0" cy="68.8" rx="0.8" ry="1.8" fill="#b4b4b4"/>
<ellipse cx="677.4" cy="70.1" rx="1.2" ry="2.7" fill="#b4b4b4"/>
<ellipse cx="679.4" cy="68.3" rx="1.0" ry="2.3" fill="#b4b4b4"/>
<ellipse cx="650.0" cy="76.6" rx="0.8" ry="2.2" fill="#8a8a8a"/>
<ellipse cx="652.8" cy="77.3" rx="0.8" ry="2.2" fill="#ffffff"/>
<ellipse cx="656.5" cy="75.2" rx="1.3" ry="2.2" fill="#ffffff"/>
<ellipse cx="661.1" cy="76.2" rx="1.3" ry="2.8" fill="#ffffff"/>
<ellipse cx="664.9" cy="77.6" rx="0.8" ry="2.3" fill="#8a8a8a"/>
<ellipse cx="666.9" cy="75.6" rx="0.9" ry="3.0" fill="#ffffff"/>
<ellipse cx="670.6" cy="77.1" rx="1.0" ry="2.9" fill="#b4b4b4"/>
<ellipse cx="675.8" cy="76.2" rx="0.8" ry="2.0" fill="#8a8a8a"/>
<ellipse cx="679.3" cy="76.3" rx="1.1" ry="1.7" fill="#b4b4b4"/>
<ellipse cx="651.5" cy="82.2" rx="0.8" ry="2.9" fill="#8a8a8a"/>
<ellipse cx="654.0" cy="81.0" rx="1.1" ry="1.9" fill="#b4b4b4"/>
<ellipse cx="657.7" cy="83.7" rx="1.1" ry="2.5" fill="#ffffff"/>
<ellipse cx="661.9" cy="82.5" rx="1.3" ry="1.9" fill="#b4b4b4"/>
<ellipse cx="666.2" cy="81.2" rx="1.1" ry="2.0" fill="#b4b4b4"/>
<ellipse cx="668.9" cy="83.1" rx="1.0" ry="3.0" fill="#ffffff"/>
<ellipse cx="674.0" cy="80.6" rx="0.9" ry="2.9" fill="#ffffff"/>
<ellipse cx="677.3" cy="83.6" rx="0.8" ry="2.8" fill="#b4b4b4"/>
<ellipse cx="680.5" cy="82.6" rx="1.1" ry="1.6" fill="#8a8a8a"/>
<ellipse cx="650.2" cy="87.7" rx="1.3" ry="1.8" fill="#b4b4b4"/>
<ellipse cx="652.3" cy="86.9" rx="0.9" ry="2.4" fill="#b4b4b4"/>
<ellipse cx="657.2" cy="87.3" rx="0.9" ry="2.3" fill="#b4b4b4"/>
<ellipse cx="661.2" cy="89.7" rx="1.0" ry="2.0" fill="#ffffff"/>
<ellipse cx="662.8" cy="89.4" rx="0.9" ry="2.6" fill="#b4b4b4"/>
<ellipse cx="667.6" cy="88.1" rx="0.7" ry="2.8" fill="#ffffff"/>
<ellipse cx="672.0" cy="88.6" rx="1.0" ry="1.8" fill="#8a8a8a"/>
<ellipse cx="673.9" cy="87.7" rx="1.2" ry="2.8" fill="#8a8a8a"/>
<ellipse cx="679.2" cy="87.3" rx="0.8" ry="2.7" fill="#ffffff"/>
<ellipse cx="652.1" cy="94.3" rx="0.8" ry="2.9" fill="#b4b4b4"/>
<ellipse cx="655.7" cy="96.4" rx="1.2" ry="1.6" fill="#8a8a8a"/>
<ellipse cx="659.0" cy="94.0" rx="1.2" ry="2.8" fill="#8a8a8a"/>
<ellipse cx="662.8" cy="93.7" rx="0.8" ry="2.8" fill="#8a8a8a"/>
<ellipse cx="666.5" cy="93.6" rx="1.0" ry="2.0" fill="#8a8a8a"/>
<ellipse cx="669.9" cy="93.6" rx="0.8" ry="2.1" fill="#ffffff"/>
<ellipse cx="673.7" cy="96.3" rx="1.1" ry="2.2" fill="#ffffff"/>
<ellipse cx="677.5" cy="94.7" rx="0.8" ry="3.0" fill="#8a8a8a"/>
<ellipse cx="679.4" cy="96.3" rx="0.8" ry="2.2" fill="#ffffff"/>
<ellipse cx="650.0" cy="100.1" rx="1.0" ry="2.1" fill="#b4b4b4"/>
<ellipse cx="653.3" cy="99.9" rx="0.7" ry="2.9" fill="#8a8a8a"/>
<ellipse cx="656.8" cy="101.6" rx="1.1" ry="2.1" fill="#8a8a8a"/>
<ellipse cx="659.4" cy="101.4" rx="0.9" ry="2.8" fill="#ffffff"/>
<ellipse cx="664.4" cy="100.1" rx="0.9" ry="2.2" fill="#ffffff"/>
<ellipse cx="667.1" cy="99.4" rx="1.3" ry="2.5" fill="#b4b4b4"/>
<ellipse cx="672.0" cy="101.2" rx="1.0" ry="1.6" fill="#ffffff"/>
<ellipse cx="674.2" cy="100.5" rx="1.1" ry="2.3" fill="#b4b4b4"/>
<ellipse cx="678.2" cy="99.7" rx="1.2" ry="2.7" fill="#b4b4b4"/>
<ellipse cx="650.6" cy="105.5" rx="1.1" ry="2.1" fill="#b4b4b4"/>
<ellipse cx="655.6" cy="107.9" rx="0.8" ry="1.9" fill="#b4b4b4"/>
<ellipse cx="657.5" cy="106.1" rx="1.2" ry="1.7" fill="#b4b4b4"/>
<ellipse cx="661.9" cy="107.5" rx="1.1" ry="2.3" fill="#ffffff"/>
<ellipse cx="665.1" cy="107.6" rx="1.2" ry="2.7" fill="#ffffff"/>
<ellipse cx="668.5" cy="106.7" rx="1.3" ry="2.3" fill="#ffffff"/>
<ellipse cx="671.9" cy="106.1" rx="1.0" ry="2.7" fill="#8a8a8a"/>
<ellipse cx="676.9" cy="108.8" rx="1.3" ry="2.8" fill="#b4b4b4"/>
<ellipse cx="680.3" cy="107.8" rx="1.2" ry="2.4" fill="#b4b4b4"/>
<ellipse cx="650.4" cy="114.1" rx="0.9" ry="1.9" fill="#b4b4b4"/>
<ellipse cx="653.4" cy="114.2" rx="1.1" ry="2.0" fill="#b4b4b4"/>
<ellipse cx="655.8" cy="112.4" rx="0.9" ry="2.4" fill="#ffffff"/>
<ellipse cx="659.5" cy="112.2" rx="1.1" ry="1.7" fill="#b4b4b4"/>
<ellipse cx="663.7" cy="113.4" rx="0.8" ry="2.2" fill="#b4b4b4"/>
<ellipse cx="668.4" cy="113.5" rx="1.2" ry="2.7" fill="#b4b4b4"/>
<ellipse cx="670.8" cy="111.4" rx="1.2" ry="2.8" fill="#b4b4b4"/>
<ellipse cx="675.7" cy="112.9" rx="1.0" ry="2.4" fill="#8a8a8a"/>
<ellipse cx="677.7" cy="112.2" rx="0.7" ry="2.1" fill="#b4b4b4"/>
<ellipse cx="651.7" cy="119.0" rx="1.0" ry="1.8" fill="#ffffff"/>
<ellipse cx="655.2" cy="117.6" rx="1.0" ry="1.6" fill="#b4b4b4"/>
<ellipse cx="658.8" cy="118.0" rx="0.7" ry="2.1" fill="#b4b4b4"/>
<ellipse cx="661.5" cy="118.8" rx="0.9" ry="2.7" fill="#8a8a8a"/>
<ellipse cx="666.4" cy="118.5" rx="0.7" ry="2.4" fill="#ffffff"/>
<ellipse cx="670.4" cy="118.8" rx="1.2" ry="2.5" fill="#b4b4b4"/>
<ellipse cx="673.4" cy="121.1" rx="0.7" ry="1.8" fill="#ffffff"/>
<ellipse cx="675.7" cy="120.0" rx="0.8" ry="2.6" fill="#b4b4b4"/>
<ellipse cx="680.7" cy="118.2" rx="1.1" ry="1.8" fill="#b4b4b4"/>
<ellipse cx="650.2" cy="127.3" rx="0.7" ry="2.0" fill="#ffffff"/>
<ellipse cx="653.5" cy="127.3" rx="1.1" ry="1.7" fill="#b4b4b4"/>
<ellipse cx="657.1" cy="126.1" rx="1.2" ry="2.8" fill="#ffffff"/>
<ellipse cx="660.5" cy="124.2" rx="1.2" ry="2.1" fill="#8a8a8a"/>
<ellipse cx="663.7" cy="125.1" rx="0.9" ry="2.8" fill="#b4b4b4"/>
<ellipse cx="668.2" cy="124.1" rx="1.1" ry="2.8" fill="#8a8a8a"/>
<ellipse cx="671.5" cy="125.4" rx="1.3" ry="2.0" fill="#8a8a8a"/>
<ellipse cx="675.4" cy="125.7" rx="1.0" ry="2.6" fill="#b4b4b4"/>
<ellipse cx="677.8" cy="126.9" rx="0.8" ry="2.8" fill="#8a8a8a"/>
<ellipse cx="650.7" cy="131.7" rx="0.9" ry="1.6" fill="#b4b4b4"/>
<ellipse cx="655.7" cy="130.6" rx="1.2" ry="2.1" fill="#ffffff"/>
<ellipse cx="659.3" cy="132.5" rx="0.7" ry="2.9" fill="#ffffff"/>
<ellipse cx="661.2" cy="132.6" rx="1.2" ry="2.6" fill="#b4b4b4"/>
<ellipse cx="666.0" cy="131.8" rx="0.8" ry="1.9" fill="#8a8a8a"/>
<ellipse cx="669.7" cy="131.1" rx="1.0" ry="2.3" fill="#b4b4b4"/>
<ellipse cx="672.7" cy="132.7" rx="1.1" ry="2.0" fill="#ffffff"/>
<ellipse cx="676.0" cy="130.4" rx="0.8" ry="2.4" fill="#ffffff"/>
<ellipse cx="680.7" cy="130.6" rx="1.0" ry="2.6" fill="#ffffff"/>
<ellipse cx="650.5" cy="138.1" rx="0.8" ry="1.9" fill="#ffffff"/>
<ellipse cx="652.5" cy="136.8" rx="1.0" ry="2.0" fill="#ffffff"/>
<ellipse cx="657.7" cy="138.2" rx="0.8" ry="2.8" fill="#b4b4b4"/>
<ellipse cx="660.3" cy="139.4" rx="1.0" ry="2.2" fill="#b4b4b4"/>
<ellipse cx="663.2" cy="136.3" rx="1.0" ry="2.8" fill="#8a8a8a"/>
<ellipse cx="667.3" cy="136.4" rx="0.7" ry="1.8" fill="#b4b4b4"/>
<ellipse cx="671.2" cy="137.3" rx="0.8" ry="2.7" fill="#8a8a8a"/>
<ellipse cx="674.9" cy="139.1" rx="1.0" ry="2.2" fill="#ffffff"/>
<ellipse cx="678.2" cy="139.3" rx="0.9" ry="2.5" fill="#8a8a8a"/>
<ellipse cx="651.5" cy="145.1" rx="0.8" ry="1.9" fill="#8a8a8a"/>
<ellipse cx="655.2" cy="142.9" rx="0.7" ry="1.6" fill="#ffffff"/>
<ellipse cx="658.4" cy="144.5" rx="0.8" ry="2.6" fill="#ffffff"/>
<ellipse cx="662.5" cy="144.0" rx="1.3" ry="2.7" fill="#b4b4b4"/>
<ellipse cx="666.0" cy="144.8" rx="1.0" ry="2.4" fill="#8a8a8a"/>
<ellipse cx="669.6" cy="145.7" rx="0.7" ry="1.8" fill="#8a8a8a"/>
<ellipse cx="672.5" cy="145.1" rx="0.9" ry="1.8" fill="#b4b4b4"/>
<ellipse cx="676.9" cy="144.9" rx="1.0" ry="2.3" fill="#8a8a8a"/>
<ellipse cx="679.2" cy="142.5" rx="0.9" ry="2.0" fill="#b4b4b4"/>
<ellipse cx="648.6" cy="152.1" rx="1.0" ry="2.9" fill="#8a8a8a"/>
<ellipse cx="654.2" cy="151.0" rx="0.7" ry="2.7" fill="#ffffff"/>
<ellipse cx="656.6" cy="151.0" rx="0.8" ry="2.4" fill="#8a8a8a"/>
<ellipse cx="660.6" cy="150.4" rx="0.9" ry="2.1" fill="#ffffff"/>
<ellipse cx="664.3" cy="151.7" rx="1.1" ry="2.0" fill="#ffffff"/>
<ellipse cx="668.5" cy="151.6" rx="1.0" ry="2.0" fill="#b4b4b4"/>
<ellipse cx="670.7" cy="152.1" rx="1.0" ry="3.0" fill="#b4b4b4"/>
<ellipse cx="675.0" cy="150.6" rx="0.8" ry="2.1" fill="#b4b4b4"/>
<ellipse cx="678.9" cy="150.9" rx="0.8" ry="2.4" fill="#8a8a8a"/>
<ellipse cx="652.2" cy="156.4" rx="0.8" ry="3.0" fill="#b4b4b4"/>
<ellipse cx="655.1" cy="155.6" rx="1.0" ry="2.4" fill="#ffffff"/>
<ellipse cx="657.6" cy="158.4" rx="1.0" ry="1.8" fill="#8a8a8a"/>
<ellipse cx="662.8" cy="156.6" rx="1.0" ry="2.0" fill="#8a8a8a"/>
<ellipse cx="666.4" cy="158.4" rx="1.0" ry="2.1" fill="#ffffff"/>
<ellipse cx="670.2" cy="156.6" rx="1.2" ry="2.0" fill="#8a8a8a"/>
<ellipse cx="673.5" cy="156.3" rx="1.0" ry="2.7" fill="#8a8a8a"/>
<ellipse cx="676.0" cy="155.9" rx="1.3" ry="2.3" fill="#b4b4b4"/>
<ellipse cx="679.3" cy="156.7" rx="1.0" ry="2.4" fill="#ffffff"/>
<ellipse cx="649.4" cy="162.1" rx="1.1" ry="2.4" fill="#ffffff"/>
<ellipse cx="652.5" cy="163.8" rx="1.1" ry="2.6" fill="#ffffff"/>
<ellipse cx="657.4" cy="162.4" rx="1.2" ry="3.0" fill="#b4b4b4"/>
<ellipse cx="660.3" cy="161.1" rx="1.1" ry="2.8" fill="#b4b4b4"/>
<ellipse cx="664.7" cy="162.6" rx="1.0" ry="2.6" fill="#b4b4b4"/>
<ellipse cx="667.3" cy="163.4" rx="1.0" ry="3.0" fill="#ffffff"/>
<ellipse cx="670.8" cy="163.5" rx="1.2" ry="2.8" fill="#b4b4b4"/>
<ellipse cx="675.5" cy="162.4" rx="1.1" ry="2.7" fill="#ffffff"/>
<ellipse cx="679.1" cy="161.1" rx="1.1" ry="2.9" fill="#ffffff"/>
<ellipse cx="652.4" cy="169.9" rx="0.8" ry="2.5" fill="#b4b4b4"/>
<ellipse cx="655.7" cy="168.8" rx="1.2" ry="1.7" fill="#b4b4b4"/>
<ellipse cx="659.1" cy="168.2" rx="0.8" ry="2.3" fill="#b4b4b4"/>
<ellipse cx="662.2" cy="170.1" rx="0.7" ry="2.8" fill="#ffffff"/>
<ellipse cx="666.0" cy="168.0" rx="0.8" ry="2.2" fill="#8a8a8a"/>
<ellipse cx="668.8" cy="168.1" rx="1.2" ry="2.9" fill="#ffffff"/>
<ellipse cx="673.3" cy="167.7" rx="0.9" ry="2.4" fill="#b4b4b4"/>
<ellipse cx="676.8" cy="168.7" rx="1.2" ry="1.9" fill="#ffffff"/>
<ellipse cx="679.9" cy="168.9" rx="1.0" ry="2.4" fill="#ffffff"/>
<ellipse cx="650.6" cy="174.4" rx="1.1" ry="2.0" fill="#8a8a8a"/>
<ellipse cx="653.2" cy="175.9" rx="0.7" ry="2.4" fill="#8a8a8a"/>
<ellipse cx="656.7" cy="176.7" rx="1.2" ry="2.4" fill="#ffffff"/>
<ellipse cx="660.0" cy="175.7" rx="1.1" ry="2.6" fill="#b4b4b4"/>
<ellipse cx="664.2" cy="176.5" rx="1.2" ry="2.5" fill="#b4b4b4"/>
<ellipse cx="667.1" cy="175.0" rx="1.1" ry="1.7" fill="#b4b4b4"/>
<ellipse cx="670.7" cy="176.1" rx="0.8" ry="2.4" fill="#ffffff"/>
<ellipse cx="675.7" cy="175.3" rx="1.2" ry="2.0" fill="#8a8a8a"/>
<ellipse cx="679.0" cy="175.1" rx="1.1" ry="2.1" fill="#8a8a8a"/>
<ellipse cx="650.5" cy="183.1" rx="1.3" ry="2.8" fill="#ffffff"/>
<ellipse cx="655.4" cy="183.2" rx="1.2" ry="2.1" fill="#8a8a8a"/>
<ellipse cx="659.1" cy="179.6" rx="1.0" ry="2.5" fill="#b4b4b4"/>
<ellipse cx="662.5" cy="181.7" rx="1.3" ry="1.8" fill="#8a8a8a"/>
<ellipse cx="665.1" cy="179.6" rx="1.0" ry="2.9" fill="#8a8a8a"/>
<ellipse cx="668.7" cy="179.8" rx="1.2" ry="2.0" fill="#8a8a8a"/>
<ellipse cx="672.7" cy="180.1" rx="0.9" ry="2.3" fill="#8a8a8a"/>
<ellipse cx="675.6" cy="182.8" rx="1.0" ry="2.5" fill="#ffffff"/>
<ellipse cx="680.6" cy="183.1" rx="1.1" ry="1.8" fill="#b4b4b4"/>
<ellipse cx="649.3" cy="186.1" rx="0.9" ry="2.9" fill="#b4b4b4"/>
<ellipse cx="652.1" cy="187.1" rx="1.3" ry="2.8" fill="#b4b4b4"/>
<ellipse cx="655.8" cy="188.3" rx="1.3" ry="2.1" fill="#b4b4b4"/>
<ellipse cx="660.1" cy="186.4" rx="1.2" ry="2.2" fill="#ffffff"/>
<ellipse cx="664.3" cy="188.1" rx="0.7" ry="2.7" fill="#b4b4b4"/>
<ellipse cx="666.9" cy="186.2" rx="0.7" ry="2.7" fill="#b4b4b4"/>
<ellipse cx="670.5" cy="186.5" rx="0.9" ry="1.8" fill="#8a8a8a"/>
<ellipse cx="675.6" cy="185.8" rx="0.8" ry="1.8" fill="#8a8a8a"/>
<ellipse cx="677.8" cy="186.4" rx="0.7" ry="1.6" fill="#b4b4b4"/>
<ellipse cx="651.9" cy="192.8" rx="0.8" ry="1.7" fill="#ffffff"/>
<ellipse cx="655.4" cy="193.9" rx="1.0" ry="2.7" fill="#8a8a8a"/>
<ellipse cx="658.5" cy="192.3" rx="1.3" ry="1.7" fill="#b4b4b4"/>
<ellipse cx="662.7" cy="195.2" rx="1.0" ry="2.9" fill="#b4b4b4"/>
<ellipse cx="664.8" cy="193.7" rx="1.1" ry="2.3" fill="#b4b4b4"/>
<ellipse cx="670.2" cy="192.2" rx="1.1" ry="1.7" fill="#ffffff"/>
<ellipse cx="672.4" cy="194.3" rx="0.9" ry="3.0" fill="#b4b4b4"/>
<ellipse cx="676.6" cy="193.6" rx="0.8" ry="2.6" fill="#b4b4b4"/>
<ellipse cx="680.9" cy="194.4" rx="1.1" ry="1.9" fill="#8a8a8a"/>
<ellipse cx="649.4" cy="199.0" rx="1.0" ry="2.2" fill="#ffffff"/>
<ellipse cx="652.2" cy="199.7" rx="0.9" ry="1.8" fill="#b4b4b4"/>
<ellipse cx="657.6" cy="198.4" rx="0.8" ry="1.7" fill="#8a8a8a"/>
<ellipse cx="660.8" cy="201.2" rx="1.1" ry="2.4" fill="#b4b4b4"/>
<ellipse cx="663.5" cy="198.6" rx="1.1" ry="2.7" fill="#b4b4b4"/>
<ellipse cx="668.3" cy="200.8" rx="1.1" ry="2.1" fill="#8a8a8a"/>
<ellipse cx="671.3" cy="198.9" rx="0.8" ry="1.8" fill="#b4b4b4"/>
<ellipse cx="675.4" cy="199.5" rx="1.0" ry="2.7" fill="#8a8a8a"/>
<ellipse cx="679.0" cy="201.8" rx="1.1" ry="2.5" fill="#8a8a8a"/>
<ellipse cx="650.3" cy="207.8" rx="0.9" ry="1.9" fill="#8a8a8a"/>
<ellipse cx="655.3" cy="205.5" rx="0.7" ry="2.8" fill="#ffffff"/>
<ellipse cx="658.6" cy="205.8" rx="1.1" ry="1.6" fill="#ffffff"/>
<ellipse cx="662.6" cy="205.1" rx="0.9" ry="2.1" fill="#b4b4b4"/>
<ellipse cx="666.2" cy="207.2" rx="0.8" ry="1.7" fill="#b4b4b4"/>
<ellipse cx="668.6" cy="206.6" rx="0.9" ry="2.5" fill="#b4b4b4"/>
<ellipse cx="672.9" cy="206.0" rx="1.2" ry="1.8" fill="#ffffff"/>
<ellipse cx="676.3" cy="205.4" rx="1.0" ry="2.5" fill="#b4b4b4"/>
<ellipse cx="679.1" cy="205.8" rx="0.7" ry="2.0" fill="#b4b4b4"/>
<ellipse cx="648.9" cy="211.1" rx="0.9" ry="1.6" fill="#ffffff"/>
<ellipse cx="653.6" cy="211.2" rx="1.1" ry="2.3" fill="#b4b4b4"/>
<ellipse cx="657.4" cy="213.5" rx="1.2" ry="1.7" fill="#ffffff"/>
<ellipse cx="659.3" cy="214.0" rx="1.0" ry="2.4" fill="#8a8a8a"/>
<ellipse cx="664.4" cy="212.1" rx="0.7" ry="2.1" fill="#ffffff"/>
<ellipse cx="668.2" cy="212.8" rx="1.3" ry="1.7" fill="#8a8a8a"/>
<ellipse cx="671.8" cy="211.4" rx="1.0" ry="2.2" fill="#b4b4b4"/>
<ellipse cx="674.3" cy="211.8" rx="0.8" ry="2.3" fill="#ffffff"/>
<ellipse cx="677.5" cy="212.4" rx="0.9" ry="2.6" fill="#8a8a8a"/>
</g>
<polygon points="648.5,50.2 681.5,50.2 681.5,212.5 648.5,212.5" fill="none" stroke="#555" stroke-width="1.2"/>
<g transform="translate(546,36) rotate(12) scale(1.35,1.35)" filter="url(#soft)">
<circle cx="-5.5" cy="-1.2" r="3.3" fill="url(#gC)"/>
<circle cx="0" cy="0.6" r="3.5" fill="url(#gC)"/>
<circle cx="5.3" cy="-1.6" r="3.3" fill="url(#gC)"/>
<circle cx="-8.6" cy="-3.2" r="1.7" fill="url(#gH)"/>
<circle cx="-7.0" cy="2.0" r="1.7" fill="url(#gH)"/>
<circle cx="8.4" cy="-3.4" r="1.7" fill="url(#gH)"/>
<circle cx="7.4" cy="1.6" r="1.7" fill="url(#gH)"/>
<circle cx="-4.2" cy="-4.6" r="1.6" fill="url(#gH)"/>
<circle cx="4.4" cy="-5.0" r="1.6" fill="url(#gH)"/>
<circle cx="0.6" cy="6.6" r="3.2" fill="url(#gO)"/>
<circle cx="1.6" cy="10.4" r="1.6" fill="url(#gH)"/>
</g>
<g transform="translate(577.5,66.5) rotate(5) scale(1.3,1.3)" filter="url(#soft)">
<circle cx="-5.5" cy="-1.2" r="3.3" fill="url(#gC)"/>
<circle cx="0" cy="0.6" r="3.5" fill="url(#gC)"/>
<circle cx="5.3" cy="-1.6" r="3.3" fill="url(#gC)"/>
<circle cx="-8.6" cy="-3.2" r="1.7" fill="url(#gH)"/>
<circle cx="-7.0" cy="2.0" r="1.7" fill="url(#gH)"/>
<circle cx="8.4" cy="-3.4" r="1.7" fill="url(#gH)"/>
<circle cx="7.4" cy="1.6" r="1.7" fill="url(#gH)"/>
<circle cx="-4.2" cy="-4.6" r="1.6" fill="url(#gH)"/>
<circle cx="4.4" cy="-5.0" r="1.6" fill="url(#gH)"/>
<circle cx="0.6" cy="6.6" r="3.2" fill="url(#gO)"/>
<circle cx="1.6" cy="10.4" r="1.6" fill="url(#gH)"/>
</g>
<g transform="translate(623,95) rotate(12) scale(1.3,1.3)" filter="url(#soft)">
<circle cx="-5.5" cy="-1.2" r="3.3" fill="url(#gC)"/>
<circle cx="0" cy="0.6" r="3.5" fill="url(#gC)"/>
<circle cx="5.3" cy="-1.6" r="3.3" fill="url(#gC)"/>
<circle cx="-8.6" cy="-3.2" r="1.7" fill="url(#gH)"/>
<circle cx="-7.0" cy="2.0" r="1.7" fill="url(#gH)"/>
<circle cx="8.4" cy="-3.4" r="1.7" fill="url(#gH)"/>
<circle cx="7.4" cy="1.6" r="1.7" fill="url(#gH)"/>
<circle cx="-4.2" cy="-4.6" r="1.6" fill="url(#gH)"/>
<circle cx="4.4" cy="-5.0" r="1.6" fill="url(#gH)"/>
<circle cx="0.6" cy="6.6" r="3.2" fill="url(#gO)"/>
<circle cx="1.6" cy="10.4" r="1.6" fill="url(#gH)"/>
</g>
<g transform="translate(620.5,154.5) rotate(-25) scale(1.3,1.3)" filter="url(#soft)">
<circle cx="-5.5" cy="-1.2" r="3.3" fill="url(#gC)"/>
<circle cx="0" cy="0.6" r="3.5" fill="url(#gC)"/>
<circle cx="5.3" cy="-1.6" r="3.3" fill="url(#gC)"/>
<circle cx="-8.6" cy="-3.2" r="1.7" fill="url(#gH)"/>
<circle cx="-7.0" cy="2.0" r="1.7" fill="url(#gH)"/>
<circle cx="8.4" cy="-3.4" r="1.7" fill="url(#gH)"/>
<circle cx="7.4" cy="1.6" r="1.7" fill="url(#gH)"/>
<circle cx="-4.2" cy="-4.6" r="1.6" fill="url(#gH)"/>
<circle cx="4.4" cy="-5.0" r="1.6" fill="url(#gH)"/>
<circle cx="0.6" cy="6.6" r="3.2" fill="url(#gO)"/>
</g>
<g transform="translate(580,191) rotate(-60) scale(-1.25,1.25)" filter="url(#soft)">
<circle cx="-5.5" cy="-1.2" r="3.3" fill="url(#gC)"/>
<circle cx="0" cy="0.6" r="3.5" fill="url(#gC)"/>
<circle cx="5.3" cy="-1.6" r="3.3" fill="url(#gC)"/>
<circle cx="-8.6" cy="-3.2" r="1.7" fill="url(#gH)"/>
<circle cx="-7.0" cy="2.0" r="1.7" fill="url(#gH)"/>
<circle cx="8.4" cy="-3.4" r="1.7" fill="url(#gH)"/>
<circle cx="7.4" cy="1.6" r="1.7" fill="url(#gH)"/>
<circle cx="-4.2" cy="-4.6" r="1.6" fill="url(#gH)"/>
<circle cx="4.4" cy="-5.0" r="1.6" fill="url(#gH)"/>
<circle cx="0.6" cy="6.6" r="3.2" fill="url(#gO)"/>
</g>
<g transform="translate(535,211.5) rotate(-45) scale(1.35,1.35)" filter="url(#soft)">
<circle cx="-5.5" cy="-1.2" r="3.3" fill="url(#gC)"/>
<circle cx="0" cy="0.6" r="3.5" fill="url(#gC)"/>
<circle cx="5.3" cy="-1.6" r="3.3" fill="url(#gC)"/>
<circle cx="-8.6" cy="-3.2" r="1.7" fill="url(#gH)"/>
<circle cx="-7.0" cy="2.0" r="1.7" fill="url(#gH)"/>
<circle cx="8.4" cy="-3.4" r="1.7" fill="url(#gH)"/>
<circle cx="7.4" cy="1.6" r="1.7" fill="url(#gH)"/>
<circle cx="-4.2" cy="-4.6" r="1.6" fill="url(#gH)"/>
<circle cx="4.4" cy="-5.0" r="1.6" fill="url(#gH)"/>
<circle cx="0.6" cy="6.6" r="3.2" fill="url(#gO)"/>
</g>
<rect x="583.3" y="32.4" width="33" height="198.6" fill="#ef8d90" opacity="0.72"/>
<line x1="579" y1="130.6" x2="623.2" y2="130.6" stroke="#e8620a" stroke-width="2.8" />
<path d="M629.5,130.6 L619.0,125.6 L621.94,130.6 L619.0,135.6 Z" fill="#e8620a"/>
</g>
<g id="pc">
<text transform="translate(743.5,21.5) scale(1.12,1)" font-size="22.5" font-weight="bold" class="pl" fill="#000" stroke="#000" stroke-width="0.6">c</text>
<text x="776.5" y="21" font-size="17.5" text-anchor="start" fill="#111" font-weight="normal" textLength="8.2" lengthAdjust="spacingAndGlyphs" >–</text>
<text x="862.5" y="21" font-size="17.5" text-anchor="start" fill="#111" font-weight="normal" textLength="36.5" lengthAdjust="spacingAndGlyphs" >CEM</text>
<text x="981" y="21" font-size="17.5" text-anchor="start" fill="#111" font-weight="normal" textLength="35.5" lengthAdjust="spacingAndGlyphs" >AEM</text>
<text x="1093" y="21" font-size="17.5" text-anchor="start" fill="#111" font-weight="normal" >+</text>
<rect x="771" y="27" width="334" height="205" fill="#fdfdfe"/>
<g filter="url(#soft)">
<rect x="778" y="43" width="42" height="168" fill="#2d2929" filter="url(#rough)"/>
<path d="M782.9,125.0L791.5,129.8M789.9,135.2L783.3,136.8M821.2,162.7L819.9,171.0M806.4,102.9L799.5,103.0M818.4,187.4L824.1,187.9M794.5,178.9L801.5,183.3M797.4,175.1L788.3,177.2M783.9,166.9L785.8,176.6M802.5,196.7L792.7,197.2M814.7,179.4L813.3,184.4M817.8,120.7L824.9,121.0M797.5,75.3L792.7,75.8M814.8,133.8L820.3,137.3M799.9,58.3L793.6,64.1M825.5,180.3L816.9,187.2M819.3,148.0L818.4,155.6M817.7,197.7L809.2,202.7M773.4,112.3L781.2,114.4M805.2,136.2L800.2,138.6M805.3,138.5L813.8,145.2M778.9,116.9L778.0,125.0M824.0,134.8L818.3,136.9M799.6,63.1L796.7,69.4M811.5,55.0L812.7,65.7M778.9,150.7L774.1,158.4M804.6,126.7L798.7,127.5M810.8,153.2L806.0,158.7M773.7,170.7L779.8,178.0M819.9,169.8L822.9,179.3M794.7,91.9L792.8,100.2M806.3,131.6L808.9,140.5M788.5,145.3L793.4,145.3M815.3,76.0L816.5,80.2M808.3,97.0L814.1,97.9M813.5,170.9L824.1,171.0M779.8,119.6L778.8,129.0M779.5,179.4L785.5,186.4M814.3,142.5L823.0,142.5M797.9,165.2L794.2,168.1M806.2,150.7L798.1,152.6M799.9,170.8L808.7,175.6M799.3,148.6L806.1,152.2M799.7,75.5L790.0,77.3M799.5,53.8L794.7,54.0M803.2,136.3L795.5,140.1M808.6,128.9L798.9,129.5M796.0,177.1L788.7,178.3M782.6,52.3L777.2,52.8M811.0,72.6L814.9,75.9M813.1,52.0L813.9,61.6M795.3,42.3L805.1,42.8M790.2,50.6L789.4,60.0M786.9,62.0L793.0,66.1M815.1,52.3L808.7,58.3M797.9,106.5L805.4,107.2M792.4,157.3L797.5,158.3M773.1,124.0L780.7,125.4M791.8,95.0L800.4,100.8M799.2,54.0L797.0,63.1M802.3,192.2L794.6,196.4M777.3,107.6L777.1,112.8M802.3,152.6L795.7,159.2M811.7,89.1L809.1,96.1M807.0,59.6L814.7,64.3M812.8,77.3L805.8,83.6M803.0,119.9L808.5,120.9M809.4,200.2L813.1,202.3M788.0,199.4L796.2,206.1M816.4,185.4L807.7,185.6M783.7,111.5L786.5,119.7M789.5,166.5L795.0,167.1M789.8,66.8L782.6,74.0M777.5,122.9L783.2,123.1M787.0,157.7L778.3,162.5M785.4,108.6L791.9,114.3M786.2,168.9L786.9,176.7M813.1,196.6L819.1,203.3M790.9,41.7L786.2,44.1M791.9,163.0L785.9,166.0M805.0,108.9L812.9,109.4M782.7,73.0L785.2,81.2M786.8,75.8L785.5,81.5M798.9,152.7L804.7,161.1M818.2,47.3L822.8,48.2M802.2,88.7L795.0,96.8M792.9,84.8L800.8,91.4M817.1,192.2L809.9,192.2M806.4,97.0L814.4,100.7M793.7,131.0L792.5,136.6M780.4,165.8L773.6,172.2M792.3,95.5L789.8,101.6M810.7,125.4L809.9,135.3M781.8,72.2L781.0,82.1M815.7,190.0L820.8,193.6M785.2,78.7L789.5,81.4M817.7,130.6L809.4,131.3M811.3,198.7L810.5,204.2M791.3,115.2L798.2,119.0M809.2,97.0L813.9,97.3M792.2,69.8L793.3,80.5M787.5,99.3L785.9,104.1M812.7,209.8L819.4,210.1M814.0,39.5L812.3,49.0M823.8,73.0L815.9,74.9M806.3,79.6L813.6,80.7M826.6,84.3L815.8,84.9M799.7,118.8L795.6,119.6M805.2,67.9L800.1,73.3M808.8,106.0L799.8,109.8M773.1,135.0L781.3,141.6M820.6,172.7L815.4,181.6M791.5,90.3L783.3,92.7M790.4,184.7L788.4,188.3M820.7,166.4L817.6,169.8M778.3,53.1L775.2,56.0M788.4,94.4L790.1,100.1M777.2,129.4L783.8,130.9M784.7,54.7L793.5,57.3M781.4,122.5L777.5,132.1M806.3,174.7L801.9,176.6M776.0,177.8L780.8,183.3M789.5,64.7L791.9,71.6M810.0,78.1L817.8,80.7M812.6,108.7L818.8,116.8M810.6,45.0L818.2,47.8M793.7,123.1L795.1,127.7M812.2,190.9L810.1,196.7M804.3,89.0L812.0,91.8M801.8,192.2L803.1,197.0M798.6,46.4L805.7,54.6M795.5,102.7L790.9,103.3M813.7,166.1L808.9,167.4M794.1,105.4L799.3,105.6M785.1,49.5L779.8,56.8M798.2,179.6L789.6,184.5M783.5,101.6L787.3,103.6M823.4,134.6L819.5,141.4M786.6,40.9L790.8,46.4M780.8,84.3L776.6,85.8M806.0,109.8L801.0,116.3M797.4,210.6L792.0,215.0M818.6,174.5L811.6,174.9M787.0,123.5L783.7,129.8M778.4,126.6L782.7,127.3M812.4,82.7L802.6,85.6M807.9,58.7L813.6,63.7M799.4,120.3L804.6,120.4M818.8,106.4L818.4,116.8M788.0,108.7L785.3,113.8M799.1,169.7L791.7,175.1M808.6,42.2L816.6,44.1M808.8,46.2L811.0,53.8M792.7,40.7L791.5,48.6M800.8,69.6L803.2,73.1M800.6,72.5L800.6,82.8M800.2,83.1L795.0,90.8M790.1,132.1L786.4,135.7M807.6,88.4L809.8,96.0M817.6,77.7L824.7,86.1M781.9,78.8L777.9,85.0M814.8,71.0L809.9,74.5M780.8,135.3L785.5,140.0M818.5,181.7L814.2,188.4M780.3,97.4L773.2,103.6M778.6,113.9L774.0,120.6M796.3,90.2L796.5,94.4M813.4,47.0L822.3,53.0M799.7,61.2L804.9,66.1M778.7,41.8L783.1,42.5M784.8,142.7L791.0,146.8M791.9,118.8L792.1,124.8M806.7,197.1L802.9,207.0M797.9,129.9L800.5,136.5M797.4,207.4L797.8,216.0M807.8,56.5L814.7,57.1M782.3,114.3L788.4,119.3M799.6,74.7L792.1,82.5M786.6,127.1L791.2,136.4M791.0,42.6L782.3,45.4M795.8,45.4L799.6,51.6M800.8,74.1L803.3,78.4M783.5,68.7L785.7,76.3M815.9,65.7L810.6,67.8M782.6,147.1L772.5,150.4M802.2,205.4L795.2,207.5M808.2,166.8L804.5,169.3M790.9,43.7L798.0,44.7M784.2,46.7L779.5,46.9M812.5,117.5L814.1,125.1M810.4,63.8L800.2,66.0M812.4,114.4L811.0,118.4M795.8,148.9L791.9,158.1M782.7,204.0L787.5,204.7M817.7,43.5L808.9,43.7M784.9,114.5L791.9,116.7M786.5,170.3L778.8,171.6M798.3,179.7L792.4,181.2M809.5,203.2L807.2,207.4M815.0,63.6L817.4,69.0M790.2,176.0L796.3,179.5M794.7,180.6L796.1,187.3M788.4,136.6L783.9,140.4M807.5,79.2L811.3,81.6M784.1,103.0L788.6,108.6M803.4,160.0L808.8,160.1M802.0,198.2L809.4,201.3M787.6,205.6L778.4,206.0M804.4,177.0L798.9,179.9M815.6,129.1L819.7,131.3M799.9,39.6L795.4,43.8" stroke="#1b1919" stroke-width="1.4" fill="none"/>
<path d="M814.0,176.2L816.0,186.8M796.8,80.1L791.5,89.3M810.8,100.9L817.1,105.2M817.3,97.4L824.3,105.7M814.5,118.6L813.0,123.1M801.2,129.7L805.6,133.3M784.2,53.4L783.6,59.8M797.2,180.7L806.2,183.5M784.9,181.3L794.8,185.2M800.1,154.7L800.9,162.0M779.8,66.1L772.7,68.7M792.0,188.9L783.1,192.7M795.1,95.6L791.1,100.8M804.9,62.9L810.4,66.3M817.5,85.4L817.2,89.9M802.7,62.5L804.0,70.1M811.8,166.4L812.0,177.2M798.8,110.1L790.2,114.2M787.6,101.5L777.5,105.4M796.8,45.7L791.2,48.6M794.5,172.5L801.9,179.4M787.6,107.5L794.3,112.2M785.3,208.4L782.6,211.7M779.7,71.6L774.1,77.6M808.7,134.1L810.1,141.7M813.4,96.9L805.5,103.9M809.7,94.2L809.0,101.4M794.4,48.1L802.5,50.5M795.3,108.9L790.5,112.6M790.7,53.5L800.8,56.9M818.9,133.5L813.3,138.6M795.7,210.1L803.9,212.6M795.2,161.1L799.6,164.9M779.7,181.9L785.1,183.0M796.3,187.9L791.0,195.6M791.5,114.4L786.2,117.1M791.8,87.6L792.8,91.5M778.8,48.9L780.7,57.4M812.0,190.1L817.9,194.5M802.6,162.3L798.1,167.6M815.2,145.3L810.8,155.0M815.7,61.2L813.0,64.2M799.1,97.8L795.0,105.6M785.4,73.9L795.5,74.5M812.0,94.5L815.3,98.0M812.0,115.3L817.4,117.9M803.1,58.3L802.9,63.0M783.3,130.4L779.1,137.9M815.4,69.5L818.8,73.1M805.9,63.8L813.6,68.5M807.4,77.5L810.3,87.1M796.9,146.1L800.3,155.8M802.5,180.0L801.1,184.7M778.2,150.1L774.1,153.9M815.4,149.4L810.7,155.2M804.9,60.1L798.9,65.7M805.1,69.5L797.9,70.5M808.5,48.4L813.0,51.8M807.7,89.5L799.2,89.5M809.9,41.8L811.9,50.5M789.9,137.2L793.2,145.6M802.4,179.6L808.6,183.3M798.8,181.3L790.7,186.9M811.5,98.1L806.6,105.4M804.7,133.9L800.3,143.6M779.7,91.6L776.9,96.0M819.9,162.9L817.8,170.0M817.6,80.9L814.9,90.3M777.1,173.1L777.3,178.8M788.8,121.1L782.3,124.5M812.8,129.7L811.8,136.2M775.1,181.7L777.3,186.3M786.8,116.8L789.1,121.0M773.8,136.2L779.2,143.7M785.2,139.4L790.0,142.2M803.9,70.7L805.6,77.1M796.4,181.1L788.4,183.6M801.7,64.4L807.3,67.5M820.4,112.6L816.6,117.8M816.7,185.5L813.0,187.5M804.0,47.8L803.3,56.5M815.0,62.0L817.9,67.1M779.0,46.1L785.6,52.4M785.2,158.9L788.5,169.3M783.3,110.3L786.9,115.3M784.7,187.1L781.9,194.7M799.7,69.9L806.3,70.5M785.2,86.3L779.7,93.0M781.4,64.0L778.3,67.3M803.6,186.6L806.1,192.6M818.2,164.4L818.1,172.7M802.7,125.5L794.8,131.1M817.7,128.3L823.7,131.6M786.5,76.5L792.3,83.7M804.7,71.7L813.8,77.3M777.1,45.4L785.8,49.2M776.0,190.4L780.2,199.4M771.4,41.3L782.2,41.8M818.7,159.8L821.1,170.2M806.0,189.8L800.8,194.2M810.7,168.6L814.8,169.9M803.0,52.9L808.0,59.4M806.8,83.9L806.2,87.9M817.7,66.8L811.0,74.1M779.2,205.1L780.2,209.7M779.6,120.7L776.5,125.3M817.0,45.5L812.0,48.4M792.9,210.2L797.9,211.5M785.8,165.5L782.4,172.9M790.9,178.9L794.3,187.8M816.6,100.1L826.2,105.3M821.0,204.5L817.5,209.6M815.9,150.5L812.3,153.6M782.8,157.7L785.6,161.1M813.9,158.0L803.9,159.0M800.6,162.0L804.8,165.0M789.2,76.3L783.4,78.4M807.6,158.1L804.4,160.7M819.0,90.0L812.6,90.6M772.6,190.7L781.4,195.3M783.1,81.1L786.6,84.7M821.9,208.3L816.2,208.8M807.9,110.1L801.3,118.2M783.1,167.1L785.1,175.6M812.4,201.2L805.4,208.3M801.4,182.0L802.4,186.6M784.6,135.5L778.8,143.7M806.8,140.4L799.9,146.5M781.5,72.0L789.0,73.6M814.0,104.6L811.5,108.8M785.7,49.0L795.0,49.5M811.0,150.5L804.8,151.9M796.9,146.1L793.1,150.2M800.9,91.7L808.4,96.3M809.2,85.9L802.5,86.2M796.4,102.3L789.1,107.2M805.4,68.5L802.0,71.2M797.5,182.6L795.5,186.4M787.3,53.1L778.6,54.0M812.0,103.9L804.1,106.1M800.4,206.8L803.2,216.4M806.8,172.4L813.6,178.6M788.9,151.8L782.4,157.5M809.6,112.3L817.7,116.4M794.7,171.5L791.8,177.1M805.7,43.9L805.0,53.0M783.9,161.6L774.7,162.1M808.5,154.5L803.2,161.2M804.9,77.5L810.5,81.9M793.8,155.6L801.6,157.3M812.4,202.6L810.1,208.0M814.8,106.0L819.9,108.2M777.3,45.0L781.2,47.7M803.8,199.0L810.4,200.6M795.4,160.3L788.3,166.7M823.5,116.4L817.7,123.6M780.1,109.2L775.5,112.0M789.1,198.4L779.4,203.5M797.4,126.1L803.1,131.1M811.2,124.8L807.4,132.2M781.9,145.2L782.5,153.0M810.9,145.3L819.2,150.5M784.3,124.9L785.4,131.9M809.2,66.2L803.8,69.9M816.2,147.4L821.3,155.1M780.1,130.8L783.2,134.9M790.9,194.8L789.0,198.6M784.1,88.1L785.1,92.7M815.0,187.3L820.1,189.9M785.0,161.1L795.4,162.7M810.0,192.1L807.7,195.6M787.7,118.2L785.5,123.4M822.4,162.3L813.9,166.6M785.0,102.6L780.3,106.4M808.2,157.8L813.0,161.2M819.7,130.9L822.1,136.6M796.3,45.1L793.7,49.0M793.6,90.6L787.8,91.9M814.3,91.1L806.2,98.1M805.1,49.2L810.4,53.6M796.4,141.5L800.8,148.9M781.5,115.1L780.1,122.4M821.3,68.9L818.9,77.7M777.2,66.2L781.2,69.6M810.5,137.3L818.1,140.0M803.3,176.4L797.4,176.8M818.5,75.5L809.9,77.6M809.2,140.0L814.0,148.3M812.9,204.9L821.9,206.6M784.3,70.3L778.5,70.6M800.4,190.8L801.8,200.6M813.1,81.7L805.0,84.7M815.9,78.4L806.9,80.8M815.0,154.3L819.2,158.8M777.7,99.1L786.0,103.8M800.8,187.5L800.0,194.7M782.7,85.8L777.5,87.8M800.2,159.1L806.3,160.0M795.9,194.6L790.4,201.0M807.8,104.7L811.0,110.1M810.7,199.7L820.3,202.5M801.9,63.8L801.9,68.8M781.8,107.8L792.6,109.6M777.4,124.7L777.3,130.4M800.2,205.4L791.4,207.3M814.2,98.3L817.7,100.6M774.0,134.9L781.3,137.0M821.1,204.2L816.5,211.7M808.9,196.4L818.4,198.1M785.0,55.2L791.3,61.6" stroke="#4a4646" stroke-width="0.9" fill="none"/>
</g>
<rect x="895.7" y="27.3" width="33.8" height="203.9" fill="url(#cemG)"/>
<rect x="946.7" y="27.3" width="33.6" height="203.9" fill="url(#aemG)"/>
<circle cx="867.8" cy="73.8" r="1.6" fill="#f3c2c4" filter="url(#soft)"/>
<circle cx="880.7" cy="73.8" r="1.6" fill="#f3c2c4" filter="url(#soft)"/>
<circle cx="892.2" cy="73.8" r="1.6" fill="#f3c2c4" filter="url(#soft)"/>
<ellipse cx="907" cy="71.8" rx="2.6" ry="1.8" fill="#e97a7e" opacity="0.35" filter="url(#blur1)"/>
<ellipse cx="921" cy="71.8" rx="2.6" ry="1.8" fill="#e97a7e" opacity="0.35" filter="url(#blur1)"/>
<ellipse cx="954.5" cy="67.8" rx="4.0" ry="3.5" fill="#6a55c8" opacity="0.8" filter="url(#blur2)"/>
<ellipse cx="974" cy="67.8" rx="5.6" ry="3.5" fill="#6a55c8" opacity="0.8" filter="url(#blur2)"/>
<g filter="url(#soft)"><circle cx="932.8" cy="72.6" r="1.7" fill="#c3bcd6"/><circle cx="940.8" cy="72.2" r="1.7" fill="#c3bcd6"/><circle cx="936.7" cy="69" r="3.8" fill="url(#gW)"/></g>
<g filter="url(#soft)"><circle cx="980.9" cy="72.4" r="1.615" fill="#c3bcd6"/><circle cx="988.5" cy="72.0" r="1.615" fill="#c3bcd6"/><circle cx="984.6" cy="69" r="3.61" fill="url(#gW)"/></g>
<g filter="url(#soft)"><circle cx="994.4" cy="72.4" r="1.615" fill="#c3bcd6"/><circle cx="1002.0" cy="72.0" r="1.615" fill="#c3bcd6"/><circle cx="998.1" cy="69" r="3.61" fill="url(#gW)"/></g>
<g filter="url(#soft)"><circle cx="1008.8" cy="72.4" r="1.615" fill="#c3bcd6"/><circle cx="1016.4" cy="72.0" r="1.615" fill="#c3bcd6"/><circle cx="1012.5" cy="69" r="3.61" fill="url(#gW)"/></g>
<circle cx="867.8" cy="104.5" r="1.6" fill="#f3c2c4" filter="url(#soft)"/>
<circle cx="880.7" cy="104.5" r="1.6" fill="#f3c2c4" filter="url(#soft)"/>
<circle cx="892.2" cy="104.5" r="1.6" fill="#f3c2c4" filter="url(#soft)"/>
<ellipse cx="907" cy="102.5" rx="2.6" ry="1.8" fill="#e97a7e" opacity="0.35" filter="url(#blur1)"/>
<ellipse cx="921" cy="102.5" rx="2.6" ry="1.8" fill="#e97a7e" opacity="0.35" filter="url(#blur1)"/>
<ellipse cx="954.5" cy="103.6" rx="4.0" ry="3.5" fill="#6a55c8" opacity="0.8" filter="url(#blur2)"/>
<ellipse cx="974" cy="103.6" rx="5.6" ry="3.5" fill="#6a55c8" opacity="0.8" filter="url(#blur2)"/>
<g filter="url(#soft)"><circle cx="932.8" cy="108.4" r="1.7" fill="#c3bcd6"/><circle cx="940.8" cy="108.0" r="1.7" fill="#c3bcd6"/><circle cx="936.7" cy="104.8" r="3.8" fill="url(#gW)"/></g>
<g filter="url(#soft)"><circle cx="980.9" cy="108.2" r="1.615" fill="#c3bcd6"/><circle cx="988.5" cy="107.8" r="1.615" fill="#c3bcd6"/><circle cx="984.6" cy="104.8" r="3.61" fill="url(#gW)"/></g>
<g filter="url(#soft)"><circle cx="994.4" cy="108.2" r="1.615" fill="#c3bcd6"/><circle cx="1002.0" cy="107.8" r="1.615" fill="#c3bcd6"/><circle cx="998.1" cy="104.8" r="3.61" fill="url(#gW)"/></g>
<g filter="url(#soft)"><circle cx="1008.8" cy="108.2" r="1.615" fill="#c3bcd6"/><circle cx="1016.4" cy="107.8" r="1.615" fill="#c3bcd6"/><circle cx="1012.5" cy="104.8" r="3.61" fill="url(#gW)"/></g>
<circle cx="867.8" cy="144.5" r="1.6" fill="#f3c2c4" filter="url(#soft)"/>
<circle cx="880.7" cy="144.5" r="1.6" fill="#f3c2c4" filter="url(#soft)"/>
<circle cx="892.2" cy="144.5" r="1.6" fill="#f3c2c4" filter="url(#soft)"/>
<ellipse cx="907" cy="142.5" rx="2.6" ry="1.8" fill="#e97a7e" opacity="0.35" filter="url(#blur1)"/>
<ellipse cx="921" cy="142.5" rx="2.6" ry="1.8" fill="#e97a7e" opacity="0.35" filter="url(#blur1)"/>
<ellipse cx="954.5" cy="141.5" rx="4.0" ry="3.5" fill="#6a55c8" opacity="0.8" filter="url(#blur2)"/>
<ellipse cx="974" cy="141.5" rx="5.6" ry="3.5" fill="#6a55c8" opacity="0.8" filter="url(#blur2)"/>
<g filter="url(#soft)"><circle cx="932.8" cy="146.3" r="1.7" fill="#c3bcd6"/><circle cx="940.8" cy="145.9" r="1.7" fill="#c3bcd6"/><circle cx="936.7" cy="142.7" r="3.8" fill="url(#gW)"/></g>
<g filter="url(#soft)"><circle cx="980.9" cy="146.1" r="1.615" fill="#c3bcd6"/><circle cx="988.5" cy="145.7" r="1.615" fill="#c3bcd6"/><circle cx="984.6" cy="142.7" r="3.61" fill="url(#gW)"/></g>
<g filter="url(#soft)"><circle cx="994.4" cy="146.1" r="1.615" fill="#c3bcd6"/><circle cx="1002.0" cy="145.7" r="1.615" fill="#c3bcd6"/><circle cx="998.1" cy="142.7" r="3.61" fill="url(#gW)"/></g>
<g filter="url(#soft)"><circle cx="1008.8" cy="146.1" r="1.615" fill="#c3bcd6"/><circle cx="1016.4" cy="145.7" r="1.615" fill="#c3bcd6"/><circle cx="1012.5" cy="142.7" r="3.61" fill="url(#gW)"/></g>
<circle cx="867.8" cy="185.2" r="1.6" fill="#f3c2c4" filter="url(#soft)"/>
<circle cx="880.7" cy="185.2" r="1.6" fill="#f3c2c4" filter="url(#soft)"/>
<circle cx="892.2" cy="185.2" r="1.6" fill="#f3c2c4" filter="url(#soft)"/>
<ellipse cx="907" cy="183.2" rx="2.6" ry="1.8" fill="#e97a7e" opacity="0.35" filter="url(#blur1)"/>
<ellipse cx="921" cy="183.2" rx="2.6" ry="1.8" fill="#e97a7e" opacity="0.35" filter="url(#blur1)"/>
<ellipse cx="954.5" cy="181.5" rx="4.0" ry="3.5" fill="#6a55c8" opacity="0.8" filter="url(#blur2)"/>
<ellipse cx="974" cy="181.5" rx="5.6" ry="3.5" fill="#6a55c8" opacity="0.8" filter="url(#blur2)"/>
<g filter="url(#soft)"><circle cx="932.8" cy="186.3" r="1.7" fill="#c3bcd6"/><circle cx="940.8" cy="185.9" r="1.7" fill="#c3bcd6"/><circle cx="936.7" cy="182.7" r="3.8" fill="url(#gW)"/></g>
<g filter="url(#soft)"><circle cx="980.9" cy="186.1" r="1.615" fill="#c3bcd6"/><circle cx="988.5" cy="185.7" r="1.615" fill="#c3bcd6"/><circle cx="984.6" cy="182.7" r="3.61" fill="url(#gW)"/></g>
<g filter="url(#soft)"><circle cx="994.4" cy="186.1" r="1.615" fill="#c3bcd6"/><circle cx="1002.0" cy="185.7" r="1.615" fill="#c3bcd6"/><circle cx="998.1" cy="182.7" r="3.61" fill="url(#gW)"/></g>
<g filter="url(#soft)"><circle cx="1008.8" cy="186.1" r="1.615" fill="#c3bcd6"/><circle cx="1016.4" cy="185.7" r="1.615" fill="#c3bcd6"/><circle cx="1012.5" cy="182.7" r="3.61" fill="url(#gW)"/></g>
<line x1="893.2" y1="85.6" x2="900.8" y2="85.6" stroke="#111" stroke-width="1.3" />
<line x1="897" y1="81.8" x2="897" y2="89.39999999999999" stroke="#111" stroke-width="1.3" />
<line x1="893.2" y1="124" x2="900.8" y2="124" stroke="#111" stroke-width="1.3" />
<line x1="897" y1="120.2" x2="897" y2="127.8" stroke="#111" stroke-width="1.3" />
<line x1="893.2" y1="160.8" x2="900.8" y2="160.8" stroke="#111" stroke-width="1.3" />
<line x1="897" y1="157.0" x2="897" y2="164.60000000000002" stroke="#111" stroke-width="1.3" />
<line x1="975.6" y1="86.7" x2="983.4" y2="86.7" stroke="#111" stroke-width="1.3" />
<line x1="975.6" y1="125.2" x2="983.4" y2="125.2" stroke="#111" stroke-width="1.3" />
<line x1="975.6" y1="162.3" x2="983.4" y2="162.3" stroke="#111" stroke-width="1.3" />
<clipPath id="mc61"><polygon points="1041.2,64.6 1069.3,46 1069.3,212.5 1041.2,195.3"/></clipPath>
<polygon points="1041.2,64.6 1069.3,46 1069.3,212.5 1041.2,195.3" fill="#56566a"/>
<g clip-path="url(#mc61)" filter="url(#soft)">
<ellipse cx="1055.0" cy="138.5" rx="1.7" ry="0.5" fill="#e4e4ee" opacity="0.69"/>
<ellipse cx="1060.0" cy="127.0" rx="1.1" ry="0.5" fill="#e4e4ee" opacity="0.70"/>
<ellipse cx="1046.7" cy="150.7" rx="1.8" ry="0.7" fill="#e4e4ee" opacity="0.84"/>
<ellipse cx="1051.0" cy="118.4" rx="0.8" ry="0.7" fill="#e4e4ee" opacity="0.68"/>
<ellipse cx="1049.9" cy="207.4" rx="1.0" ry="0.9" fill="#e4e4ee" opacity="0.83"/>
<ellipse cx="1061.8" cy="150.0" rx="0.8" ry="0.7" fill="#e4e4ee" opacity="0.67"/>
<ellipse cx="1052.8" cy="69.2" rx="0.7" ry="0.5" fill="#e4e4ee" opacity="0.56"/>
<ellipse cx="1052.2" cy="186.1" rx="1.9" ry="0.6" fill="#e4e4ee" opacity="0.60"/>
<ellipse cx="1051.3" cy="58.4" rx="0.9" ry="0.7" fill="#e4e4ee" opacity="0.83"/>
<ellipse cx="1043.3" cy="127.2" rx="1.1" ry="0.5" fill="#e4e4ee" opacity="0.61"/>
<ellipse cx="1052.5" cy="64.6" rx="1.5" ry="0.7" fill="#e4e4ee" opacity="0.83"/>
<ellipse cx="1052.8" cy="203.5" rx="1.1" ry="0.4" fill="#e4e4ee" opacity="0.72"/>
<ellipse cx="1065.6" cy="73.6" rx="1.6" ry="0.9" fill="#e4e4ee" opacity="0.93"/>
<ellipse cx="1054.3" cy="121.1" rx="1.7" ry="0.7" fill="#e4e4ee" opacity="0.91"/>
<ellipse cx="1047.0" cy="146.8" rx="1.6" ry="0.4" fill="#e4e4ee" opacity="0.64"/>
<ellipse cx="1063.8" cy="140.3" rx="1.1" ry="0.6" fill="#e4e4ee" opacity="0.67"/>
<ellipse cx="1048.8" cy="65.3" rx="1.1" ry="0.4" fill="#e4e4ee" opacity="0.95"/>
<ellipse cx="1066.7" cy="144.1" rx="0.7" ry="0.7" fill="#e4e4ee" opacity="0.62"/>
<ellipse cx="1051.9" cy="68.8" rx="1.2" ry="0.3" fill="#e4e4ee" opacity="0.68"/>
<ellipse cx="1048.4" cy="123.7" rx="1.8" ry="0.6" fill="#e4e4ee" opacity="0.90"/>
<ellipse cx="1060.9" cy="134.3" rx="0.7" ry="0.3" fill="#e4e4ee" opacity="0.61"/>
<ellipse cx="1055.6" cy="103.2" rx="1.8" ry="0.4" fill="#e4e4ee" opacity="0.61"/>
<ellipse cx="1058.7" cy="146.6" rx="0.7" ry="0.5" fill="#e4e4ee" opacity="0.75"/>
<ellipse cx="1063.3" cy="174.6" rx="1.7" ry="0.6" fill="#e4e4ee" opacity="0.97"/>
<ellipse cx="1054.4" cy="95.0" rx="0.8" ry="0.8" fill="#e4e4ee" opacity="0.84"/>
<ellipse cx="1058.1" cy="207.0" rx="1.4" ry="0.5" fill="#e4e4ee" opacity="0.86"/>
<ellipse cx="1065.9" cy="77.0" rx="1.8" ry="0.5" fill="#e4e4ee" opacity="0.60"/>
<ellipse cx="1055.4" cy="174.9" rx="1.2" ry="0.5" fill="#e4e4ee" opacity="0.90"/>
<ellipse cx="1045.1" cy="157.1" rx="1.1" ry="0.7" fill="#e4e4ee" opacity="0.78"/>
<ellipse cx="1049.6" cy="81.4" rx="1.7" ry="0.6" fill="#e4e4ee" opacity="0.68"/>
<ellipse cx="1057.5" cy="172.8" rx="0.7" ry="0.6" fill="#e4e4ee" opacity="0.62"/>
<ellipse cx="1061.9" cy="55.4" rx="1.7" ry="0.6" fill="#e4e4ee" opacity="0.78"/>
<ellipse cx="1056.1" cy="93.3" rx="1.2" ry="0.4" fill="#e4e4ee" opacity="0.71"/>
<ellipse cx="1057.6" cy="147.3" rx="1.0" ry="0.7" fill="#e4e4ee" opacity="0.90"/>
<ellipse cx="1062.1" cy="48.5" rx="1.3" ry="0.4" fill="#e4e4ee" opacity="0.92"/>
<ellipse cx="1057.2" cy="119.7" rx="1.4" ry="0.6" fill="#e4e4ee" opacity="0.64"/>
<ellipse cx="1065.6" cy="57.2" rx="0.6" ry="0.5" fill="#e4e4ee" opacity="0.61"/>
<ellipse cx="1052.0" cy="148.1" rx="1.1" ry="0.9" fill="#e4e4ee" opacity="0.70"/>
<ellipse cx="1066.3" cy="207.3" rx="1.3" ry="0.8" fill="#e4e4ee" opacity="0.58"/>
<ellipse cx="1066.1" cy="119.8" rx="1.0" ry="0.9" fill="#e4e4ee" opacity="0.73"/>
<ellipse cx="1044.7" cy="52.4" rx="1.6" ry="0.4" fill="#e4e4ee" opacity="0.84"/>
<ellipse cx="1044.7" cy="180.4" rx="1.9" ry="0.5" fill="#e4e4ee" opacity="0.91"/>
<ellipse cx="1065.2" cy="86.0" rx="1.2" ry="0.9" fill="#e4e4ee" opacity="0.98"/>
<ellipse cx="1056.8" cy="137.2" rx="0.6" ry="0.8" fill="#e4e4ee" opacity="0.98"/>
<ellipse cx="1056.8" cy="85.7" rx="0.8" ry="0.7" fill="#e4e4ee" opacity="0.86"/>
<ellipse cx="1057.6" cy="184.5" rx="0.6" ry="0.3" fill="#e4e4ee" opacity="0.60"/>
<ellipse cx="1050.4" cy="56.0" rx="0.9" ry="0.4" fill="#e4e4ee" opacity="0.92"/>
<ellipse cx="1055.8" cy="80.5" rx="1.3" ry="0.4" fill="#e4e4ee" opacity="0.99"/>
<ellipse cx="1044.8" cy="86.8" rx="1.3" ry="0.8" fill="#e4e4ee" opacity="0.85"/>
<ellipse cx="1046.0" cy="146.9" rx="1.6" ry="0.9" fill="#e4e4ee" opacity="0.84"/>
<ellipse cx="1048.8" cy="182.6" rx="1.5" ry="0.8" fill="#e4e4ee" opacity="0.64"/>
<ellipse cx="1063.7" cy="126.0" rx="0.9" ry="0.5" fill="#e4e4ee" opacity="0.59"/>
<ellipse cx="1065.2" cy="71.2" rx="1.4" ry="0.5" fill="#e4e4ee" opacity="0.66"/>
<ellipse cx="1051.4" cy="185.5" rx="0.7" ry="0.5" fill="#e4e4ee" opacity="0.70"/>
<ellipse cx="1054.8" cy="149.3" rx="1.7" ry="0.7" fill="#e4e4ee" opacity="0.93"/>
<ellipse cx="1064.8" cy="180.2" rx="0.6" ry="0.3" fill="#e4e4ee" opacity="0.79"/>
<ellipse cx="1047.5" cy="106.9" rx="1.3" ry="0.6" fill="#e4e4ee" opacity="0.89"/>
<ellipse cx="1062.0" cy="83.4" rx="1.3" ry="0.6" fill="#e4e4ee" opacity="0.75"/>
<ellipse cx="1060.9" cy="164.1" rx="1.5" ry="0.5" fill="#e4e4ee" opacity="0.59"/>
<ellipse cx="1057.3" cy="89.3" rx="1.0" ry="0.4" fill="#e4e4ee" opacity="0.58"/>
<ellipse cx="1053.7" cy="204.2" rx="1.4" ry="0.5" fill="#e4e4ee" opacity="0.98"/>
<ellipse cx="1047.5" cy="157.7" rx="0.7" ry="0.9" fill="#e4e4ee" opacity="0.96"/>
<ellipse cx="1063.7" cy="109.8" rx="1.2" ry="0.6" fill="#e4e4ee" opacity="0.97"/>
<ellipse cx="1057.2" cy="88.3" rx="1.8" ry="0.6" fill="#e4e4ee" opacity="0.88"/>
<ellipse cx="1066.3" cy="173.6" rx="0.8" ry="0.8" fill="#e4e4ee" opacity="0.75"/>
<ellipse cx="1067.7" cy="109.2" rx="0.8" ry="0.4" fill="#e4e4ee" opacity="1.00"/>
<ellipse cx="1053.4" cy="50.2" rx="1.3" ry="0.9" fill="#e4e4ee" opacity="0.64"/>
<ellipse cx="1066.0" cy="210.0" rx="0.9" ry="0.4" fill="#e4e4ee" opacity="0.62"/>
<ellipse cx="1045.0" cy="48.1" rx="0.9" ry="0.8" fill="#e4e4ee" opacity="0.75"/>
<ellipse cx="1052.9" cy="149.3" rx="0.8" ry="0.8" fill="#e4e4ee" opacity="0.66"/>
<ellipse cx="1055.6" cy="83.5" rx="0.9" ry="0.4" fill="#e4e4ee" opacity="0.73"/>
<ellipse cx="1053.5" cy="64.0" rx="1.7" ry="0.5" fill="#e4e4ee" opacity="0.85"/>
<ellipse cx="1047.3" cy="54.9" rx="1.9" ry="0.4" fill="#e4e4ee" opacity="0.56"/>
<ellipse cx="1066.0" cy="117.2" rx="0.6" ry="0.7" fill="#e4e4ee" opacity="0.70"/>
<ellipse cx="1067.0" cy="180.9" rx="1.5" ry="0.7" fill="#e4e4ee" opacity="0.69"/>
<ellipse cx="1065.7" cy="199.6" rx="0.9" ry="0.3" fill="#e4e4ee" opacity="0.58"/>
<ellipse cx="1055.8" cy="148.5" rx="1.6" ry="0.8" fill="#e4e4ee" opacity="0.72"/>
<ellipse cx="1053.7" cy="112.7" rx="1.8" ry="0.4" fill="#e4e4ee" opacity="0.61"/>
<ellipse cx="1047.5" cy="198.0" rx="0.8" ry="0.9" fill="#e4e4ee" opacity="0.66"/>
<ellipse cx="1051.9" cy="77.4" rx="1.9" ry="0.3" fill="#e4e4ee" opacity="0.62"/>
<ellipse cx="1060.0" cy="126.8" rx="1.1" ry="0.6" fill="#e4e4ee" opacity="0.95"/>
<ellipse cx="1046.3" cy="138.3" rx="0.9" ry="0.6" fill="#e4e4ee" opacity="0.72"/>
<ellipse cx="1052.9" cy="98.8" rx="0.6" ry="0.4" fill="#e4e4ee" opacity="0.88"/>
<ellipse cx="1052.3" cy="68.1" rx="0.7" ry="0.7" fill="#e4e4ee" opacity="0.63"/>
<ellipse cx="1066.3" cy="133.0" rx="0.7" ry="0.5" fill="#e4e4ee" opacity="0.83"/>
<ellipse cx="1067.5" cy="197.0" rx="0.9" ry="0.7" fill="#e4e4ee" opacity="0.81"/>
<ellipse cx="1064.8" cy="76.8" rx="1.3" ry="0.6" fill="#e4e4ee" opacity="0.77"/>
<ellipse cx="1054.4" cy="51.0" rx="0.8" ry="0.9" fill="#e4e4ee" opacity="0.69"/>
<ellipse cx="1066.9" cy="49.8" rx="0.6" ry="0.8" fill="#e4e4ee" opacity="0.68"/>
<ellipse cx="1064.1" cy="48.1" rx="1.4" ry="0.8" fill="#e4e4ee" opacity="0.67"/>
<ellipse cx="1064.2" cy="166.0" rx="1.7" ry="0.5" fill="#e4e4ee" opacity="0.63"/>
<ellipse cx="1052.2" cy="100.2" rx="0.9" ry="0.8" fill="#e4e4ee" opacity="0.63"/>
<ellipse cx="1058.5" cy="123.7" rx="1.2" ry="0.6" fill="#e4e4ee" opacity="0.77"/>
<ellipse cx="1066.5" cy="157.4" rx="1.6" ry="0.4" fill="#e4e4ee" opacity="0.78"/>
<ellipse cx="1060.7" cy="160.6" rx="1.7" ry="0.3" fill="#e4e4ee" opacity="0.59"/>
<ellipse cx="1063.0" cy="111.9" rx="0.9" ry="0.6" fill="#e4e4ee" opacity="0.63"/>
<ellipse cx="1061.1" cy="115.3" rx="1.7" ry="0.6" fill="#e4e4ee" opacity="1.00"/>
<ellipse cx="1043.4" cy="187.7" rx="0.7" ry="0.6" fill="#e4e4ee" opacity="0.66"/>
<ellipse cx="1052.7" cy="193.0" rx="0.9" ry="0.5" fill="#e4e4ee" opacity="0.79"/>
<ellipse cx="1045.1" cy="132.4" rx="1.0" ry="0.9" fill="#e4e4ee" opacity="0.96"/>
<ellipse cx="1055.6" cy="199.5" rx="0.7" ry="0.3" fill="#e4e4ee" opacity="0.73"/>
<ellipse cx="1065.2" cy="194.8" rx="1.9" ry="0.8" fill="#e4e4ee" opacity="0.73"/>
<ellipse cx="1062.0" cy="170.8" rx="1.2" ry="0.8" fill="#e4e4ee" opacity="0.88"/>
<ellipse cx="1047.1" cy="57.2" rx="0.9" ry="0.8" fill="#e4e4ee" opacity="0.74"/>
<ellipse cx="1050.5" cy="168.6" rx="0.8" ry="0.4" fill="#e4e4ee" opacity="0.61"/>
<ellipse cx="1065.4" cy="87.7" rx="1.1" ry="0.6" fill="#e4e4ee" opacity="0.63"/>
<ellipse cx="1065.2" cy="178.2" rx="0.7" ry="0.4" fill="#e4e4ee" opacity="0.93"/>
<ellipse cx="1047.9" cy="110.0" rx="1.7" ry="0.5" fill="#e4e4ee" opacity="0.79"/>
<ellipse cx="1053.2" cy="164.7" rx="1.6" ry="0.8" fill="#e4e4ee" opacity="0.65"/>
<ellipse cx="1058.3" cy="78.0" rx="1.9" ry="0.5" fill="#e4e4ee" opacity="0.80"/>
<ellipse cx="1048.7" cy="139.7" rx="1.0" ry="0.3" fill="#e4e4ee" opacity="0.56"/>
<ellipse cx="1060.5" cy="86.1" rx="0.8" ry="0.7" fill="#e4e4ee" opacity="0.92"/>
<ellipse cx="1049.1" cy="139.4" rx="1.8" ry="0.8" fill="#e4e4ee" opacity="0.76"/>
<ellipse cx="1060.0" cy="145.6" rx="1.6" ry="0.9" fill="#e4e4ee" opacity="0.65"/>
<ellipse cx="1052.4" cy="202.3" rx="1.0" ry="0.5" fill="#e4e4ee" opacity="0.92"/>
<ellipse cx="1050.5" cy="144.1" rx="0.7" ry="0.9" fill="#e4e4ee" opacity="0.82"/>
<ellipse cx="1044.4" cy="71.4" rx="0.7" ry="0.6" fill="#e4e4ee" opacity="0.87"/>
<ellipse cx="1057.2" cy="170.5" rx="1.7" ry="0.6" fill="#e4e4ee" opacity="0.78"/>
<ellipse cx="1058.9" cy="162.4" rx="1.7" ry="0.7" fill="#e4e4ee" opacity="0.73"/>
<ellipse cx="1058.9" cy="178.1" rx="1.4" ry="0.5" fill="#e4e4ee" opacity="0.78"/>
<ellipse cx="1056.0" cy="79.8" rx="1.7" ry="0.3" fill="#e4e4ee" opacity="0.94"/>
<ellipse cx="1048.6" cy="98.7" rx="1.8" ry="0.6" fill="#e4e4ee" opacity="0.82"/>
<ellipse cx="1043.8" cy="125.3" rx="1.3" ry="0.6" fill="#e4e4ee" opacity="0.71"/>
<ellipse cx="1043.8" cy="57.3" rx="0.8" ry="0.8" fill="#e4e4ee" opacity="0.73"/>
<ellipse cx="1065.4" cy="169.6" rx="1.2" ry="0.7" fill="#e4e4ee" opacity="0.88"/>
<ellipse cx="1064.4" cy="61.0" rx="1.2" ry="0.4" fill="#e4e4ee" opacity="0.88"/>
<ellipse cx="1054.5" cy="180.7" rx="0.7" ry="0.8" fill="#e4e4ee" opacity="0.60"/>
<ellipse cx="1044.3" cy="92.2" rx="1.0" ry="0.4" fill="#e4e4ee" opacity="0.93"/>
<ellipse cx="1067.0" cy="152.8" rx="1.2" ry="0.5" fill="#e4e4ee" opacity="0.68"/>
<ellipse cx="1054.2" cy="132.8" rx="1.6" ry="0.5" fill="#e4e4ee" opacity="0.72"/>
<ellipse cx="1063.7" cy="162.9" rx="0.7" ry="0.6" fill="#e4e4ee" opacity="0.70"/>
<ellipse cx="1048.9" cy="135.3" rx="0.9" ry="0.6" fill="#e4e4ee" opacity="0.62"/>
<ellipse cx="1049.4" cy="79.4" rx="1.5" ry="0.4" fill="#e4e4ee" opacity="0.93"/>
<ellipse cx="1048.4" cy="66.1" rx="0.7" ry="0.8" fill="#e4e4ee" opacity="0.80"/>
<ellipse cx="1053.5" cy="63.2" rx="1.5" ry="0.4" fill="#e4e4ee" opacity="0.95"/>
<ellipse cx="1060.1" cy="145.9" rx="1.1" ry="0.8" fill="#e4e4ee" opacity="0.79"/>
<ellipse cx="1050.5" cy="150.3" rx="1.5" ry="0.8" fill="#e4e4ee" opacity="0.85"/>
<ellipse cx="1060.1" cy="78.6" rx="1.7" ry="0.6" fill="#e4e4ee" opacity="0.66"/>
<ellipse cx="1065.1" cy="73.9" rx="1.3" ry="0.9" fill="#e4e4ee" opacity="0.98"/>
<ellipse cx="1054.1" cy="198.0" rx="1.8" ry="0.5" fill="#e4e4ee" opacity="0.61"/>
<ellipse cx="1044.8" cy="196.1" rx="0.6" ry="0.6" fill="#e4e4ee" opacity="0.73"/>
<ellipse cx="1046.4" cy="94.2" rx="0.7" ry="0.5" fill="#e4e4ee" opacity="0.83"/>
<ellipse cx="1048.1" cy="119.7" rx="0.8" ry="0.7" fill="#e4e4ee" opacity="0.79"/>
<ellipse cx="1062.4" cy="99.9" rx="0.8" ry="0.9" fill="#e4e4ee" opacity="0.60"/>
<ellipse cx="1056.6" cy="167.6" rx="1.4" ry="0.3" fill="#e4e4ee" opacity="0.99"/>
<ellipse cx="1064.9" cy="73.3" rx="1.2" ry="0.8" fill="#e4e4ee" opacity="0.60"/>
<ellipse cx="1049.6" cy="195.2" rx="1.2" ry="0.8" fill="#e4e4ee" opacity="0.83"/>
<ellipse cx="1060.0" cy="90.0" rx="1.5" ry="0.3" fill="#e4e4ee" opacity="0.67"/>
<ellipse cx="1066.5" cy="185.6" rx="0.7" ry="0.7" fill="#e4e4ee" opacity="0.99"/>
<ellipse cx="1063.9" cy="192.7" rx="0.8" ry="0.8" fill="#e4e4ee" opacity="0.83"/>
<ellipse cx="1044.5" cy="90.5" rx="1.8" ry="0.4" fill="#e4e4ee" opacity="0.80"/>
<ellipse cx="1048.9" cy="207.7" rx="1.6" ry="0.6" fill="#e4e4ee" opacity="0.71"/>
<ellipse cx="1063.5" cy="200.1" rx="1.7" ry="0.7" fill="#e4e4ee" opacity="0.77"/>
<ellipse cx="1056.7" cy="88.8" rx="0.9" ry="0.6" fill="#e4e4ee" opacity="0.81"/>
<ellipse cx="1043.8" cy="120.9" rx="1.1" ry="0.9" fill="#e4e4ee" opacity="0.69"/>
<ellipse cx="1061.1" cy="188.6" rx="1.8" ry="0.7" fill="#e4e4ee" opacity="0.99"/>
<ellipse cx="1067.5" cy="62.6" rx="1.0" ry="0.8" fill="#e4e4ee" opacity="0.82"/>
<ellipse cx="1052.2" cy="102.1" rx="1.7" ry="0.4" fill="#e4e4ee" opacity="1.00"/>
<ellipse cx="1045.2" cy="135.2" rx="1.4" ry="0.9" fill="#e4e4ee" opacity="0.74"/>
<ellipse cx="1058.0" cy="87.5" rx="1.3" ry="0.4" fill="#e4e4ee" opacity="0.58"/>
<ellipse cx="1059.4" cy="182.4" rx="1.3" ry="0.9" fill="#e4e4ee" opacity="0.63"/>
<ellipse cx="1061.1" cy="128.3" rx="1.4" ry="0.6" fill="#e4e4ee" opacity="0.76"/>
<ellipse cx="1061.3" cy="175.7" rx="1.3" ry="0.4" fill="#e4e4ee" opacity="0.97"/>
<ellipse cx="1044.8" cy="65.0" rx="1.3" ry="0.5" fill="#e4e4ee" opacity="0.84"/>
<ellipse cx="1044.0" cy="139.8" rx="0.6" ry="0.5" fill="#e4e4ee" opacity="0.89"/>
<ellipse cx="1049.1" cy="100.1" rx="1.4" ry="0.4" fill="#e4e4ee" opacity="0.81"/>
<ellipse cx="1046.3" cy="162.5" rx="1.1" ry="0.7" fill="#e4e4ee" opacity="0.95"/>
<ellipse cx="1057.5" cy="148.6" rx="1.5" ry="0.9" fill="#e4e4ee" opacity="0.62"/>
<ellipse cx="1048.3" cy="156.6" rx="1.6" ry="0.3" fill="#e4e4ee" opacity="0.73"/>
<ellipse cx="1049.7" cy="71.8" rx="1.3" ry="0.5" fill="#e4e4ee" opacity="0.69"/>
<ellipse cx="1065.7" cy="110.4" rx="1.3" ry="0.9" fill="#e4e4ee" opacity="0.91"/>
<ellipse cx="1050.9" cy="81.5" rx="0.9" ry="0.8" fill="#e4e4ee" opacity="0.62"/>
<ellipse cx="1062.2" cy="173.4" rx="0.6" ry="0.8" fill="#e4e4ee" opacity="0.86"/>
<ellipse cx="1044.5" cy="69.3" rx="1.4" ry="0.7" fill="#e4e4ee" opacity="0.65"/>
<ellipse cx="1062.8" cy="189.8" rx="1.0" ry="0.6" fill="#e4e4ee" opacity="0.69"/>
<ellipse cx="1047.4" cy="166.3" rx="1.0" ry="0.7" fill="#e4e4ee" opacity="0.79"/>
<ellipse cx="1048.9" cy="63.3" rx="1.5" ry="0.9" fill="#e4e4ee" opacity="0.92"/>
<ellipse cx="1065.5" cy="135.0" rx="1.3" ry="0.7" fill="#e4e4ee" opacity="0.79"/>
<ellipse cx="1065.9" cy="156.2" rx="0.7" ry="0.3" fill="#e4e4ee" opacity="0.58"/>
<ellipse cx="1049.3" cy="112.5" rx="1.4" ry="0.7" fill="#e4e4ee" opacity="0.83"/>
<ellipse cx="1062.6" cy="114.3" rx="0.9" ry="0.4" fill="#e4e4ee" opacity="0.59"/>
<ellipse cx="1047.7" cy="60.4" rx="1.1" ry="0.6" fill="#e4e4ee" opacity="0.89"/>
<ellipse cx="1048.2" cy="171.3" rx="1.7" ry="0.4" fill="#e4e4ee" opacity="0.94"/>
<ellipse cx="1056.9" cy="169.7" rx="1.8" ry="0.5" fill="#e4e4ee" opacity="0.69"/>
<ellipse cx="1049.0" cy="186.6" rx="1.2" ry="0.4" fill="#e4e4ee" opacity="0.62"/>
<ellipse cx="1046.0" cy="108.2" rx="1.9" ry="0.9" fill="#e4e4ee" opacity="0.84"/>
<ellipse cx="1050.5" cy="143.9" rx="1.3" ry="0.4" fill="#e4e4ee" opacity="0.80"/>
<ellipse cx="1051.3" cy="98.3" rx="1.5" ry="0.8" fill="#e4e4ee" opacity="0.70"/>
<ellipse cx="1048.6" cy="131.1" rx="1.7" ry="0.7" fill="#e4e4ee" opacity="0.99"/>
<ellipse cx="1047.7" cy="88.2" rx="0.7" ry="0.5" fill="#e4e4ee" opacity="0.76"/>
<ellipse cx="1056.7" cy="136.8" rx="1.5" ry="0.9" fill="#e4e4ee" opacity="0.60"/>
<ellipse cx="1064.5" cy="121.5" rx="1.6" ry="0.5" fill="#e4e4ee" opacity="0.66"/>
<ellipse cx="1058.5" cy="195.2" rx="0.7" ry="0.3" fill="#e4e4ee" opacity="0.96"/>
<ellipse cx="1054.3" cy="48.1" rx="1.3" ry="0.9" fill="#e4e4ee" opacity="0.77"/>
<ellipse cx="1057.8" cy="67.0" rx="1.5" ry="0.6" fill="#e4e4ee" opacity="0.86"/>
<ellipse cx="1043.2" cy="70.9" rx="1.2" ry="0.6" fill="#e4e4ee" opacity="0.87"/>
<ellipse cx="1047.4" cy="110.3" rx="1.8" ry="0.8" fill="#e4e4ee" opacity="0.67"/>
<ellipse cx="1057.5" cy="65.5" rx="1.3" ry="0.7" fill="#e4e4ee" opacity="0.96"/>
<ellipse cx="1059.7" cy="95.0" rx="1.6" ry="0.3" fill="#e4e4ee" opacity="0.96"/>
<ellipse cx="1065.6" cy="187.5" rx="0.9" ry="0.7" fill="#e4e4ee" opacity="0.65"/>
<ellipse cx="1048.5" cy="199.8" rx="0.6" ry="0.4" fill="#e4e4ee" opacity="0.91"/>
<ellipse cx="1059.6" cy="169.8" rx="1.0" ry="0.5" fill="#e4e4ee" opacity="0.97"/>
<ellipse cx="1059.3" cy="188.9" rx="0.7" ry="0.4" fill="#e4e4ee" opacity="0.73"/>
<ellipse cx="1060.0" cy="186.2" rx="1.6" ry="0.4" fill="#e4e4ee" opacity="0.63"/>
<ellipse cx="1064.0" cy="184.0" rx="1.6" ry="0.8" fill="#e4e4ee" opacity="0.67"/>
<ellipse cx="1046.3" cy="68.2" rx="1.2" ry="0.6" fill="#e4e4ee" opacity="0.68"/>
<ellipse cx="1057.6" cy="171.5" rx="1.7" ry="0.3" fill="#e4e4ee" opacity="0.70"/>
<ellipse cx="1053.9" cy="208.2" rx="1.5" ry="0.6" fill="#e4e4ee" opacity="0.79"/>
<ellipse cx="1049.2" cy="67.2" rx="1.2" ry="0.8" fill="#e4e4ee" opacity="0.58"/>
<ellipse cx="1067.0" cy="49.3" rx="0.7" ry="0.4" fill="#e4e4ee" opacity="0.89"/>
<ellipse cx="1048.3" cy="168.1" rx="1.8" ry="0.4" fill="#e4e4ee" opacity="0.77"/>
<ellipse cx="1044.4" cy="168.4" rx="1.8" ry="0.4" fill="#e4e4ee" opacity="0.62"/>
<ellipse cx="1056.9" cy="77.2" rx="0.7" ry="0.7" fill="#e4e4ee" opacity="0.55"/>
<ellipse cx="1046.2" cy="109.8" rx="0.7" ry="0.5" fill="#e4e4ee" opacity="0.62"/>
<ellipse cx="1064.6" cy="165.8" rx="1.6" ry="0.8" fill="#e4e4ee" opacity="0.75"/>
<ellipse cx="1049.2" cy="51.8" rx="1.4" ry="0.8" fill="#e4e4ee" opacity="0.71"/>
<ellipse cx="1064.0" cy="100.6" rx="1.5" ry="0.8" fill="#e4e4ee" opacity="0.65"/>
<ellipse cx="1066.5" cy="98.5" rx="1.6" ry="0.6" fill="#e4e4ee" opacity="0.80"/>
<ellipse cx="1053.8" cy="78.6" rx="1.7" ry="0.6" fill="#e4e4ee" opacity="0.93"/>
<ellipse cx="1053.1" cy="184.8" rx="1.4" ry="0.8" fill="#e4e4ee" opacity="0.99"/>
<ellipse cx="1048.7" cy="156.4" rx="1.0" ry="0.6" fill="#e4e4ee" opacity="0.67"/>
<ellipse cx="1052.2" cy="53.4" rx="1.1" ry="0.4" fill="#e4e4ee" opacity="0.57"/>
<ellipse cx="1050.0" cy="160.5" rx="1.2" ry="0.8" fill="#e4e4ee" opacity="0.91"/>
<ellipse cx="1058.2" cy="48.6" rx="1.6" ry="0.4" fill="#e4e4ee" opacity="1.00"/>
<ellipse cx="1043.2" cy="159.0" rx="1.7" ry="0.7" fill="#e4e4ee" opacity="0.88"/>
<ellipse cx="1065.8" cy="173.3" rx="1.1" ry="0.5" fill="#e4e4ee" opacity="0.65"/>
<ellipse cx="1058.6" cy="145.3" rx="1.5" ry="0.7" fill="#e4e4ee" opacity="0.98"/>
<ellipse cx="1067.7" cy="81.6" rx="1.4" ry="0.8" fill="#e4e4ee" opacity="0.96"/>
<ellipse cx="1066.9" cy="122.1" rx="0.8" ry="0.9" fill="#e4e4ee" opacity="0.58"/>
<ellipse cx="1042.7" cy="62.5" rx="0.8" ry="0.7" fill="#e4e4ee" opacity="0.97"/>
<ellipse cx="1059.8" cy="104.7" rx="1.5" ry="0.5" fill="#e4e4ee" opacity="0.67"/>
<ellipse cx="1063.0" cy="152.3" rx="1.5" ry="0.6" fill="#e4e4ee" opacity="0.62"/>
<ellipse cx="1067.3" cy="118.3" rx="1.0" ry="0.4" fill="#e4e4ee" opacity="0.87"/>
<ellipse cx="1045.6" cy="104.6" rx="1.8" ry="0.6" fill="#e4e4ee" opacity="0.99"/>
<ellipse cx="1060.6" cy="53.2" rx="1.4" ry="0.4" fill="#e4e4ee" opacity="0.84"/>
<ellipse cx="1065.7" cy="133.7" rx="0.8" ry="0.8" fill="#e4e4ee" opacity="0.69"/>
<ellipse cx="1042.5" cy="113.1" rx="1.7" ry="0.3" fill="#e4e4ee" opacity="0.65"/>
<ellipse cx="1053.0" cy="86.1" rx="1.8" ry="0.8" fill="#e4e4ee" opacity="0.61"/>
<ellipse cx="1067.7" cy="57.1" rx="1.2" ry="0.5" fill="#e4e4ee" opacity="0.76"/>
<ellipse cx="1053.8" cy="51.7" rx="1.6" ry="0.4" fill="#e4e4ee" opacity="0.94"/>
<ellipse cx="1058.9" cy="180.0" rx="1.4" ry="0.5" fill="#e4e4ee" opacity="0.61"/>
<ellipse cx="1058.0" cy="91.0" rx="1.0" ry="0.8" fill="#e4e4ee" opacity="0.86"/>
<ellipse cx="1057.9" cy="166.8" rx="1.5" ry="0.6" fill="#e4e4ee" opacity="0.66"/>
<ellipse cx="1056.6" cy="180.7" rx="1.3" ry="0.7" fill="#e4e4ee" opacity="0.57"/>
<ellipse cx="1047.0" cy="131.6" rx="1.3" ry="0.8" fill="#e4e4ee" opacity="0.77"/>
<ellipse cx="1046.8" cy="144.2" rx="1.3" ry="0.8" fill="#e4e4ee" opacity="0.58"/>
<ellipse cx="1044.0" cy="50.3" rx="1.6" ry="0.6" fill="#e4e4ee" opacity="0.66"/>
<ellipse cx="1053.1" cy="188.2" rx="1.1" ry="0.4" fill="#e4e4ee" opacity="0.90"/>
<ellipse cx="1058.4" cy="180.6" rx="1.8" ry="0.9" fill="#e4e4ee" opacity="0.70"/>
<ellipse cx="1047.9" cy="95.7" rx="1.3" ry="0.6" fill="#e4e4ee" opacity="0.69"/>
<ellipse cx="1066.0" cy="71.3" rx="1.2" ry="0.3" fill="#e4e4ee" opacity="0.82"/>
<ellipse cx="1051.2" cy="165.9" rx="0.9" ry="0.7" fill="#e4e4ee" opacity="0.55"/>
<ellipse cx="1049.3" cy="187.0" rx="1.3" ry="0.3" fill="#e4e4ee" opacity="0.58"/>
<ellipse cx="1048.5" cy="209.0" rx="0.8" ry="0.6" fill="#e4e4ee" opacity="0.58"/>
<ellipse cx="1051.5" cy="203.0" rx="1.0" ry="0.5" fill="#e4e4ee" opacity="0.56"/>
<ellipse cx="1047.5" cy="205.8" rx="0.8" ry="0.7" fill="#e4e4ee" opacity="0.90"/>
<ellipse cx="1063.3" cy="104.0" rx="1.5" ry="0.6" fill="#e4e4ee" opacity="0.67"/>
<ellipse cx="1056.3" cy="173.2" rx="1.5" ry="0.8" fill="#e4e4ee" opacity="0.90"/>
<ellipse cx="1060.6" cy="168.1" rx="1.5" ry="0.9" fill="#e4e4ee" opacity="0.76"/>
<ellipse cx="1045.1" cy="102.7" rx="0.9" ry="0.3" fill="#e4e4ee" opacity="0.75"/>
<ellipse cx="1060.8" cy="134.2" rx="1.5" ry="0.7" fill="#e4e4ee" opacity="0.83"/>
<ellipse cx="1062.7" cy="131.5" rx="1.7" ry="0.4" fill="#e4e4ee" opacity="0.78"/>
<ellipse cx="1064.7" cy="190.4" rx="0.7" ry="0.7" fill="#e4e4ee" opacity="0.72"/>
<ellipse cx="1054.5" cy="129.9" rx="1.0" ry="0.7" fill="#e4e4ee" opacity="0.61"/>
<ellipse cx="1048.0" cy="117.7" rx="1.3" ry="0.7" fill="#e4e4ee" opacity="0.99"/>
<ellipse cx="1056.2" cy="118.1" rx="1.1" ry="0.8" fill="#e4e4ee" opacity="0.90"/>
<ellipse cx="1046.9" cy="49.7" rx="1.5" ry="0.3" fill="#e4e4ee" opacity="0.86"/>
<ellipse cx="1067.0" cy="196.6" rx="1.0" ry="0.7" fill="#e4e4ee" opacity="0.91"/>
<ellipse cx="1058.7" cy="91.0" rx="0.6" ry="0.6" fill="#e4e4ee" opacity="0.87"/>
<ellipse cx="1063.6" cy="49.3" rx="0.8" ry="0.7" fill="#e4e4ee" opacity="0.65"/>
<ellipse cx="1056.0" cy="173.7" rx="1.8" ry="0.3" fill="#e4e4ee" opacity="0.76"/>
<ellipse cx="1044.3" cy="119.0" rx="0.6" ry="0.7" fill="#e4e4ee" opacity="0.95"/>
<ellipse cx="1065.3" cy="126.2" rx="1.9" ry="0.5" fill="#e4e4ee" opacity="0.90"/>
<ellipse cx="1049.4" cy="191.5" rx="0.7" ry="0.6" fill="#e4e4ee" opacity="0.59"/>
<ellipse cx="1044.3" cy="125.1" rx="1.2" ry="0.3" fill="#e4e4ee" opacity="0.66"/>
<ellipse cx="1059.7" cy="164.6" rx="1.2" ry="0.4" fill="#e4e4ee" opacity="0.68"/>
<ellipse cx="1053.6" cy="101.9" rx="0.6" ry="0.3" fill="#e4e4ee" opacity="0.81"/>
<ellipse cx="1064.8" cy="56.7" rx="0.8" ry="0.3" fill="#e4e4ee" opacity="0.96"/>
<ellipse cx="1053.0" cy="58.0" rx="1.4" ry="0.5" fill="#e4e4ee" opacity="0.72"/>
<ellipse cx="1047.8" cy="166.3" rx="1.3" ry="0.6" fill="#e4e4ee" opacity="0.65"/>
<ellipse cx="1045.9" cy="49.2" rx="0.7" ry="0.6" fill="#e4e4ee" opacity="0.81"/>
<ellipse cx="1051.5" cy="75.6" rx="1.6" ry="0.3" fill="#e4e4ee" opacity="0.83"/>
<ellipse cx="1063.3" cy="136.9" rx="1.0" ry="0.5" fill="#e4e4ee" opacity="0.78"/>
<ellipse cx="1059.6" cy="76.5" rx="1.7" ry="0.6" fill="#e4e4ee" opacity="0.72"/>
<ellipse cx="1058.7" cy="199.2" rx="1.2" ry="0.8" fill="#e4e4ee" opacity="0.81"/>
<ellipse cx="1067.3" cy="158.8" rx="1.3" ry="0.6" fill="#e4e4ee" opacity="0.58"/>
<ellipse cx="1062.2" cy="64.9" rx="1.9" ry="0.3" fill="#e4e4ee" opacity="0.98"/>
<ellipse cx="1067.1" cy="54.6" rx="1.7" ry="0.3" fill="#e4e4ee" opacity="0.84"/>
<ellipse cx="1063.4" cy="121.7" rx="1.3" ry="0.6" fill="#e4e4ee" opacity="0.81"/>
<ellipse cx="1052.6" cy="48.0" rx="1.4" ry="0.6" fill="#e4e4ee" opacity="0.78"/>
<ellipse cx="1051.6" cy="74.2" rx="1.5" ry="0.3" fill="#e4e4ee" opacity="0.93"/>
<ellipse cx="1053.7" cy="54.6" rx="0.9" ry="0.3" fill="#e4e4ee" opacity="0.56"/>
<ellipse cx="1051.6" cy="128.5" rx="1.7" ry="0.9" fill="#e4e4ee" opacity="0.60"/>
<ellipse cx="1044.6" cy="159.2" rx="1.9" ry="0.6" fill="#e4e4ee" opacity="0.87"/>
<ellipse cx="1045.5" cy="92.6" rx="0.7" ry="0.6" fill="#e4e4ee" opacity="0.57"/>
<ellipse cx="1053.9" cy="125.8" rx="0.8" ry="0.6" fill="#e4e4ee" opacity="0.59"/>
<ellipse cx="1045.8" cy="120.0" rx="1.0" ry="0.5" fill="#e4e4ee" opacity="0.85"/>
<ellipse cx="1052.4" cy="69.4" rx="1.1" ry="0.4" fill="#e4e4ee" opacity="0.99"/>
<ellipse cx="1067.4" cy="196.9" rx="1.3" ry="0.8" fill="#e4e4ee" opacity="0.70"/>
<ellipse cx="1064.8" cy="200.9" rx="1.3" ry="0.6" fill="#e4e4ee" opacity="0.94"/>
<ellipse cx="1053.0" cy="179.1" rx="1.0" ry="0.8" fill="#e4e4ee" opacity="0.85"/>
<ellipse cx="1063.2" cy="102.4" rx="0.8" ry="0.4" fill="#e4e4ee" opacity="0.60"/>
<ellipse cx="1049.7" cy="163.2" rx="0.6" ry="0.7" fill="#e4e4ee" opacity="0.85"/>
<ellipse cx="1056.5" cy="198.1" rx="1.7" ry="0.5" fill="#e4e4ee" opacity="0.98"/>
<ellipse cx="1053.0" cy="151.5" rx="1.4" ry="0.5" fill="#e4e4ee" opacity="0.76"/>
<ellipse cx="1062.7" cy="208.4" rx="1.2" ry="0.3" fill="#e4e4ee" opacity="0.67"/>
<ellipse cx="1044.3" cy="188.6" rx="1.2" ry="0.7" fill="#e4e4ee" opacity="0.83"/>
<ellipse cx="1058.6" cy="137.8" rx="1.8" ry="0.8" fill="#e4e4ee" opacity="0.71"/>
<ellipse cx="1055.6" cy="207.2" rx="1.0" ry="0.4" fill="#e4e4ee" opacity="0.59"/>
<ellipse cx="1043.1" cy="118.9" rx="1.5" ry="0.7" fill="#e4e4ee" opacity="0.60"/>
<ellipse cx="1048.0" cy="199.4" rx="1.8" ry="0.4" fill="#e4e4ee" opacity="0.90"/>
<ellipse cx="1053.2" cy="197.1" rx="1.6" ry="0.8" fill="#e4e4ee" opacity="0.77"/>
<ellipse cx="1058.6" cy="175.3" rx="0.6" ry="0.3" fill="#e4e4ee" opacity="0.73"/>
<ellipse cx="1043.1" cy="203.7" rx="1.4" ry="0.5" fill="#e4e4ee" opacity="0.85"/>
<ellipse cx="1055.7" cy="166.0" rx="1.2" ry="0.3" fill="#e4e4ee" opacity="0.90"/>
<ellipse cx="1064.5" cy="195.9" rx="0.9" ry="0.6" fill="#e4e4ee" opacity="0.69"/>
<ellipse cx="1057.6" cy="159.8" rx="1.6" ry="0.8" fill="#e4e4ee" opacity="0.94"/>
<ellipse cx="1046.1" cy="88.1" rx="0.9" ry="0.8" fill="#e4e4ee" opacity="0.71"/>
<ellipse cx="1049.8" cy="66.9" rx="1.4" ry="0.8" fill="#e4e4ee" opacity="0.93"/>
<ellipse cx="1052.6" cy="78.5" rx="1.9" ry="0.6" fill="#e4e4ee" opacity="0.98"/>
<ellipse cx="1067.2" cy="138.4" rx="1.6" ry="0.5" fill="#e4e4ee" opacity="0.58"/>
<ellipse cx="1055.5" cy="148.9" rx="1.0" ry="0.4" fill="#e4e4ee" opacity="0.63"/>
<ellipse cx="1054.3" cy="100.6" rx="1.2" ry="0.3" fill="#e4e4ee" opacity="0.66"/>
<ellipse cx="1053.8" cy="184.6" rx="0.7" ry="0.8" fill="#e4e4ee" opacity="0.67"/>
<ellipse cx="1061.9" cy="82.6" rx="0.6" ry="0.5" fill="#e4e4ee" opacity="0.98"/>
<ellipse cx="1047.7" cy="88.4" rx="1.3" ry="0.8" fill="#e4e4ee" opacity="0.98"/>
<ellipse cx="1062.5" cy="167.8" rx="1.2" ry="0.9" fill="#e4e4ee" opacity="0.81"/>
<ellipse cx="1047.5" cy="147.9" rx="1.0" ry="0.9" fill="#e4e4ee" opacity="0.94"/>
<ellipse cx="1045.8" cy="51.2" rx="1.0" ry="0.7" fill="#e4e4ee" opacity="0.58"/>
<ellipse cx="1065.8" cy="164.9" rx="1.5" ry="0.5" fill="#e4e4ee" opacity="0.57"/>
<ellipse cx="1051.2" cy="171.8" rx="1.1" ry="0.9" fill="#e4e4ee" opacity="0.91"/>
<ellipse cx="1052.4" cy="52.8" rx="1.7" ry="0.7" fill="#e4e4ee" opacity="0.81"/>
<ellipse cx="1055.6" cy="75.3" rx="0.9" ry="0.3" fill="#e4e4ee" opacity="0.94"/>
<ellipse cx="1057.9" cy="80.0" rx="1.8" ry="0.3" fill="#e4e4ee" opacity="0.69"/>
<ellipse cx="1053.3" cy="160.2" rx="1.3" ry="0.6" fill="#e4e4ee" opacity="0.92"/>
<ellipse cx="1049.7" cy="157.8" rx="1.0" ry="0.7" fill="#e4e4ee" opacity="0.95"/>
<ellipse cx="1058.4" cy="109.6" rx="1.7" ry="0.7" fill="#e4e4ee" opacity="1.00"/>
<ellipse cx="1044.6" cy="207.1" rx="1.2" ry="0.4" fill="#e4e4ee" opacity="0.61"/>
<ellipse cx="1052.5" cy="134.5" rx="1.2" ry="0.8" fill="#e4e4ee" opacity="0.84"/>
<ellipse cx="1043.4" cy="93.3" rx="1.1" ry="0.4" fill="#e4e4ee" opacity="0.78"/>
<ellipse cx="1065.4" cy="154.9" rx="1.0" ry="0.4" fill="#e4e4ee" opacity="0.63"/>
<ellipse cx="1046.5" cy="138.0" rx="1.3" ry="0.5" fill="#e4e4ee" opacity="0.70"/>
<ellipse cx="1043.5" cy="203.0" rx="0.6" ry="0.5" fill="#e4e4ee" opacity="0.64"/>
<ellipse cx="1054.8" cy="99.5" rx="0.9" ry="0.5" fill="#e4e4ee" opacity="0.68"/>
<ellipse cx="1065.9" cy="172.9" rx="0.8" ry="0.5" fill="#e4e4ee" opacity="1.00"/>
<ellipse cx="1049.4" cy="53.7" rx="0.9" ry="0.4" fill="#e4e4ee" opacity="0.94"/>
<ellipse cx="1055.6" cy="87.1" rx="1.9" ry="0.9" fill="#e4e4ee" opacity="0.97"/>
<ellipse cx="1043.3" cy="117.3" rx="1.1" ry="0.6" fill="#e4e4ee" opacity="0.66"/>
<ellipse cx="1044.6" cy="102.1" rx="0.8" ry="0.7" fill="#e4e4ee" opacity="0.98"/>
<ellipse cx="1059.3" cy="164.1" rx="0.9" ry="0.4" fill="#e4e4ee" opacity="0.88"/>
<ellipse cx="1067.5" cy="186.5" rx="0.9" ry="0.8" fill="#e4e4ee" opacity="0.82"/>
<ellipse cx="1066.8" cy="100.7" rx="1.1" ry="0.6" fill="#e4e4ee" opacity="0.82"/>
<ellipse cx="1049.2" cy="97.0" rx="1.8" ry="0.4" fill="#e4e4ee" opacity="0.63"/>
<ellipse cx="1045.1" cy="165.1" rx="1.5" ry="0.7" fill="#e4e4ee" opacity="0.99"/>
<ellipse cx="1057.4" cy="197.2" rx="1.3" ry="0.4" fill="#e4e4ee" opacity="0.72"/>
<ellipse cx="1043.8" cy="109.5" rx="1.3" ry="0.6" fill="#e4e4ee" opacity="0.65"/>
<ellipse cx="1058.8" cy="50.6" rx="1.1" ry="0.4" fill="#e4e4ee" opacity="0.76"/>
<ellipse cx="1063.6" cy="81.1" rx="1.6" ry="0.6" fill="#e4e4ee" opacity="0.92"/>
<ellipse cx="1064.1" cy="112.8" rx="1.8" ry="0.8" fill="#e4e4ee" opacity="0.93"/>
<ellipse cx="1051.2" cy="177.5" rx="0.8" ry="0.5" fill="#e4e4ee" opacity="0.60"/>
<ellipse cx="1059.4" cy="154.1" rx="0.7" ry="0.4" fill="#e4e4ee" opacity="0.81"/>
<ellipse cx="1054.1" cy="124.1" rx="1.8" ry="0.8" fill="#e4e4ee" opacity="0.65"/>
<ellipse cx="1059.4" cy="185.4" rx="0.7" ry="0.6" fill="#e4e4ee" opacity="0.93"/>
<ellipse cx="1067.2" cy="72.3" rx="1.3" ry="0.6" fill="#e4e4ee" opacity="0.64"/>
<ellipse cx="1052.5" cy="135.1" rx="1.1" ry="0.6" fill="#e4e4ee" opacity="0.97"/>
<ellipse cx="1060.1" cy="137.5" rx="1.8" ry="0.6" fill="#e4e4ee" opacity="0.94"/>
<ellipse cx="1048.7" cy="87.5" rx="0.9" ry="0.7" fill="#e4e4ee" opacity="0.58"/>
<ellipse cx="1049.3" cy="54.6" rx="1.2" ry="0.8" fill="#e4e4ee" opacity="0.64"/>
<ellipse cx="1044.6" cy="136.0" rx="0.8" ry="0.7" fill="#e4e4ee" opacity="0.55"/>
<ellipse cx="1067.3" cy="189.2" rx="0.6" ry="0.9" fill="#e4e4ee" opacity="0.93"/>
<ellipse cx="1058.3" cy="92.5" rx="1.5" ry="0.4" fill="#e4e4ee" opacity="0.83"/>
<ellipse cx="1066.6" cy="147.5" rx="1.4" ry="0.4" fill="#e4e4ee" opacity="0.73"/>
<ellipse cx="1047.9" cy="137.2" rx="0.7" ry="0.8" fill="#e4e4ee" opacity="0.87"/>
<ellipse cx="1063.3" cy="185.7" rx="1.5" ry="0.3" fill="#e4e4ee" opacity="0.61"/>
<ellipse cx="1048.5" cy="204.1" rx="1.5" ry="0.5" fill="#e4e4ee" opacity="0.66"/>
<ellipse cx="1051.1" cy="178.4" rx="1.3" ry="0.6" fill="#e4e4ee" opacity="0.91"/>
<ellipse cx="1064.5" cy="117.4" rx="1.2" ry="0.6" fill="#e4e4ee" opacity="0.81"/>
<ellipse cx="1044.6" cy="97.8" rx="1.1" ry="0.5" fill="#e4e4ee" opacity="0.63"/>
<ellipse cx="1044.5" cy="64.7" rx="1.6" ry="0.6" fill="#e4e4ee" opacity="0.93"/>
<ellipse cx="1045.2" cy="94.2" rx="0.7" ry="0.3" fill="#e4e4ee" opacity="0.56"/>
<ellipse cx="1053.7" cy="150.0" rx="1.0" ry="0.6" fill="#e4e4ee" opacity="0.56"/>
<ellipse cx="1047.6" cy="88.7" rx="1.7" ry="0.5" fill="#e4e4ee" opacity="0.76"/>
<ellipse cx="1047.2" cy="59.3" rx="1.4" ry="0.7" fill="#e4e4ee" opacity="0.67"/>
<ellipse cx="1063.6" cy="165.8" rx="1.7" ry="0.4" fill="#e4e4ee" opacity="0.94"/>
<ellipse cx="1059.7" cy="188.5" rx="1.6" ry="0.6" fill="#e4e4ee" opacity="0.76"/>
<ellipse cx="1054.2" cy="167.3" rx="1.0" ry="0.8" fill="#e4e4ee" opacity="0.60"/>
<ellipse cx="1058.1" cy="69.4" rx="1.0" ry="0.8" fill="#e4e4ee" opacity="0.72"/>
<ellipse cx="1046.0" cy="174.1" rx="1.8" ry="0.5" fill="#e4e4ee" opacity="0.69"/>
<ellipse cx="1062.5" cy="173.2" rx="0.8" ry="0.4" fill="#e4e4ee" opacity="0.84"/>
<ellipse cx="1064.9" cy="57.1" rx="0.9" ry="0.5" fill="#e4e4ee" opacity="0.84"/>
<ellipse cx="1061.7" cy="118.4" rx="1.1" ry="0.7" fill="#e4e4ee" opacity="0.74"/>
<ellipse cx="1047.3" cy="174.1" rx="1.4" ry="0.3" fill="#e4e4ee" opacity="0.68"/>
<ellipse cx="1046.1" cy="169.4" rx="1.9" ry="0.5" fill="#e4e4ee" opacity="0.83"/>
<ellipse cx="1065.3" cy="153.2" rx="0.8" ry="0.3" fill="#e4e4ee" opacity="0.99"/>
<ellipse cx="1060.7" cy="122.6" rx="1.4" ry="0.8" fill="#e4e4ee" opacity="0.73"/>
<ellipse cx="1059.0" cy="80.7" rx="1.1" ry="0.4" fill="#e4e4ee" opacity="0.93"/>
<ellipse cx="1060.8" cy="198.3" rx="1.5" ry="0.6" fill="#e4e4ee" opacity="0.70"/>
<ellipse cx="1048.9" cy="48.2" rx="0.7" ry="0.9" fill="#e4e4ee" opacity="0.83"/>
<ellipse cx="1066.2" cy="188.9" rx="1.7" ry="0.6" fill="#e4e4ee" opacity="0.96"/>
<ellipse cx="1050.7" cy="98.7" rx="1.3" ry="0.4" fill="#e4e4ee" opacity="0.65"/>
<ellipse cx="1058.7" cy="161.9" rx="1.0" ry="0.9" fill="#e4e4ee" opacity="0.59"/>
<ellipse cx="1055.0" cy="191.2" rx="1.2" ry="0.3" fill="#e4e4ee" opacity="0.73"/>
<ellipse cx="1045.1" cy="118.2" rx="1.4" ry="0.6" fill="#e4e4ee" opacity="0.93"/>
<ellipse cx="1060.8" cy="197.5" rx="1.2" ry="0.4" fill="#e4e4ee" opacity="0.87"/>
<ellipse cx="1046.4" cy="68.2" rx="1.2" ry="0.4" fill="#e4e4ee" opacity="0.74"/>
<ellipse cx="1063.3" cy="115.0" rx="0.7" ry="0.9" fill="#e4e4ee" opacity="0.74"/>
<ellipse cx="1066.2" cy="72.3" rx="0.8" ry="0.9" fill="#e4e4ee" opacity="0.65"/>
<ellipse cx="1051.4" cy="156.9" rx="0.7" ry="0.8" fill="#e4e4ee" opacity="0.57"/>
<ellipse cx="1061.1" cy="118.9" rx="1.0" ry="0.6" fill="#e4e4ee" opacity="0.75"/>
<ellipse cx="1056.8" cy="199.4" rx="0.8" ry="0.5" fill="#e4e4ee" opacity="0.62"/>
<ellipse cx="1045.3" cy="87.1" rx="0.9" ry="0.4" fill="#e4e4ee" opacity="0.80"/>
<ellipse cx="1060.1" cy="172.4" rx="1.8" ry="0.4" fill="#e4e4ee" opacity="0.76"/>
<ellipse cx="1044.0" cy="162.1" rx="0.8" ry="0.9" fill="#e4e4ee" opacity="0.76"/>
<ellipse cx="1044.9" cy="121.6" rx="0.7" ry="0.4" fill="#e4e4ee" opacity="0.68"/>
<ellipse cx="1063.6" cy="107.6" rx="1.7" ry="0.7" fill="#e4e4ee" opacity="0.92"/>
<ellipse cx="1064.1" cy="121.5" rx="1.4" ry="0.3" fill="#e4e4ee" opacity="0.67"/>
<ellipse cx="1062.8" cy="124.6" rx="1.8" ry="0.9" fill="#e4e4ee" opacity="0.80"/>
<ellipse cx="1044.4" cy="60.3" rx="1.0" ry="0.7" fill="#e4e4ee" opacity="0.90"/>
<ellipse cx="1055.0" cy="208.2" rx="0.7" ry="0.3" fill="#e4e4ee" opacity="0.84"/>
<ellipse cx="1047.2" cy="109.1" rx="1.0" ry="0.8" fill="#e4e4ee" opacity="0.60"/>
</g>
<polygon points="1041.2,64.6 1069.3,46 1069.3,212.5 1041.2,195.3" fill="none" stroke="#555" stroke-width="1.2"/>
<clipPath id="mc62"><polygon points="1069.3,46 1103.8,46 1103.8,212.5 1069.3,212.5"/></clipPath>
<polygon points="1069.3,46 1103.8,46 1103.8,212.5 1069.3,212.5" fill="#5e5e5e"/>
<g clip-path="url(#mc62)" filter="url(#soft)">
<ellipse cx="1071.2" cy="45.8" rx="0.8" ry="2.3" fill="#8a8a8a"/>
<ellipse cx="1074.8" cy="46.5" rx="0.8" ry="2.9" fill="#b4b4b4"/>
<ellipse cx="1078.5" cy="45.8" rx="1.0" ry="2.3" fill="#ffffff"/>
<ellipse cx="1081.7" cy="46.4" rx="0.8" ry="1.9" fill="#b4b4b4"/>
<ellipse cx="1083.8" cy="47.2" rx="1.1" ry="2.9" fill="#b4b4b4"/>
<ellipse cx="1087.9" cy="46.4" rx="1.3" ry="2.0" fill="#b4b4b4"/>
<ellipse cx="1091.4" cy="46.7" rx="0.9" ry="1.8" fill="#b4b4b4"/>
<ellipse cx="1096.0" cy="47.3" rx="0.7" ry="1.9" fill="#b4b4b4"/>
<ellipse cx="1098.2" cy="46.5" rx="1.3" ry="2.8" fill="#8a8a8a"/>
<ellipse cx="1102.4" cy="47.2" rx="0.9" ry="2.2" fill="#8a8a8a"/>
<ellipse cx="1072.6" cy="52.6" rx="0.9" ry="2.8" fill="#b4b4b4"/>
<ellipse cx="1075.7" cy="51.7" rx="1.1" ry="1.8" fill="#ffffff"/>
<ellipse cx="1079.7" cy="52.2" rx="0.9" ry="2.5" fill="#b4b4b4"/>
<ellipse cx="1082.1" cy="52.9" rx="0.9" ry="3.0" fill="#b4b4b4"/>
<ellipse cx="1087.6" cy="54.9" rx="1.3" ry="2.4" fill="#8a8a8a"/>
<ellipse cx="1090.8" cy="52.9" rx="1.3" ry="2.9" fill="#ffffff"/>
<ellipse cx="1093.2" cy="52.7" rx="1.1" ry="1.8" fill="#ffffff"/>
<ellipse cx="1098.0" cy="51.5" rx="1.2" ry="2.3" fill="#b4b4b4"/>
<ellipse cx="1100.1" cy="51.5" rx="0.7" ry="2.0" fill="#b4b4b4"/>
<ellipse cx="1070.5" cy="58.7" rx="1.2" ry="2.6" fill="#ffffff"/>
<ellipse cx="1074.1" cy="57.9" rx="1.3" ry="2.3" fill="#b4b4b4"/>
<ellipse cx="1077.0" cy="61.0" rx="1.0" ry="1.8" fill="#ffffff"/>
<ellipse cx="1081.9" cy="60.1" rx="1.0" ry="2.1" fill="#b4b4b4"/>
<ellipse cx="1084.6" cy="59.4" rx="1.1" ry="2.7" fill="#ffffff"/>
<ellipse cx="1087.3" cy="58.0" rx="0.9" ry="1.8" fill="#8a8a8a"/>
<ellipse cx="1092.3" cy="61.2" rx="1.1" ry="2.4" fill="#b4b4b4"/>
<ellipse cx="1095.6" cy="59.8" rx="1.2" ry="2.8" fill="#8a8a8a"/>
<ellipse cx="1099.5" cy="60.4" rx="1.1" ry="2.6" fill="#8a8a8a"/>
<ellipse cx="1103.3" cy="57.8" rx="1.1" ry="2.2" fill="#ffffff"/>
<ellipse cx="1071.5" cy="66.1" rx="1.2" ry="2.0" fill="#ffffff"/>
<ellipse cx="1076.6" cy="64.9" rx="0.9" ry="2.7" fill="#8a8a8a"/>
<ellipse cx="1078.5" cy="65.6" rx="1.2" ry="2.6" fill="#b4b4b4"/>
<ellipse cx="1083.1" cy="64.2" rx="0.8" ry="1.7" fill="#b4b4b4"/>
<ellipse cx="1086.9" cy="65.8" rx="1.2" ry="1.7" fill="#8a8a8a"/>
<ellipse cx="1091.1" cy="65.7" rx="0.9" ry="2.3" fill="#8a8a8a"/>
<ellipse cx="1094.1" cy="64.7" rx="0.9" ry="2.1" fill="#b4b4b4"/>
<ellipse cx="1097.4" cy="65.6" rx="0.8" ry="1.9" fill="#8a8a8a"/>
<ellipse cx="1100.4" cy="63.8" rx="0.9" ry="1.7" fill="#ffffff"/>
<ellipse cx="1070.3" cy="70.3" rx="1.3" ry="2.5" fill="#8a8a8a"/>
<ellipse cx="1073.3" cy="70.5" rx="0.8" ry="2.8" fill="#ffffff"/>
<ellipse cx="1078.1" cy="73.1" rx="1.0" ry="2.6" fill="#b4b4b4"/>
<ellipse cx="1081.4" cy="72.3" rx="1.3" ry="2.4" fill="#ffffff"/>
<ellipse cx="1084.2" cy="71.2" rx="1.3" ry="1.7" fill="#8a8a8a"/>
<ellipse cx="1087.7" cy="70.1" rx="1.1" ry="2.5" fill="#b4b4b4"/>
<ellipse cx="1091.2" cy="71.5" rx="0.9" ry="1.9" fill="#8a8a8a"/>
<ellipse cx="1094.9" cy="72.9" rx="1.1" ry="2.5" fill="#ffffff"/>
<ellipse cx="1099.8" cy="70.2" rx="1.3" ry="2.3" fill="#ffffff"/>
<ellipse cx="1101.8" cy="70.4" rx="1.1" ry="2.0" fill="#ffffff"/>
<ellipse cx="1071.2" cy="77.1" rx="1.1" ry="2.3" fill="#8a8a8a"/>
<ellipse cx="1075.2" cy="76.5" rx="1.2" ry="2.5" fill="#ffffff"/>
<ellipse cx="1078.2" cy="79.0" rx="0.9" ry="2.8" fill="#8a8a8a"/>
<ellipse cx="1082.5" cy="77.4" rx="1.0" ry="2.1" fill="#b4b4b4"/>
<ellipse cx="1085.9" cy="76.4" rx="1.0" ry="2.8" fill="#ffffff"/>
<ellipse cx="1090.5" cy="78.0" rx="0.8" ry="2.6" fill="#b4b4b4"/>
<ellipse cx="1094.3" cy="77.4" rx="1.2" ry="2.1" fill="#8a8a8a"/>
<ellipse cx="1096.2" cy="79.2" rx="0.7" ry="2.4" fill="#b4b4b4"/>
<ellipse cx="1101.2" cy="78.5" rx="1.0" ry="1.7" fill="#b4b4b4"/>
<ellipse cx="1071.2" cy="84.8" rx="1.0" ry="2.6" fill="#8a8a8a"/>
<ellipse cx="1073.8" cy="85.1" rx="0.9" ry="2.7" fill="#ffffff"/>
<ellipse cx="1077.2" cy="84.3" rx="1.2" ry="1.8" fill="#b4b4b4"/>
<ellipse cx="1080.7" cy="82.6" rx="0.9" ry="2.9" fill="#ffffff"/>
<ellipse cx="1084.0" cy="84.6" rx="1.1" ry="1.7" fill="#8a8a8a"/>
<ellipse cx="1087.3" cy="85.0" rx="1.2" ry="2.5" fill="#ffffff"/>
<ellipse cx="1092.9" cy="83.8" rx="0.8" ry="2.0" fill="#8a8a8a"/>
<ellipse cx="1095.2" cy="83.7" rx="0.9" ry="1.8" fill="#b4b4b4"/>
<ellipse cx="1099.0" cy="84.2" rx="1.0" ry="2.2" fill="#8a8a8a"/>
<ellipse cx="1102.1" cy="85.0" rx="0.7" ry="2.0" fill="#8a8a8a"/>
<ellipse cx="1072.6" cy="89.5" rx="0.8" ry="3.0" fill="#ffffff"/>
<ellipse cx="1074.9" cy="88.9" rx="0.8" ry="2.7" fill="#b4b4b4"/>
<ellipse cx="1078.8" cy="90.3" rx="1.2" ry="2.9" fill="#b4b4b4"/>
<ellipse cx="1082.3" cy="89.6" rx="0.8" ry="2.8" fill="#ffffff"/>
<ellipse cx="1086.0" cy="90.5" rx="0.9" ry="1.7" fill="#b4b4b4"/>
<ellipse cx="1089.0" cy="89.5" rx="0.8" ry="2.0" fill="#8a8a8a"/>
<ellipse cx="1094.6" cy="91.9" rx="1.2" ry="2.2" fill="#ffffff"/>
<ellipse cx="1097.2" cy="91.6" rx="1.0" ry="2.8" fill="#ffffff"/>
<ellipse cx="1101.9" cy="91.5" rx="0.9" ry="2.9" fill="#b4b4b4"/>
<ellipse cx="1069.2" cy="95.1" rx="1.3" ry="2.2" fill="#ffffff"/>
<ellipse cx="1074.7" cy="95.0" rx="0.9" ry="1.6" fill="#ffffff"/>
<ellipse cx="1078.1" cy="97.7" rx="0.9" ry="2.5" fill="#b4b4b4"/>
<ellipse cx="1081.6" cy="95.8" rx="0.7" ry="2.9" fill="#b4b4b4"/>
<ellipse cx="1083.7" cy="95.4" rx="0.7" ry="1.9" fill="#8a8a8a"/>
<ellipse cx="1088.1" cy="98.5" rx="0.8" ry="2.5" fill="#8a8a8a"/>
<ellipse cx="1091.3" cy="96.2" rx="0.8" ry="2.0" fill="#8a8a8a"/>
<ellipse cx="1096.4" cy="95.5" rx="1.0" ry="2.1" fill="#ffffff"/>
<ellipse cx="1098.8" cy="95.6" rx="1.3" ry="1.9" fill="#b4b4b4"/>
<ellipse cx="1102.0" cy="95.0" rx="0.7" ry="1.8" fill="#b4b4b4"/>
<ellipse cx="1072.8" cy="104.3" rx="1.2" ry="1.9" fill="#b4b4b4"/>
<ellipse cx="1076.1" cy="103.6" rx="0.9" ry="1.8" fill="#b4b4b4"/>
<ellipse cx="1078.6" cy="103.9" rx="1.0" ry="2.7" fill="#8a8a8a"/>
<ellipse cx="1081.9" cy="104.0" rx="1.1" ry="1.9" fill="#b4b4b4"/>
<ellipse cx="1087.4" cy="102.0" rx="1.3" ry="2.4" fill="#ffffff"/>
<ellipse cx="1090.5" cy="103.9" rx="1.0" ry="1.8" fill="#8a8a8a"/>
<ellipse cx="1093.8" cy="101.7" rx="0.8" ry="3.0" fill="#b4b4b4"/>
<ellipse cx="1097.1" cy="103.6" rx="0.9" ry="2.1" fill="#b4b4b4"/>
<ellipse cx="1099.8" cy="104.1" rx="0.8" ry="2.3" fill="#ffffff"/>
<ellipse cx="1069.8" cy="109.8" rx="1.0" ry="3.0" fill="#8a8a8a"/>
<ellipse cx="1073.3" cy="109.6" rx="0.7" ry="2.6" fill="#8a8a8a"/>
<ellipse cx="1077.8" cy="110.0" rx="1.2" ry="2.0" fill="#b4b4b4"/>
<ellipse cx="1081.3" cy="107.2" rx="1.1" ry="2.1" fill="#ffffff"/>
<ellipse cx="1085.2" cy="107.6" rx="1.3" ry="2.9" fill="#b4b4b4"/>
<ellipse cx="1088.6" cy="107.3" rx="1.1" ry="2.3" fill="#b4b4b4"/>
<ellipse cx="1092.5" cy="108.5" rx="1.1" ry="2.5" fill="#8a8a8a"/>
<ellipse cx="1095.1" cy="109.1" rx="0.8" ry="1.9" fill="#b4b4b4"/>
<ellipse cx="1099.5" cy="108.0" rx="0.7" ry="1.8" fill="#8a8a8a"/>
<ellipse cx="1102.2" cy="107.3" rx="0.9" ry="2.9" fill="#ffffff"/>
<ellipse cx="1071.8" cy="115.3" rx="0.9" ry="2.9" fill="#ffffff"/>
<ellipse cx="1076.6" cy="115.1" rx="1.2" ry="2.1" fill="#8a8a8a"/>
<ellipse cx="1078.9" cy="116.7" rx="1.2" ry="2.0" fill="#ffffff"/>
<ellipse cx="1084.0" cy="117.0" rx="0.8" ry="3.0" fill="#ffffff"/>
<ellipse cx="1086.7" cy="116.5" rx="1.1" ry="1.8" fill="#b4b4b4"/>
<ellipse cx="1089.5" cy="116.2" rx="0.8" ry="2.6" fill="#ffffff"/>
<ellipse cx="1093.1" cy="116.8" rx="1.1" ry="2.7" fill="#8a8a8a"/>
<ellipse cx="1098.1" cy="113.8" rx="1.0" ry="2.8" fill="#b4b4b4"/>
<ellipse cx="1100.1" cy="116.6" rx="1.2" ry="1.9" fill="#b4b4b4"/>
<ellipse cx="1069.7" cy="120.2" rx="1.2" ry="1.9" fill="#ffffff"/>
<ellipse cx="1073.3" cy="121.1" rx="1.0" ry="2.5" fill="#ffffff"/>
<ellipse cx="1077.8" cy="122.2" rx="0.8" ry="2.1" fill="#ffffff"/>
<ellipse cx="1080.8" cy="122.8" rx="1.0" ry="1.7" fill="#ffffff"/>
<ellipse cx="1084.9" cy="121.4" rx="0.9" ry="2.8" fill="#b4b4b4"/>
<ellipse cx="1088.4" cy="122.5" rx="1.1" ry="2.1" fill="#b4b4b4"/>
<ellipse cx="1091.1" cy="121.5" rx="1.1" ry="2.3" fill="#ffffff"/>
<ellipse cx="1096.5" cy="119.6" rx="1.1" ry="2.0" fill="#8a8a8a"/>
<ellipse cx="1098.9" cy="123.1" rx="1.1" ry="2.2" fill="#b4b4b4"/>
<ellipse cx="1103.7" cy="122.6" rx="0.8" ry="2.1" fill="#ffffff"/>
<ellipse cx="1072.1" cy="127.6" rx="0.9" ry="2.0" fill="#8a8a8a"/>
<ellipse cx="1076.0" cy="126.6" rx="0.9" ry="1.9" fill="#8a8a8a"/>
<ellipse cx="1079.7" cy="127.8" rx="1.2" ry="2.7" fill="#8a8a8a"/>
<ellipse cx="1083.5" cy="128.8" rx="0.8" ry="1.6" fill="#ffffff"/>
<ellipse cx="1086.0" cy="129.2" rx="1.2" ry="1.9" fill="#8a8a8a"/>
<ellipse cx="1089.4" cy="126.9" rx="0.8" ry="2.7" fill="#ffffff"/>
<ellipse cx="1093.7" cy="127.6" rx="0.7" ry="1.8" fill="#b4b4b4"/>
<ellipse cx="1098.1" cy="128.5" rx="1.3" ry="2.8" fill="#ffffff"/>
<ellipse cx="1100.9" cy="129.3" rx="1.0" ry="2.1" fill="#b4b4b4"/>
<ellipse cx="1069.8" cy="133.6" rx="0.8" ry="2.7" fill="#ffffff"/>
<ellipse cx="1074.4" cy="133.7" rx="0.7" ry="1.8" fill="#b4b4b4"/>
<ellipse cx="1076.5" cy="132.0" rx="0.8" ry="2.9" fill="#b4b4b4"/>
<ellipse cx="1081.8" cy="132.5" rx="1.2" ry="1.8" fill="#b4b4b4"/>
<ellipse cx="1083.9" cy="135.2" rx="0.8" ry="2.5" fill="#8a8a8a"/>
<ellipse cx="1088.0" cy="135.6" rx="1.1" ry="1.7" fill="#b4b4b4"/>
<ellipse cx="1091.7" cy="135.3" rx="1.2" ry="2.0" fill="#8a8a8a"/>
<ellipse cx="1096.4" cy="134.0" rx="1.0" ry="2.2" fill="#ffffff"/>
<ellipse cx="1099.4" cy="132.8" rx="0.9" ry="2.2" fill="#b4b4b4"/>
<ellipse cx="1102.1" cy="132.9" rx="1.0" ry="2.8" fill="#8a8a8a"/>
<ellipse cx="1072.5" cy="138.6" rx="0.9" ry="2.0" fill="#ffffff"/>
<ellipse cx="1075.9" cy="139.5" rx="0.8" ry="2.1" fill="#b4b4b4"/>
<ellipse cx="1079.8" cy="141.4" rx="0.8" ry="3.0" fill="#ffffff"/>
<ellipse cx="1083.2" cy="138.2" rx="0.8" ry="2.9" fill="#b4b4b4"/>
<ellipse cx="1087.3" cy="141.4" rx="0.8" ry="1.8" fill="#ffffff"/>
<ellipse cx="1090.5" cy="139.0" rx="0.8" ry="2.4" fill="#ffffff"/>
<ellipse cx="1092.8" cy="138.4" rx="1.3" ry="1.9" fill="#ffffff"/>
<ellipse cx="1098.1" cy="140.5" rx="1.3" ry="2.0" fill="#ffffff"/>
<ellipse cx="1101.9" cy="138.5" rx="0.9" ry="2.8" fill="#ffffff"/>
<ellipse cx="1069.3" cy="146.8" rx="0.8" ry="2.7" fill="#b4b4b4"/>
<ellipse cx="1074.9" cy="145.7" rx="1.2" ry="2.7" fill="#ffffff"/>
<ellipse cx="1077.9" cy="147.4" rx="1.1" ry="2.5" fill="#b4b4b4"/>
<ellipse cx="1081.5" cy="147.3" rx="1.3" ry="2.8" fill="#b4b4b4"/>
<ellipse cx="1083.6" cy="144.9" rx="1.2" ry="2.7" fill="#ffffff"/>
<ellipse cx="1089.1" cy="145.4" rx="0.7" ry="1.8" fill="#8a8a8a"/>
<ellipse cx="1091.8" cy="147.3" rx="1.1" ry="1.7" fill="#8a8a8a"/>
<ellipse cx="1095.9" cy="146.5" rx="1.2" ry="2.1" fill="#b4b4b4"/>
<ellipse cx="1099.2" cy="146.2" rx="1.2" ry="2.5" fill="#8a8a8a"/>
<ellipse cx="1102.7" cy="146.0" rx="1.3" ry="1.7" fill="#b4b4b4"/>
<ellipse cx="1071.8" cy="153.0" rx="0.8" ry="2.9" fill="#ffffff"/>
<ellipse cx="1074.8" cy="153.3" rx="1.1" ry="2.4" fill="#b4b4b4"/>
<ellipse cx="1080.4" cy="150.7" rx="1.3" ry="1.8" fill="#b4b4b4"/>
<ellipse cx="1083.0" cy="151.1" rx="0.8" ry="2.8" fill="#8a8a8a"/>
<ellipse cx="1086.7" cy="151.4" rx="0.9" ry="2.2" fill="#b4b4b4"/>
<ellipse cx="1090.2" cy="153.2" rx="0.8" ry="3.0" fill="#b4b4b4"/>
<ellipse cx="1093.5" cy="153.5" rx="1.3" ry="2.7" fill="#8a8a8a"/>
<ellipse cx="1097.4" cy="152.7" rx="1.1" ry="2.6" fill="#8a8a8a"/>
<ellipse cx="1100.3" cy="153.6" rx="0.8" ry="2.1" fill="#b4b4b4"/>
<ellipse cx="1071.3" cy="160.0" rx="0.8" ry="3.0" fill="#8a8a8a"/>
<ellipse cx="1073.3" cy="160.0" rx="1.2" ry="2.2" fill="#b4b4b4"/>
<ellipse cx="1078.0" cy="157.8" rx="1.1" ry="2.5" fill="#b4b4b4"/>
<ellipse cx="1081.8" cy="159.7" rx="1.3" ry="2.9" fill="#ffffff"/>
<ellipse cx="1084.6" cy="158.7" rx="0.9" ry="1.8" fill="#8a8a8a"/>
<ellipse cx="1088.3" cy="158.6" rx="0.8" ry="2.6" fill="#ffffff"/>
<ellipse cx="1092.1" cy="157.7" rx="1.1" ry="2.1" fill="#ffffff"/>
<ellipse cx="1095.6" cy="156.8" rx="1.0" ry="1.9" fill="#ffffff"/>
<ellipse cx="1098.4" cy="160.1" rx="1.0" ry="2.9" fill="#b4b4b4"/>
<ellipse cx="1103.7" cy="159.7" rx="1.1" ry="1.8" fill="#b4b4b4"/>
<ellipse cx="1073.0" cy="163.1" rx="1.3" ry="2.6" fill="#b4b4b4"/>
<ellipse cx="1076.2" cy="165.0" rx="1.2" ry="2.7" fill="#ffffff"/>
<ellipse cx="1078.8" cy="164.2" rx="1.2" ry="2.8" fill="#ffffff"/>
<ellipse cx="1082.7" cy="166.3" rx="1.0" ry="1.9" fill="#b4b4b4"/>
<ellipse cx="1085.8" cy="166.1" rx="0.8" ry="2.7" fill="#8a8a8a"/>
<ellipse cx="1089.6" cy="165.5" rx="1.2" ry="2.0" fill="#b4b4b4"/>
<ellipse cx="1092.7" cy="166.1" rx="1.0" ry="2.0" fill="#b4b4b4"/>
<ellipse cx="1098.3" cy="164.6" rx="0.8" ry="2.2" fill="#8a8a8a"/>
<ellipse cx="1101.0" cy="166.5" rx="1.2" ry="2.7" fill="#ffffff"/>
<ellipse cx="1070.6" cy="171.8" rx="1.2" ry="1.8" fill="#b4b4b4"/>
<ellipse cx="1074.6" cy="171.2" rx="0.8" ry="1.9" fill="#8a8a8a"/>
<ellipse cx="1077.3" cy="172.3" rx="0.8" ry="1.9" fill="#8a8a8a"/>
<ellipse cx="1081.8" cy="171.8" rx="0.9" ry="1.8" fill="#b4b4b4"/>
<ellipse cx="1084.1" cy="172.3" rx="1.1" ry="2.5" fill="#8a8a8a"/>
<ellipse cx="1088.5" cy="169.8" rx="1.0" ry="3.0" fill="#8a8a8a"/>
<ellipse cx="1091.9" cy="169.2" rx="0.8" ry="2.0" fill="#ffffff"/>
<ellipse cx="1096.4" cy="169.9" rx="1.1" ry="2.0" fill="#8a8a8a"/>
<ellipse cx="1099.6" cy="170.2" rx="1.0" ry="2.4" fill="#8a8a8a"/>
<ellipse cx="1103.5" cy="170.8" rx="0.8" ry="2.9" fill="#ffffff"/>
<ellipse cx="1072.5" cy="176.1" rx="0.7" ry="2.0" fill="#ffffff"/>
<ellipse cx="1075.5" cy="175.6" rx="0.7" ry="2.6" fill="#ffffff"/>
<ellipse cx="1080.1" cy="175.4" rx="1.0" ry="2.9" fill="#8a8a8a"/>
<ellipse cx="1082.0" cy="176.4" rx="0.9" ry="2.6" fill="#8a8a8a"/>
<ellipse cx="1086.1" cy="178.8" rx="1.1" ry="2.9" fill="#b4b4b4"/>
<ellipse cx="1090.7" cy="177.9" rx="1.3" ry="1.6" fill="#8a8a8a"/>
<ellipse cx="1094.3" cy="175.4" rx="0.8" ry="1.8" fill="#ffffff"/>
<ellipse cx="1096.9" cy="178.1" rx="1.0" ry="2.8" fill="#8a8a8a"/>
<ellipse cx="1100.7" cy="178.9" rx="1.1" ry="2.2" fill="#b4b4b4"/>
<ellipse cx="1069.3" cy="182.3" rx="1.2" ry="2.0" fill="#ffffff"/>
<ellipse cx="1073.6" cy="184.2" rx="1.1" ry="1.7" fill="#8a8a8a"/>
<ellipse cx="1078.3" cy="184.3" rx="0.9" ry="2.3" fill="#b4b4b4"/>
<ellipse cx="1081.4" cy="182.7" rx="0.7" ry="2.9" fill="#b4b4b4"/>
<ellipse cx="1084.8" cy="182.9" rx="0.8" ry="2.5" fill="#8a8a8a"/>
<ellipse cx="1088.7" cy="184.4" rx="1.1" ry="1.8" fill="#ffffff"/>
<ellipse cx="1093.0" cy="185.0" rx="1.1" ry="2.8" fill="#8a8a8a"/>
<ellipse cx="1094.9" cy="181.7" rx="0.8" ry="1.6" fill="#8a8a8a"/>
<ellipse cx="1098.6" cy="185.3" rx="0.7" ry="2.6" fill="#8a8a8a"/>
<ellipse cx="1103.0" cy="183.6" rx="1.2" ry="3.0" fill="#ffffff"/>
<ellipse cx="1071.1" cy="188.1" rx="0.8" ry="2.1" fill="#8a8a8a"/>
<ellipse cx="1075.5" cy="191.1" rx="0.9" ry="2.4" fill="#8a8a8a"/>
<ellipse cx="1078.3" cy="189.2" rx="0.9" ry="2.5" fill="#b4b4b4"/>
<ellipse cx="1083.5" cy="189.9" rx="0.8" ry="1.6" fill="#8a8a8a"/>
<ellipse cx="1086.9" cy="190.8" rx="0.8" ry="2.9" fill="#8a8a8a"/>
<ellipse cx="1090.6" cy="188.5" rx="0.8" ry="2.1" fill="#ffffff"/>
<ellipse cx="1094.6" cy="189.0" rx="1.2" ry="2.6" fill="#b4b4b4"/>
<ellipse cx="1097.1" cy="191.1" rx="0.8" ry="1.7" fill="#8a8a8a"/>
<ellipse cx="1101.3" cy="190.4" rx="1.2" ry="1.9" fill="#8a8a8a"/>
<ellipse cx="1071.3" cy="196.3" rx="1.0" ry="1.7" fill="#8a8a8a"/>
<ellipse cx="1073.1" cy="196.2" rx="0.9" ry="2.0" fill="#ffffff"/>
<ellipse cx="1077.3" cy="195.5" rx="1.2" ry="2.9" fill="#b4b4b4"/>
<ellipse cx="1080.9" cy="194.0" rx="1.0" ry="2.6" fill="#8a8a8a"/>
<ellipse cx="1084.5" cy="196.6" rx="1.0" ry="2.9" fill="#8a8a8a"/>
<ellipse cx="1088.3" cy="195.3" rx="1.2" ry="2.3" fill="#8a8a8a"/>
<ellipse cx="1091.4" cy="195.1" rx="1.0" ry="2.6" fill="#8a8a8a"/>
<ellipse cx="1096.3" cy="196.3" rx="0.8" ry="2.2" fill="#b4b4b4"/>
<ellipse cx="1098.9" cy="194.8" rx="1.1" ry="2.2" fill="#8a8a8a"/>
<ellipse cx="1102.7" cy="197.6" rx="0.9" ry="2.2" fill="#b4b4b4"/>
<ellipse cx="1072.0" cy="203.1" rx="0.8" ry="2.4" fill="#8a8a8a"/>
<ellipse cx="1074.8" cy="202.8" rx="1.1" ry="2.9" fill="#b4b4b4"/>
<ellipse cx="1079.2" cy="201.0" rx="0.9" ry="2.5" fill="#8a8a8a"/>
<ellipse cx="1083.4" cy="203.6" rx="1.0" ry="2.3" fill="#ffffff"/>
<ellipse cx="1086.0" cy="201.5" rx="1.2" ry="3.0" fill="#b4b4b4"/>
<ellipse cx="1090.7" cy="203.8" rx="1.0" ry="2.1" fill="#8a8a8a"/>
<ellipse cx="1093.9" cy="203.2" rx="1.3" ry="2.4" fill="#b4b4b4"/>
<ellipse cx="1096.8" cy="203.8" rx="0.8" ry="2.9" fill="#8a8a8a"/>
<ellipse cx="1101.7" cy="200.5" rx="1.2" ry="1.6" fill="#b4b4b4"/>
<ellipse cx="1069.5" cy="208.5" rx="1.0" ry="2.4" fill="#ffffff"/>
<ellipse cx="1073.0" cy="209.0" rx="1.3" ry="2.4" fill="#ffffff"/>
<ellipse cx="1077.8" cy="206.4" rx="1.0" ry="2.0" fill="#ffffff"/>
<ellipse cx="1080.4" cy="209.0" rx="0.9" ry="2.3" fill="#8a8a8a"/>
<ellipse cx="1085.8" cy="206.4" rx="1.3" ry="2.4" fill="#ffffff"/>
<ellipse cx="1087.4" cy="208.6" rx="1.3" ry="3.0" fill="#8a8a8a"/>
<ellipse cx="1091.3" cy="206.4" rx="1.2" ry="1.9" fill="#ffffff"/>
<ellipse cx="1094.6" cy="207.9" rx="1.3" ry="2.4" fill="#b4b4b4"/>
<ellipse cx="1098.2" cy="209.0" rx="0.8" ry="1.8" fill="#8a8a8a"/>
<ellipse cx="1102.7" cy="208.1" rx="1.3" ry="2.4" fill="#ffffff"/>
</g>
<polygon points="1069.3,46 1103.8,46 1103.8,212.5 1069.3,212.5" fill="none" stroke="#555" stroke-width="1.2"/>
<g transform="translate(801.5,42.5) rotate(8) scale(1.4,1.4)" filter="url(#soft)">
<circle cx="-5.5" cy="-1.2" r="3.3" fill="url(#gC)"/>
<circle cx="0" cy="0.6" r="3.5" fill="url(#gC)"/>
<circle cx="5.3" cy="-1.6" r="3.3" fill="url(#gC)"/>
<circle cx="-8.6" cy="-3.2" r="1.7" fill="url(#gH)"/>
<circle cx="-7.0" cy="2.0" r="1.7" fill="url(#gH)"/>
<circle cx="8.4" cy="-3.4" r="1.7" fill="url(#gH)"/>
<circle cx="7.4" cy="1.6" r="1.7" fill="url(#gH)"/>
<circle cx="-4.2" cy="-4.6" r="1.6" fill="url(#gH)"/>
<circle cx="4.4" cy="-5.0" r="1.6" fill="url(#gH)"/>
<circle cx="0.6" cy="6.6" r="3.2" fill="url(#gO)"/>
<circle cx="1.6" cy="10.4" r="1.6" fill="url(#gH)"/>
</g>
<g transform="translate(823.5,86) rotate(12) scale(1.4,1.4)" filter="url(#soft)">
<circle cx="-5.5" cy="-1.2" r="3.3" fill="url(#gC)"/>
<circle cx="0" cy="0.6" r="3.5" fill="url(#gC)"/>
<circle cx="5.3" cy="-1.6" r="3.3" fill="url(#gC)"/>
<circle cx="-8.6" cy="-3.2" r="1.7" fill="url(#gH)"/>
<circle cx="-7.0" cy="2.0" r="1.7" fill="url(#gH)"/>
<circle cx="8.4" cy="-3.4" r="1.7" fill="url(#gH)"/>
<circle cx="7.4" cy="1.6" r="1.7" fill="url(#gH)"/>
<circle cx="-4.2" cy="-4.6" r="1.6" fill="url(#gH)"/>
<circle cx="4.4" cy="-5.0" r="1.6" fill="url(#gH)"/>
<circle cx="0.6" cy="6.6" r="3.2" fill="url(#gO)"/>
<circle cx="1.6" cy="10.4" r="1.6" fill="url(#gH)"/>
</g>
<g transform="translate(836.5,133) rotate(-42) scale(1.4,1.4)" filter="url(#soft)">
<circle cx="-5.5" cy="-1.2" r="3.3" fill="url(#gC)"/>
<circle cx="0" cy="0.6" r="3.5" fill="url(#gC)"/>
<circle cx="5.3" cy="-1.6" r="3.3" fill="url(#gC)"/>
<circle cx="-8.6" cy="-3.2" r="1.7" fill="url(#gH)"/>
<circle cx="-7.0" cy="2.0" r="1.7" fill="url(#gH)"/>
<circle cx="8.4" cy="-3.4" r="1.7" fill="url(#gH)"/>
<circle cx="7.4" cy="1.6" r="1.7" fill="url(#gH)"/>
<circle cx="-4.2" cy="-4.6" r="1.6" fill="url(#gH)"/>
<circle cx="4.4" cy="-5.0" r="1.6" fill="url(#gH)"/>
<circle cx="0.6" cy="6.6" r="3.2" fill="url(#gO)"/>
</g>
<g transform="translate(823.5,177) rotate(-40) scale(1.4,1.4)" filter="url(#soft)">
<circle cx="-5.5" cy="-1.2" r="3.3" fill="url(#gC)"/>
<circle cx="0" cy="0.6" r="3.5" fill="url(#gC)"/>
<circle cx="5.3" cy="-1.6" r="3.3" fill="url(#gC)"/>
<circle cx="-8.6" cy="-3.2" r="1.7" fill="url(#gH)"/>
<circle cx="-7.0" cy="2.0" r="1.7" fill="url(#gH)"/>
<circle cx="8.4" cy="-3.4" r="1.7" fill="url(#gH)"/>
<circle cx="7.4" cy="1.6" r="1.7" fill="url(#gH)"/>
<circle cx="-4.2" cy="-4.6" r="1.6" fill="url(#gH)"/>
<circle cx="4.4" cy="-5.0" r="1.6" fill="url(#gH)"/>
<circle cx="0.6" cy="6.6" r="3.2" fill="url(#gO)"/>
</g>
<g transform="translate(804.5,219) rotate(-42) scale(1.4,1.4)" filter="url(#soft)">
<circle cx="-5.5" cy="-1.2" r="3.3" fill="url(#gC)"/>
<circle cx="0" cy="0.6" r="3.5" fill="url(#gC)"/>
<circle cx="5.3" cy="-1.6" r="3.3" fill="url(#gC)"/>
<circle cx="-8.6" cy="-3.2" r="1.7" fill="url(#gH)"/>
<circle cx="-7.0" cy="2.0" r="1.7" fill="url(#gH)"/>
<circle cx="8.4" cy="-3.4" r="1.7" fill="url(#gH)"/>
<circle cx="7.4" cy="1.6" r="1.7" fill="url(#gH)"/>
<circle cx="-4.2" cy="-4.6" r="1.6" fill="url(#gH)"/>
<circle cx="4.4" cy="-5.0" r="1.6" fill="url(#gH)"/>
<circle cx="0.6" cy="6.6" r="3.2" fill="url(#gO)"/>
</g>
<line x1="868.7" y1="205.3" x2="832.3" y2="205.3" stroke="#f09494" stroke-width="2.8" />
<path d="M826,205.3 L836.5,200.5 L833.56,205.3 L836.5,210.10000000000002 Z" fill="#f09494"/>
<line x1="1007.6" y1="205.6" x2="1045.5" y2="205.6" stroke="#8685e4" stroke-width="2.8" />
<path d="M1051.8,205.6 L1041.3,200.79999999999998 L1044.24,205.6 L1041.3,210.4 Z" fill="#8685e4"/>
</g>
<g id="photoE">
<clipPath id="pe_c"><rect x="186" y="739" width="93.9" height="70.6"/></clipPath>
<linearGradient id="peBg" x1="0" y1="0" x2="1" y2="0"><stop offset="0" stop-color="#5e5a58"/><stop offset="0.35" stop-color="#4a4644"/><stop offset="0.7" stop-color="#343234"/><stop offset="1" stop-color="#2c2a2c"/></linearGradient>
<linearGradient id="pePaper" x1="0" y1="0" x2="0" y2="1"><stop offset="0" stop-color="#d6d6d6"/><stop offset="1" stop-color="#c2c4c7"/></linearGradient>
<linearGradient id="peOr" x1="0" y1="0" x2="0" y2="1"><stop offset="0" stop-color="#c2501a"/><stop offset="1" stop-color="#7a3a22" stop-opacity="0.3"/></linearGradient>
<linearGradient id="peBl" x1="0" y1="0" x2="0" y2="1"><stop offset="0" stop-color="#3f9cc0"/><stop offset="0.45" stop-color="#3583a3"/><stop offset="1" stop-color="#2e4450" stop-opacity="0.2"/></linearGradient>
<g clip-path="url(#pe_c)">
<rect x="184" y="737" width="98" height="76" fill="url(#peBg)"/>
<g filter="url(#blur1)">
<rect x="186" y="739" width="25" height="7" fill="#8a8782" opacity="0.8"/>
<rect x="196" y="744" width="12" height="12" fill="#6d6a66" opacity="0.7"/>
<rect x="212.5" y="737" width="9.5" height="30" fill="url(#peOr)"/>
<rect x="247" y="737" width="19" height="26" fill="url(#peBl)"/>
<rect x="266" y="737" width="14" height="5" fill="#5a5c60"/>
<polygon points="185,810 200.8,770.8 256.5,768.8 281,798.5 281,811" fill="url(#pePaper)"/>
<rect x="222.2" y="750" width="24" height="39.5" rx="5" fill="#c3c5c4"/>
<rect x="224" y="752" width="20.5" height="8" rx="2" fill="#d4d5d4"/>
<rect x="229.5" y="754.5" width="9" height="6.5" fill="#8d8f90"/>
<rect x="222.6" y="760.7" width="23.4" height="9.8" fill="#e9e9e8"/>
<rect x="224" y="772" width="20.5" height="16" rx="4.5" fill="#d8d9d8"/>
<ellipse cx="234.3" cy="786" rx="9" ry="3" fill="#b4b6b6"/>
<ellipse cx="250" cy="782" rx="5" ry="2.6" fill="#dedede"/>
<rect x="221.4" y="737" width="25.8" height="14.4" rx="2.5" fill="#eeeeed"/>
</g>
<text x="234.2" y="768.6" font-size="6.4" text-anchor="middle" fill="#2e2e2e" font-weight="bold" filter="url(#soft)" textLength="19.5" lengthAdjust="spacingAndGlyphs">IPA EC</text>
</g></g>
<g id="photoG">
<clipPath id="pg_c"><rect x="483.2" y="625.2" width="129.8" height="132.5"/></clipPath>
<linearGradient id="plateG" x1="0" y1="0" x2="0.25" y2="1"><stop offset="0" stop-color="#cdcec8"/><stop offset="0.35" stop-color="#bcbdb7"/><stop offset="0.7" stop-color="#afb0aa"/><stop offset="1" stop-color="#a6a7a2"/></linearGradient>
<linearGradient id="pgBg" x1="0" y1="0" x2="0" y2="1"><stop offset="0" stop-color="#a8a9b3"/><stop offset="0.6" stop-color="#9b9ca6"/><stop offset="1" stop-color="#878892"/></linearGradient>
<g clip-path="url(#pg_c)">
<rect x="482" y="624" width="133" height="135" fill="url(#pgBg)"/>
<g filter="url(#blur1)">
<rect x="515.2" y="629" width="9.2" height="9" rx="2" fill="#48484d"/><circle cx="519.8" cy="634.3" r="1.1" fill="#e2e2e2"/>
<rect x="537" y="629" width="9.8" height="9" rx="2" fill="#48484d"/><circle cx="541.9" cy="634.3" r="1.1" fill="#e2e2e2"/>
<rect x="562.3" y="629" width="9.9" height="9" rx="2" fill="#48484d"/><circle cx="567.2" cy="634.3" r="1.1" fill="#e2e2e2"/>
<rect x="583.9" y="629" width="10.1" height="9" rx="2" fill="#48484d"/><circle cx="589.0" cy="634.3" r="1.1" fill="#e2e2e2"/>
<polygon points="488.1,636.8 609.7,636.3 606.9,756 493.3,756.3" fill="url(#plateG)"/>
<polygon points="488.1,636.8 609.7,636.3 609.6,638.6 488.2,639" fill="#dedfd8" opacity="0.9"/>
</g>
<g filter="url(#blur1)"><circle cx="494.8" cy="643.6" r="5.6" fill="#66666b"/><circle cx="494.5" cy="643.3000000000001" r="3.9" fill="#9c9ca1"/><circle cx="495.1" cy="644.0" r="2.3" fill="#6e6f74"/><circle cx="494.0" cy="642.4" r="1.2" fill="#d8d8dc"/></g>
<g filter="url(#blur1)"><circle cx="531.5" cy="643" r="5.6" fill="#66666b"/><circle cx="531.2" cy="642.7" r="3.9" fill="#9c9ca1"/><circle cx="531.8" cy="643.4" r="2.3" fill="#6e6f74"/><circle cx="530.7" cy="641.8" r="1.2" fill="#d8d8dc"/></g>
<g filter="url(#blur1)"><circle cx="566.8" cy="643.3" r="5.6" fill="#66666b"/><circle cx="566.5" cy="643.0" r="3.9" fill="#9c9ca1"/><circle cx="567.0999999999999" cy="643.6999999999999" r="2.3" fill="#6e6f74"/><circle cx="566.0" cy="642.0999999999999" r="1.2" fill="#d8d8dc"/></g>
<g filter="url(#blur1)"><circle cx="603.2" cy="644" r="5.6" fill="#66666b"/><circle cx="602.9000000000001" cy="643.7" r="3.9" fill="#9c9ca1"/><circle cx="603.5" cy="644.4" r="2.3" fill="#6e6f74"/><circle cx="602.4000000000001" cy="642.8" r="1.2" fill="#d8d8dc"/></g>
<g filter="url(#blur1)"><circle cx="495.6" cy="680.6" r="5.6" fill="#66666b"/><circle cx="495.3" cy="680.3000000000001" r="3.9" fill="#9c9ca1"/><circle cx="495.90000000000003" cy="681.0" r="2.3" fill="#6e6f74"/><circle cx="494.8" cy="679.4" r="1.2" fill="#d8d8dc"/></g>
<g filter="url(#blur1)"><circle cx="601.9" cy="680.3" r="5.6" fill="#66666b"/><circle cx="601.6" cy="680.0" r="3.9" fill="#9c9ca1"/><circle cx="602.1999999999999" cy="680.6999999999999" r="2.3" fill="#6e6f74"/><circle cx="601.1" cy="679.0999999999999" r="1.2" fill="#d8d8dc"/></g>
<g filter="url(#blur1)"><circle cx="496.4" cy="713.7" r="5.6" fill="#66666b"/><circle cx="496.09999999999997" cy="713.4000000000001" r="3.9" fill="#9c9ca1"/><circle cx="496.7" cy="714.1" r="2.3" fill="#6e6f74"/><circle cx="495.59999999999997" cy="712.5" r="1.2" fill="#d8d8dc"/></g>
<g filter="url(#blur1)"><circle cx="600.2" cy="713.7" r="5.6" fill="#66666b"/><circle cx="599.9000000000001" cy="713.4000000000001" r="3.9" fill="#9c9ca1"/><circle cx="600.5" cy="714.1" r="2.3" fill="#6e6f74"/><circle cx="599.4000000000001" cy="712.5" r="1.2" fill="#d8d8dc"/></g>
<g filter="url(#blur1)"><circle cx="497.9" cy="747.9" r="5.6" fill="#66666b"/><circle cx="497.59999999999997" cy="747.6" r="3.9" fill="#9c9ca1"/><circle cx="498.2" cy="748.3" r="2.3" fill="#6e6f74"/><circle cx="497.09999999999997" cy="746.6999999999999" r="1.2" fill="#d8d8dc"/></g>
<g filter="url(#blur1)"><circle cx="531.5" cy="748" r="5.6" fill="#66666b"/><circle cx="531.2" cy="747.7" r="3.9" fill="#9c9ca1"/><circle cx="531.8" cy="748.4" r="2.3" fill="#6e6f74"/><circle cx="530.7" cy="746.8" r="1.2" fill="#d8d8dc"/></g>
<g filter="url(#blur1)"><circle cx="565.2" cy="748" r="5.6" fill="#66666b"/><circle cx="564.9000000000001" cy="747.7" r="3.9" fill="#9c9ca1"/><circle cx="565.5" cy="748.4" r="2.3" fill="#6e6f74"/><circle cx="564.4000000000001" cy="746.8" r="1.2" fill="#d8d8dc"/></g>
<g filter="url(#blur1)"><circle cx="600.2" cy="748" r="5.6" fill="#66666b"/><circle cx="599.9000000000001" cy="747.7" r="3.9" fill="#9c9ca1"/><circle cx="600.5" cy="748.4" r="2.3" fill="#6e6f74"/><circle cx="599.4000000000001" cy="746.8" r="1.2" fill="#d8d8dc"/></g>
<circle cx="497.2" cy="725.6" r="2.6" fill="#d8d8ce" filter="url(#blur1)"/><circle cx="598.9" cy="725.6" r="2.6" fill="#cfc2ba" filter="url(#blur1)"/>
</g></g>
</svg>
</body></html>
